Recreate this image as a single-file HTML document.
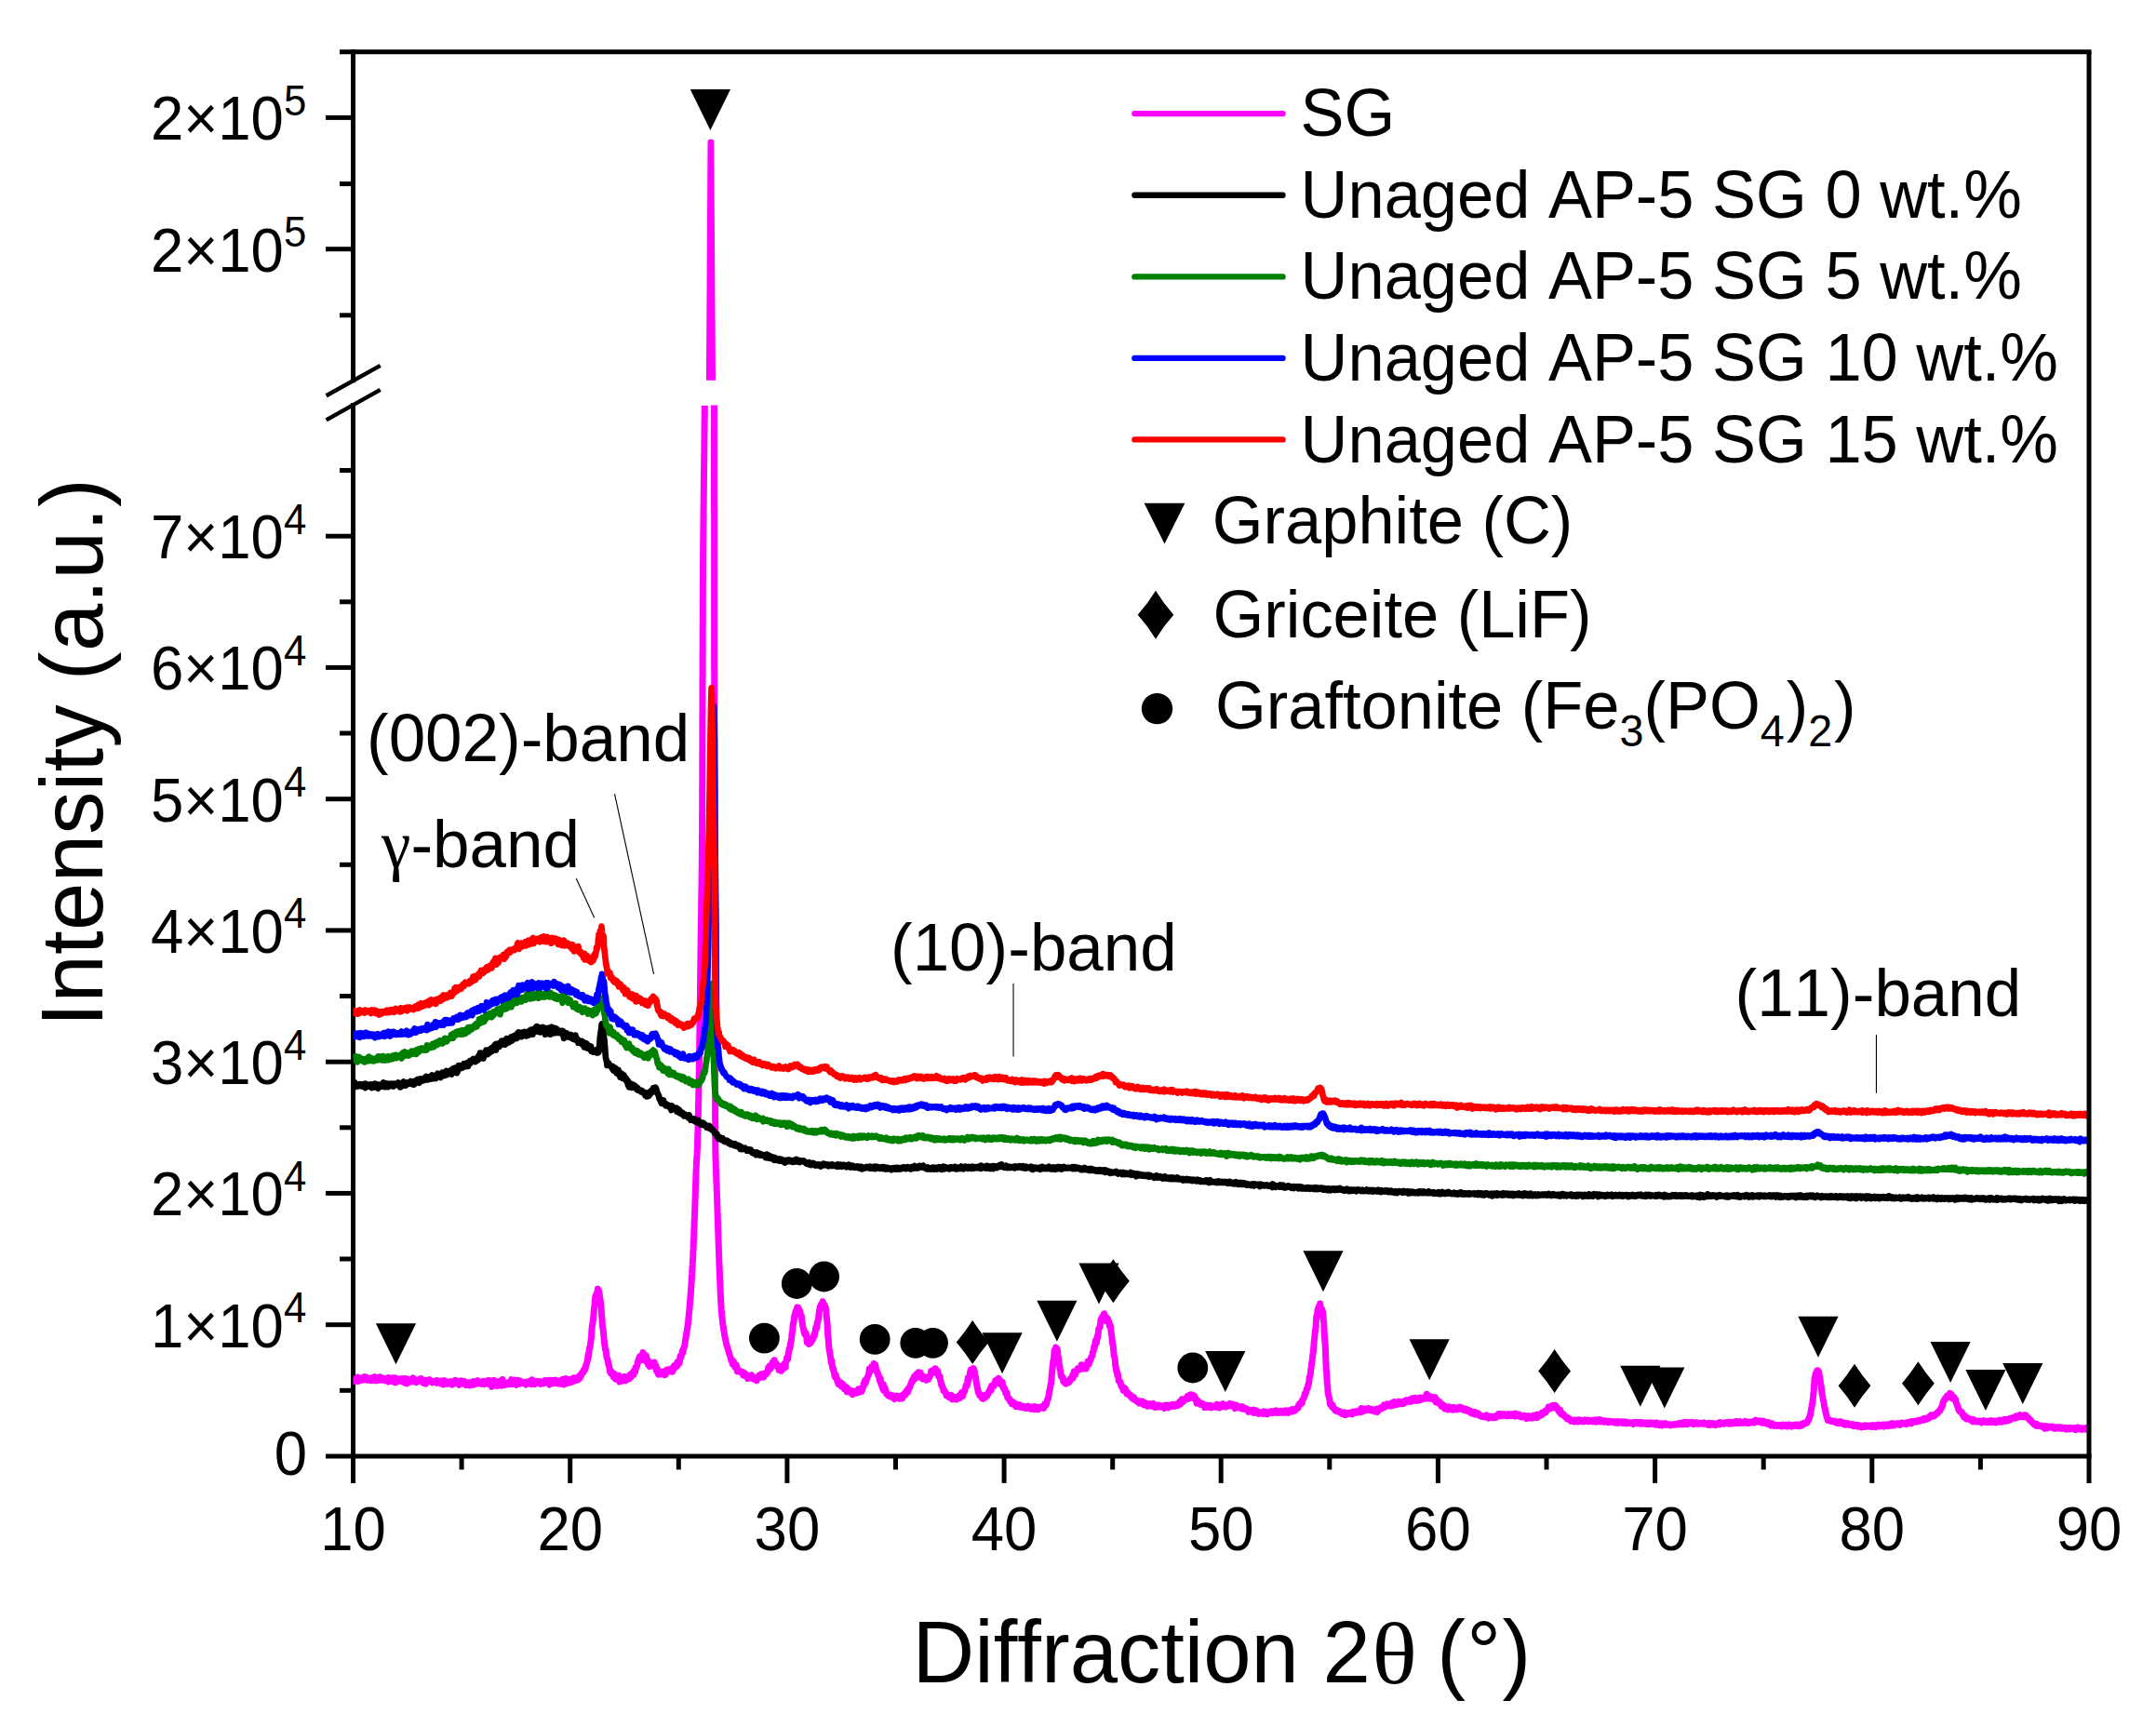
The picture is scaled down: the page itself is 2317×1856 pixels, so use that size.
<!DOCTYPE html>
<html lang="en">
<head>
<meta charset="utf-8">
<title>XRD diffraction patterns</title>
<style>
html,body{margin:0;padding:0;background:#fff;}
body{width:2317px;height:1856px;overflow:hidden;}
svg{display:block;}
text{font-family:"Liberation Sans",Arial,Helvetica,sans-serif;fill:#000;font-kerning:none;}
.sym{font-family:"Liberation Serif","Times New Roman",serif;}
</style>
</head>
<body>
<svg width="2317" height="1856" viewBox="0 0 2317 1856">
<rect x="0" y="0" width="2317" height="1856" fill="#fff"/>
<defs>
<clipPath id="clipLo"><rect x="379.5" y="435.5" width="1865.5" height="1129.4"/></clipPath>
<clipPath id="clipHi"><rect x="379.5" y="55.8" width="1865.5" height="353.4"/></clipPath>
<path id="tri" d="M-21.6 -22 L21.6 -22 L0 22 Z"/>
<path id="dia" d="M0 -23.5 Q8.1 -10.9 17.4 0 Q8.1 10.9 0 23.5 Q-8.1 10.9 -17.4 0 Q-8.1 -10.9 0 -23.5 Z"/>
<circle id="dot" r="16.4"/>
</defs>

<g stroke="#000" stroke-width="5.0" fill="none">
<path d="M379.5 53.3 L379.5 411.2"/>
<path d="M379.5 433.0 L379.5 1593.9"/>
<path d="M350.0 1564.9 L2247.5 1564.9"/>
</g>
<g id="curves">
<path d="M380 1482.8l.5 1.7 .5-.2 .5-2.3 .5 .2 .5-.3 .5 1.4 .5-.8 .5 1 .5-3.5 .5 4.5 .5-2.2 .5 1 .5-1.1 .5-.3 .5 1.1 .5 .4 .5-1.4 .5 .1 .5 1.1 .5-2.1 .5-.9 .5 2.5 .5-1.4 .5-1.7 .5 1.5 .5 .4 .5-.9 .5-.4 .5 2 .5 1.1 .5-1.5 .5-.7 .5 1.5 .5 .4 .5-1.3 .5 1.1 .5 .7 .5-1.7 .5-.8 .5 1.5 .5-.1 .5 1.1 .5-3.2 .5 .9 .5-.3 .5-1.2 .5 2.5 .5 .5 .1-1.6 .4 2.8 .5-.8 .5-.2 .5-.3 .5 .7 .5-3 .5 2.6 .5 0 .5-3.1 .5 2.8 .5-.8 .5 1.4 .5-1.6 .5 .6 .5 .5 .5-1.6 .5 2 .5-.9 .5 .8 .5-1.3 .5 2.2 .5-.6 .5-1.1 .5 1.2 .5 .8 .5 .8 .5-4.5 .5 3.3 .5-.5 .5-.7 .5-1.2 .5 3 .5-3.2 .5 2.4 .5 1 .5-3.8 .5 1.7 .5-1.2 .5 2 .5 1.7 .5 .7 .5-4.9 .5 1.6 .5 1.7 .5 1.1 .5-1.5 .5-1.5 .5 1.4 .2-.4 .3-.2 .5-.7 .5 1.5 .5-.1 .5-.5 .5-.2 .5-1.3 .5 1 .5 2.3 .5-1.8 .5-1.7 .5 3.7 .5-1.1 .5 2.1 .5-2.6 .5-.7 .5-1.3 .5 3.6 .5 1.7 .5-4.4 .5 .2 .5 1.6 .5-1.8 .5 .7 .5-.1 .5 .8 .5 1.2 .5-1.4 .5 1.1 .5-1.7 .5 1 .5-3.2 .5 .9 .5 3 .5-1.8 .5 1.5 .5-0 .5 1 .5-.7 .5 .3 .5-1.4 .5-.8 .5 0 .5 .3 .5-.8 .5 .8 .5 .6 .5 .5 .4-.8 .1-2 .5 2.4 .5 .4 .5 1.2 .5-.7 .5-1.5 .5-.1 .5 3.6 .5-1.6 .5 1.4 .5 .4 .5-3.8 .5 1.6 .5 .2 .5 .1 .5 0 .5-.4 .5 .1 .5-2.2 .5 1.8 .5-.7 .5 1.2 .5-.8 .5 1.5 .5 .3 .5-.6 .5 0 .5-.2 .5-.7 .5 .4 .5-.4 .5 1.2 .5-.4 .5 .7 .5-2.4 .5 2.9 .5-2.1 .5 .1 .5 .7 .5-.4 .5 1.1 .5-1.1 .5-.6 .5 .4 .5 2.7 .5-1.6 .5-1.5 .5 1.5 .5-1.9 0 4.2 .5-4.2 .5 2.6 .5 .1 .5-2.5 .5 2.2 .5 1 .5-.7 .5-.2 .5 .9 .5-1 .5 .2 .5-.5 .5 .9 .5-1.9 .5 2.2 .5-1.6 .5-.8 .5 1.9 .5 1.7 .5-.9 .5-1.9 .5 1.6 .5-1.5 .5 .5 .5 .3 .5-3.1 .5 3.2 .5-1.5 .5 .4 .5-.9 .5-.1 .5 .8 .5 2.2 .5 1.1 .5-2.1 .5 1.4 .5-1.7 .5-2.1 .5 2.6 .5 .4 .5-1.1 .5 .9 .5 .4 .5-1.8 .5-.8 .5 1.6 .5 0 .5-.2 .1 1.7 .4 1 .5-2.8 .5 1.5 .5 .3 .5-.3 .5 .4 .5-1.9 .5 1.5 .5 1.6 .5-1.6 .5-1.8 .5 1.5 .5 .9 .5-1.2 .5-1.2 .5 2.7 .5-3.6 .5 2.2 .5-.7 .5-1.5 .5 3 .5-1.1 .5-1.9 .5 2.2 .5-1.3 .5-1.9 .5 1.5 .5 1.2 .5 .4 .5-.6 .5-.2 .5 .5 .5-.8 .5 1.7 .5-1.3 .5 .1 .5 .3 .5-2 .5 .4 .5 2.9 .5-1.6 .5-.8 .5 .8 .5-1 .5 .9 .5-1.2 .5 1.2 .5-2.4 .2 3.8 .3-2.4 .5-1.4 .5 1.8 .5-.2 .5 .7 .5-1.7 .5 2 .5 4.1 .5-6.2 .5 2 .5-.8 .5 .7 .5-2.6 .5 .9 .5 2 .5-.6 .5 2.2 .5-3 .5 1.1 .5 3.5 .5-4.6 .5-.2 .5 1.1 .5 0 .5 1.2 .5-.9 .5-1.1 .5 1.2 .5 3.1 .5-1.7 .5-5.1 .5 3.3 .5-.9 .5 1.9 .5-1 .5 2.7 .5-1.3 .5 0 .5-.9 .5-.3 .5 .5 .5 1.3 .5-1 .5-1.1 .5 2 .5-1.3 .5-.4 .5-.9 .3 .3 .2-.1 .5-2.7 .5 4.8 .5-.5 .5-1 .5 1.6 .5-.8 .5-.1 .5-3.6 .5 2.8 .5 1 .5 1.3 .5 .3 .5-.5 .5-3.3 .5-1.3 .5 3.5 .5-.7 .5 1.1 .5-1.3 .5 .4 .5-2.2 .5 2.4 .5-1.1 .5 1 .5 .1 .5-.7 .5 .5 .5-.4 .5 1 .5-.4 .5-1.3 .5-.1 .5 3 .5-2.4 .5 1.4 .5-.8 .5-1.2 .5-.3 .5 1.1 .5 .2 .5 .4 .5-2.4 .5 .9 .5 .6 .5 2.1 .5-5 .5 3.5 .4-1.2 .1 1.2 .5-1.2 .5 1.1 .5 1.5 .5-1.5 .5 .1 .5-.1 .5-1.5 .5 1.7 .5-1 .5-.8 .5 1 .5-.2 .5 1.2 .5-1 .5-.7 .5 2.6 .5-.6 .5 .3 .5-.8 .5-1 .5-.4 .5 .2 .5 1.6 .5-1.1 .5-2.1 .5 1.9 .5-1.8 .5 2 .5-1.7 .5-.1 .5 1.7 .5-.2 .5-2.1 .5 3.1 .5 1.8 .5-4.7 .5 4.2 .5-3.2 .5 .3 .5 .4 .5-1.7 .5 3.5 .5-1 .5-1.6 .5 .6 .5-1.6 .5 1.4 .5 1.7 .1-3.4 .4 1.6 .5 .7 .5 1.2 .5 .3 .5-2.3 .5-.4 .5 1.5 .5-1 .5 0 .5 1.8 .5 .8 .5-1.9 .5-.6 .5 1 .5-3.2 .5 2.4 .5-1.4 .5 4.4 .5-2.2 .5-.7 .5-.5 .5-3 .5 4.1 .5 1.2 .5-3.1 .5 1.8 .5-0 .5-3 .5 3.2 0 .5 .5-1.5 .5-.4 .5 1 .5-3.1 .5 2 .5 1.1 .5-3.1 .5 2.8 .5-2 .5-2.3 .5 2.4 .5-1.4 .5 1.5 .5-2.1 .5 2.7 .5-2.6 .5 1.2 .5-1.5 .5 .1 .2 1.9 .3-1.5 .5-1.1 .5-1.6 .5 2.8 .5-1.1 .5-2.1 .5 .2 .5-2.5 .5-.8 .5-.5 .5 .8 .5-1 .5-2.5 .5 1.2 .4-.8 .1-1.1 .5 .1 .5-3.5 .5-1.4 .5-.9 .5-2.8 .5-.9 .5-5.6 .5 1.8 .5-6.2 .2-.3 .3-3.4 .5-.1 .5-2.7 .5-4.4 .5-4.7 .5-8.3 .5-3.2 .4-2.6 .1-2 .5-1.6 .5-6.9 .5-5.8 .5-4.1 .5-6.5 .5-2.8 0 .1 .5 .2 .5-2.2 .5-1.1 .5-.1 .4-4.2 .1 1.3 .5 1.6 .5-1.3 .5 3 .5 4.5 .3 1.5 .2 .9 .5 2.7 .5 5.5 .5 8.6 .5 3.9 .2 3.7 .3 4.3 .5 2.3 .5 4.5 .5 5.7 .5 5.4 .5 3.7 .1 .3 .4 3.2 .5-.3 .5 4.3 .5 4.4 .5 .9 .5 1.6 .5 2.2 .2 1.3 .3 2 .5 .2 .5 3.4 .5 3.5 .5-1.5 .5 3.2 .5-.4 .5-1.1 .5 2 .5-.4 .1 2.5 .4-2.2 .5 3.9 .5-.5 .5-3.1 .5 4.3 .5 1.5 .5-2.8 .5 2.7 .5-3.4 .5 3.1 .5-2.4 .5 3.1 .5-2.9 .5-1.1 .3 4.1 .2 2.5 .5-3.9 .5 1.9 .5-1 .5-.6 .5 1.2 .5 1.3 .5-3.9 .5 2.3 .5-.4 .5-2.5 .5 4 .5 .3 .5-4 .5 3.5 .5-2.5 .5-.4 .5 2.1 .5-1.9 .5-.1 .5 1.5 .5-.6 .2-.6 .3-3.3 .5-.5 .5 3.3 .5-3.3 .5 1 .5-2.3 .5 .6 .5-2.3 .5 3.5 .5-4.6 .5 .5 .5-1 .2 1.8 .3-4.5 .5 .8 .5-1.8 .5-.5 .5-1.7 .5-3.2 .5-.5 .5-2.4 .5 .2 .5-1.6 0-.9 .5 .5 .5 .1 .5 2.7 .5-4.9 .5 1 .5 1.7 .5-5.8 .1 .5 .4 1 .5 2.2 .5 4.8 .5-2.5 .5 2.1 .5-1.6 0-3.5 .5 .9 .5 6.2 .5-.5 .5-1.5 .5 4.8 .5-3.5 .5 4.8 .5 .9 .4-3.3 .1-.6 .5 3.2 .5-3 .5 3.1 .5-3.2 .5 3.2 .5-1.1 .5-.8 .5-.7 .5 1.9 .2-3.3 .3 2.7 .5 .3 .5 2.6 .5-1.9 .5 5.7 .5-1.9 .5-.1 .5 4.6 .5 1.1 .5-2.5 0-1 .5 1.3 .5-1 .5 .5 .5 2.7 .5-1.7 .5-.4 .5 .2 .5-.6 .5 1.2 .5-0 .5-1.9 .5 .6 .5 3.3 .5-3 .2-.9 .3 3.2 .5-3 .5-1.8 .5 2.5 .5-2.5 .5 .4 .5 1.1 .5-.9 .5-1.2 .5 .1 .5-.3 .5 2.4 .5-3.1 .5-.1 .5 3.6 0-3.9 .5 2.8 .5-.6 .5-2.7 .5-2.3 .5 2.3 .5-.2 .5-.1 .5-2 .5 1.2 .5-.4 .5-4.6 .5 3.2 .5-2.7 .5-2 .2 0 .3 3.1 .5-2.4 .5-5.5 .5 1.9 .5-1.5 .5-1.3 .5-1.9 .5-3 .5 2.3 .5-4.4 .5-.6 .7-2.8 3.7-23.2 .3-3 .3-3 .2-3 .3-3 .3-3 .3-3 .2-3 .3-3 .2-3 .2-3 .3-3 .2-3 .2-3 .2-3 .2-3 .2-3 .2-3 .2-3 .1-3 .2-3 .2-3 .1-3 .2-3 .2-3 .1-3 .1-3 .2-3 .1-3 .1-3 .1-3 .2-3 .1-3 .1-3 .1-3 .1-3 .1-3 .1-3 .2-3 .1-3 .1-3 .1-3 .1-3 .1-3 .1-3 .1-3 .1-3 .1-3 .1-3 .1-3 .1-3 .1-3 .1-3 .1-3 .1-3 .1-3 .2-3 .1-3 .1-3 .2-3 .2-3 .2-3 .1-3 .2-3 .1-3 .1-3 0-3 .1-3 .1-3 .1-3 .1-3 0-3 .1-3 .1-3 .1-3 0-3 .1-3 .1-3 0-3 .1-3 .1-3 0-3 .1-3 0-3 .1-3 .1-3 0-3 .1-3 0-3 .1-3 0-3 .1-3 0-3 .1-3 0-3 .1-3 0-3 .1-3 0-3 .1-3 0-3 0-3 .1-3 0-3 .1-3 0-3 .1-3 -0-3 0-3 .1-3 0-3 .1-3 -0-3 0-3 .1-3 0-3 0-3 .1-3 0-3 .1-3 -0-3 0-3 .1-3 0-3 0-3 .1-3 0-3 .1-3 -0-3 0-3 .1-3 0-3 0-3 .1-3 0-3 .1-3 -0-3 0-3 .1-3 0-3 .1-3 0-3 0-3 .1-3 0-3 .1-3 0-3 .1-3 0-3 .1-3 0-3 0-3 .1-3 0-3 .1-3 0-3 .1-3 0-3 .1-3 -0-3 0-3 .1-3 0-3 0-3 .1-3 0-3 0-3 .1-3 -0-3 0-3 0-3 .1-3 -0-3 0-3 0-3 0-3 .1-3 -0-3 -0-3 -0-3 0-3 0-3 0-3 0-3 .1-3 -0-3 -0-3 -0-3 0-3 0-3 0-3 0-3 0-3 .1-3 -0-3 -0-3 -0-3 -0-3 -0-3 0-3 0-3 0-3 0-3 0-3 0-3 0-3 .1-3 -0-3 -0-3 -0-3 -0-3 -0-3 -0-3 0-3 0-3 0-3 0-3 0-3 0-3 .1-3 -0-3 -0-3 -0-3 -0-3 -0-3 -0-3 0-3 0-3 0-3 0-3 0-3 0-3 .1-3 -0-3 -0-3 -0-3 0-3 0-3 0-3 0-3 0-3 .1-3 -0-3 -0-3 -0-3 -0-3 0-3 0-3 0-3 0-3 0-3 .1-3 -0-3 -0-3 -0-3 0-3 0-3 0-3 0-3 0-3 .1-3 -0-3 -0-3 0-3 0-3 0-3 0-3 .1-3 -0-3 -0-3 0-3 0-3 0-3 .1-3 -0-3 0-3 0-3 .1-3 -0-3 0-3 0-3 .1-3 -0-3 0-3 .1-3 -0-3 0-3 .1-3 -0-3 0-3 0-3 .1-3 0-3 0-3 .1-3 0-3 0-3 .1-3 0-3 0-3 .1-3 0-3 0-3 .1-3 -0-3 0-3 .1-3 -0-3 0-3 .1-3 -0-3 0-3 .1-3 -0-3 0-3 .1-3 -0-3 0-3 .1-3 0-3 0-3 .1-3 0-3 0-3 .1-3 0-3 .1-3 -0-3 0-3 .1-3" fill="none" stroke="#ff00ff" stroke-width="7.0" stroke-linejoin="round" stroke-linecap="butt" clip-path="url(#clipLo)" />
<path d="M767.5 433l-0 3 -0 3 -0 3 -0 3 -0 3 -0 3 -0 3 -0 3 -0 3 -0 3 -0 3 -0 3 -0 3 -0 3 -0 3 -0 3 -0 3 0 3 0 3 0 3 0 3 0 3 0 3 0 3 0 3 0 3 0 3 0 3 0 3 0 3 0 3 0 3 0 3 0 3 0 3 0 3 0 3 .1 3 -0 3 -0 3 -0 3 -0 3 -0 3 -0 3 -0 3 -0 3 -0 3 -0 3 -0 3 -0 3 -0 3 -0 3 -0 3 -0 3 -0 3 -0 3 -0 3 -0 3 -0 3 -0 3 0 3 0 3 0 3 0 3 0 3 0 3 0 3 0 3 0 3 0 3 0 3 0 3 0 3 0 3 0 3 0 3 0 3 0 3 0 3 0 3 0 3 0 3 0 3 0 3 0 3 0 3 0 3 0 3 0 3 0 3 0 3 0 3 0 3 0 3 0 3 .1 3 -0 3 -0 3 -0 3 -0 3 -0 3 -0 3 -0 3 -0 3 -0 3 -0 3 -0 3 -0 3 -0 3 -0 3 -0 3 -0 3 -0 3 -0 3 -0 3 -0 3 -0 3 -0 3 -0 3 -0 3 -0 3 -0 3 0 3 0 3 0 3 0 3 0 3 0 3 0 3 0 3 0 3 0 3 0 3 0 3 .1 3 -0 3 -0 3 -0 3 -0 3 -0 3 -0 3 -0 3 0 3 0 3 0 3 0 3 0 3 0 3 .1 3 -0 3 -0 3 -0 3 -0 3 -0 3 0 3 0 3 0 3 0 3 0 3 0 3 .1 3 -0 3 -0 3 -0 3 -0 3 0 3 0 3 0 3 0 3 0 3 0 3 .1 3 -0 3 -0 3 -0 3 -0 3 0 3 0 3 0 3 0 3 0 3 0 3 .1 3 -0 3 -0 3 -0 3 -0 3 -0 3 0 3 0 3 0 3 0 3 0 3 0 3 0 3 0 3 .1 3 -0 3 -0 3 -0 3 -0 3 -0 3 -0 3 -0 3 -0 3 0 3 0 3 0 3 0 3 0 3 0 3 0 3 0 3 0 3 0 3 0 3 .1 3 -0 3 -0 3 -0 3 -0 3 -0 3 -0 3 -0 3 -0 3 -0 3 -0 3 0 3 0 3 0 3 0 3 0 3 0 3 0 3 0 3 .1 3 -0 3 -0 3 -0 3 -0 3 -0 3 -0 3 0 3 0 3 0 3 0 3 0 3 .1 3 -0 3 -0 3 -0 3 -0 3 0 3 0 3 0 3 0 3 .1 3 -0 3 -0 3 -0 3 0 3 0 3 0 3 .1 3 -0 3 -0 3 0 3 .1 3 0 3 .1 3 .1 3 .1 3 .1 3 .1 3 .1 3 .1 3 .1 3 .1 3 .1 3 .2 3 .1 3 .1 3 .1 3 .1 3 .1 3 .1 3 .1 3 .1 3 .1 3 .1 3 .1 3 .1 3 .1 3 .1 3 .1 3 .1 3 .1 3 .1 3 .1 3 .1 3 .1 3 .1 3 .1 3 .1 3 .1 3 .1 3 .1 3 .1 3 .1 3 .2 3 .1 3 .1 3 .1 3 .1 3 .2 3 .1 3 .1 3 .1 3 .2 3 .1 3 .2 3 .1 3 .2 3 .2 3 .2 3 .3 3 .2 3 .3 3 .4 3 .3 3 .5 3 .4 3 .5 3 .5 3 .6 3 .6 3 .7 3 .8 3 .9 3 .9 3 .9 3 1 3 .1 .1 .5 2.7 .5 .6 .5 .9 .5 2.4 .5-3.6 .5 1.9 .5-.2 .5 2.7 .5 2.6 .5-.8 .5 1.5 .5-3 .5 3.8 .5-1 .2 4.2 .3-1 .5 .6 .5-1 .5 1.5 .5 .5 .5-1 .5 .2 .5 1 .5-.3 .5 .4 .5 .8 .5-.2 .5 2.4 .5-3 .5 3.7 .5-1.7 .5 .4 .5-.9 .5 1.9 .4-0 .1 .6 .5-.8 .5 1.1 .5 2.5 .5-1.7 .5-1.2 .5 2.3 .5-1.4 .5 1.2 .5 .2 .5-1.3 .5-1.9 .5 2.2 .5 1.4 .5-1.2 .5 1.2 .5 .8 .5-2 .5 2.4 .5 .5 0-.7 .5 .1 .5-.1 .5 1.5 .5-2.9 .5-.3 .5 .7 .5-2.1 .5-1 .5 .7 .5 1.6 .5-.1 .5-2.9 .5-.7 .5 2 .5-.1 .5-0 .5 .8 .5 .5 .5-1.6 .2 .4 .3-2.6 .5-.5 .5 1.4 .5 0 .5-.6 .5-.9 .5-.5 .5-.8 .5-4.5 .5 .7 .5 1.1 .5-.5 .2-3.4 .3 3.7 .5-3.1 .5-.3 .5 .1 .5 .1 .5-4 .5 3.3 .5-1.9 .5-1.6 .5 .7 0-3 .5 2.5 .5 1.5 .5-1.1 .5 1 .5 .7 .5 .8 .5 1.9 .1-1.5 .4-0 .5 1.8 .5 3 .5-3 .5 1.9 .5-2.7 .5 4.7 .3-1 .2 1 .5-2.3 .5-1.8 .5 2.4 .5-.8 .5-3.2 .5-1.7 .5 2.1 .5-1.9 .5 3.5 .1-5.3 .4-.8 .5-.6 .5-4 .5-.4 .5 2.2 .5-4.9 .5-3 .5-3.3 .5 .6 .4-1.9 .1-1 .5-3.9 .5-2 .5-3.3 .5-5.4 .5-1.5 .5-7.9 .5-2 0 1.4 .5-3 .5-5.4 .5-1.1 .5-1.6 .4-2.2 .1-.4 .5 .3 .5-1.2 .5-2.8 .5 1.3 .3 2.4 .2-3.9 .5 2.4 .5 .2 .5 .5 .5 1.3 .5 3.4 .2 1.1 .3 .8 .5-.9 .5 4.2 .5 3.5 .5 3.6 .5 2.1 .5 2.7 .5 2.6 .5 1.3 .1-2.4 .4 2.5 .5 .2 .5-1.3 .5 2.5 .5 7.3 .5-4.1 .5-1 .5 3.4 .5 3.8 .4-2.4 .1 .7 .5-1.2 .5-0 .5 1.7 .5-1.3 .5-2.1 .5 .8 .5-.6 .5-3 .5-.1 .2-.5 .3-2 .5 1.7 .5-3.6 .5-2.4 .5-3.5 .5-1.4 .5 2.4 .5-6.5 .5 .3 .1-1.7 .4-.8 .5-3.1 .5-5.8 .5-2.6 .5-2.2 .5-1.6 -0-.2 .5-1.5 .5 .6 .5 .3 .5-1.8 .5-2.4 .4 1.7 .1-.5 .5 1.1 .5 3.2 .5-2 .5 2 .5 .6 .5 3.1 -0-.4 .5 7.1 .5 3.8 .5 5.8 .5 11.6 .5 1.9 .5 9.3 .2 1.6 .3 1.9 .5 2.3 .5 3.6 .5 2.8 .5 4.8 .5-2.3 .5 5.3 .5 3.2 .5 .8 .5-.2 -0 2.4 .5 .7 .5 3.6 .5 2 .5-.6 .5-1.7 .5 3.4 .5-0 .5 3 .5 2.1 .5-1.1 .5 2.9 .5-0 0-1.1 .5-1.4 .5 1.9 .5-1.4 .5 3.6 .5-.7 .5 2 .5-1 .5-2.3 .5 3.5 .5 .7 .5 1.3 .5-2.8 .5 .4 .5 1.5 .2-1.2 .3-.2 .5 .7 .5 4.7 .5-3.4 .5-.1 .5 1.1 .5 .8 .5 1.9 .5-.1 .5 .2 .5-.6 .5 .4 .5-.6 .5-.8 .5 4.1 .5-2.6 .5 1.6 .2-1.4 .3 .2 .5-.1 .5-1.4 .5 1.3 .5 .4 .5 .4 .5-.6 .5 .4 .5-1 .5-.6 .5-2.5 .5 1.3 .5 2.1 .5-1.9 .5 .4 .5-1.5 .5-.9 .1 3.1 .4-2.3 .5 .7 .5-1.8 .5-1.9 .5-3.4 .5 1.8 .5-3.3 .5-2 .5 3.2 .5-1.9 .5-1.2 .5-1.9 .2-.5 .3-.1 .5-1.7 .5-1.4 .5-.5 .5-6 .5 3.6 .5-3.5 .5 1.3 .5-.3 .5-3.5 -0 2.5 .5-.3 .5-2.5 .5-0 .5 .8 .5-3.8 .5 2.7 .5 .9 .1-1 .4-1.5 .5 2.6 .5 4.2 .5 1.3 .5-.4 .5 .8 .5 2.7 .2 .7 .3-.3 .5 1.8 .5 2.7 .5 1.7 .5-3 .5 5.7 .5 .2 .5 2.4 .5-.3 .5 1.5 0 1.6 .5-4.7 .5 6.3 .5-.8 .5-1.5 .5-.1 .5 4.1 .5-.8 .5 3 .5-.3 .5 .2 .5 1.7 .5-.5 .1 .6 .4 .4 .5-.2 .5 .8 .5 .3 .5-2 .5 1.5 .5 .4 .5-0 .5-1.1 .5 1.3 .5 1 .5 0 .5 1.5 .5-2.2 .3 .2 .2-.1 .5 .2 .5-.3 .5-1.3 .5 2.2 .5 .5 .5 .1 .5-2.4 .5 .8 .5 2 .5-2.2 .5 .4 .5-.7 .5 1 .5-.2 .5 1.3 .5-2.1 .2-.2 .3-1.9 .5 .6 .5-.7 .5-.1 .5-1.6 .5 2.1 .5-3.1 .5 .7 .5-2.4 .5 1 .5 .8 .5-3.6 .3 .9 .2-.8 .5-.5 .5-.8 .5-2.4 .5-.5 .5-1.7 .5-1.5 .5-1.6 .5 1.7 .5-3.2 .5 .9 .5-.9 .3-2.5 .2 2.5 .5-3.2 .5 1.4 .5 .6 .5-3.6 .5-.8 .5-.4 .5 4.2 .5-4 .5-1.4 .1 2.9 .4-1.3 .5 .6 .5-.8 .5-1 .5 2.8 .5 .2 .5-.1 .5 1.1 .2 .3 .3 2.5 .5 0 .5-.1 .5-1.2 .5-.8 .5 2.2 .5 .3 .5 .8 .5-1.3 .5-.1 .5 .6 .3-1.6 .2 .1 .5 1.5 .5-3.2 .5 .6 .5 0 .5-2 .5-.9 .5-3.3 .5 .5 .5-.8 .1 1.2 .4-.6 .5-.9 .5 2.4 .5-2.3 .5-1.5 .5-.6 .5 .8 .2-.8 .3 3.3 .5-1.2 .5-.5 .5 .5 .5 .5 .5 2.4 .5 3.5 .3 .1 .2-.9 .5 1.6 .5-1.1 .5 5.2 .5 .4 .5 3.8 .5-.3 .5 1.2 .5 2.2 .5 .2 .2 2.6 .3-.7 .5 1 .5 .7 .5-0 .5 1.6 .5 .3 .5 2.4 .5-1.3 .5 .8 .5-.4 .5 .5 .5 .4 .2 1.8 .3-1.2 .5 1.2 .5-1 .5 .1 .5-1.4 .5 3.1 .5 1.4 .5-2.1 .5 1.8 .5-.4 .5-1.5 .5 1.6 .5-1.6 .5 .7 .5 1.6 .4-1.1 .1-1.3 .5 2.5 .5-2.6 .5 .7 .5-.4 .5-.1 .5-1.1 .5-1.2 .5 3.2 .5-3.4 .5-.4 .5-2.2 .5 2.2 .5 .7 .2-.1 .3 1.1 .5-2.1 .5-2.1 .5-1.4 .5 .5 .5-3 .5-1 .5-2.7 .5-.1 .5 1 .5-3.8 -0 .5 .5-5.1 .5 3 .5-3.2 .5-.5 .5-3.4 .5-3.1 .5-1.8 .3 2.4 .2-.9 .5-1.8 .5 1.1 .5-1.1 .5 1.8 .5-1.7 .2-1.3 .3 2 .5 .9 .5 5.4 .5 .2 .5 1.7 .1 2.4 .4 1.6 .5 3.5 .5 2.9 .5 1.4 .5 3.4 .5 1.5 0-1.1 .5 1.5 .5 1.7 .5-1.1 .5 1.2 .5 1.1 .5 .8 .5 .9 .4-1.9 .1 1.7 .5 .3 .5 .8 .5-2.3 .5-.7 .5-1 .5 1.8 .5 .4 .5-2.5 .5 .8 .5 0 .2-0 .3-1.8 .5 .6 .5-1.5 .5-1.8 .5 .5 .5-.8 .5-2.5 .5 .7 .5 .9 .5-5 .5 1.9 .5-.4 .2-1.3 .3 0 .5-1.3 .5 1.5 .5-3.4 .5 .4 .5-2.8 .5 2.4 .5-.3 .5-3 .5 .7 .5 1.6 .5-1.4 .2-1 .3-1.6 .5 3.7 .5 2.2 .5-3 .5 1.4 .5 .2 .5-.4 .4 .4 .1 .1 .5-.6 .5 5.1 .5 1.5 .5-1.5 .5 3.3 .5-1.5 .5 2.2 .5 3 .5-1.3 .2 .2 .3 2.4 .5-1.5 .5 4.9 .5-0 .5 .4 .5 1.3 .5-.7 .5 .8 .5 2.5 .5 .7 .5-.2 .5 .3 .2-.3 .3 2.1 .5-2.4 .5 1 .5 .6 .5-.6 .5 .5 .5 .5 .5 2.1 .5 1 .5-1.1 .5-1.5 .5 1.1 .5 .6 .5 .1 .5 .1 .5 .9 .5-2.1 .5 1.4 .5 .7 .4 .5 .1-.3 .5-.2 .5-.1 .5-.3 .5 .7 .5-.2 .5-.4 .5 1.7 .5 .1 .5-1.3 .5 .9 .5 .5 .5-.7 .5-.1 .5 .3 .5-1.8 .5 .3 .5 1.7 .5-.2 .5 .9 .5-1.5 .5 1.3 .5 0 .5 .8 .4-2.4 .1 .4 .5 .5 .5 0 .5-1 .5 .3 .5-.6 .5 3.1 .5-2 .5 0 .5-.5 .5 .5 .5 .7 .5-1 .5 .3 .5 1.9 .5-1.1 .5-.6 .5-.5 .5 .3 .5-.6 .1 .8 .4-.8 .5-.2 .5 .1 .5-.9 .5 .8 .5 1.6 .5-3.3 .5-1.4 .5 1.7 .5-1.6 .5 1.2 .5-2.2 .1 .3 .4-2.3 .5-2.2 .5-.3 .5-1.2 .5-3.9 .5-3.3 .5-1.6 .2-1.1 .3-1.5 .5-3.3 .5-1.2 .5-7.7 .5-5.4 .5-5.2 .1 1.9 .4-6.8 .5 .5 .5-6.5 .5-5.8 .5 .8 0-.5 .5 1.5 .5-5 .5 2.3 .5-.5 -0 1.6 .5-1.8 .5 3.8 .5 8.4 .4 .4 .1-2.6 .5 6.1 .5 1.7 .5 3.6 .5 2.2 .5 5.5 .3-1.2 .2 1.5 .5 1.1 .5-.9 .5 2.1 .5 3 .5-2.2 .5 3.1 .5 .1 .5 1.3 .5 .2 .1 .2 .4-1 .5 .1 .5-1.4 .5-0 .5 1.5 .5-2.3 .5 1.7 .5-.4 .5-2.8 .4 1.4 .1-1.9 .5 1 .5-2.2 .5 .7 .5-1.1 .5-2.6 .5 3.3 .5-2.5 .5-4.5 .5 1.8 .5-1.8 .5 2.9 .5-3.6 -0 .7 .5-1.3 .5 .8 .5-2 .5-.9 .5 .3 .5-.2 .5 1.3 .5-1.1 .5-1 .5-.2 .5-1 .5 1.3 -0-3.3 .5 2.6 .5 1.9 .5-2.5 .5-.6 .5 .9 .5-1.7 .5 .1 .5 2.1 .5-2.2 .5 3.7 .5-2.4 .5-1.3 0-.8 .5 .1 .5-3.8 .5 3.2 .5 .1 .5-1.6 .5-2.8 .5 .5 .5-1.3 .5-2.6 .5-.7 .5-.2 .5-2.4 0-1.5 .5-.6 .5-1.3 .5-4.4 .5 1.1 .5-2.1 .5-5.1 .5-1.2 .5 3.8 .5-4.7 .4 .4 .1-3.2 .5 .8 .5-4.1 .5-4.7 .5-1.1 .5-.3 .5-.9 .5-4.7 -0-1.5 .5-2.2 .5 1.1 .5-.7 .5-2.7 .5-1.2 .5 1.1 .1-.5 .4-.1 .5-2.9 .5 2.2 .5 3.9 .5-2.6 .5 4.4 0-3.3 .5-.5 .5 1.6 .5 1.3 .5-1.1 .5 2.6 .5 .2 .5 4.5 .1-2.7 .4 2.2 .5-.1 .5 3.2 .5 5.5 .5 2.3 .5 4.5 .3 2.8 .2 2.1 .5 .6 .5 6 .5 5.4 .5 1.7 .5 2.4 .2 2 .3 5.6 .5 .3 .5 4.9 .5-.3 .5 4.5 .5-1.7 .5 3.5 .3 1.4 .2 2.8 .5-.4 .5 2.1 .5-.8 .5 1.1 .5 3.2 .5 1.1 .5 .7 .5 .8 .5-1.3 .5 4 .5-1.6 .3 1.7 .2-.4 .5-2.2 .5 .4 .5 1.1 .5 2.3 .5 1.9 .5-.9 .5 1.7 .5-1.7 .5 1.1 .5 .2 .5 1.5 .5-.8 .5 1.6 .5 1.1 .5-.7 .5-0 .5 .8 .5-.4 .5 .5 -0 1.9 .5-.2 .5-1.4 .5 1.5 .5 1 .5 .7 .5 .1 .5 .6 .5-.7 .5 .3 .5 .1 .5 1.5 .5 .1 .5 1.1 .5-.4 .5-1.6 .5-.4 .5 .3 .5 .7 .5 1.6 .5-1.7 .5-.4 .5 1.9 .5 1.1 .5 .1 0 .8 .5-1.4 .5-.4 .5 .4 .5-.8 .5 .8 .5 1.9 .5 .8 .5-.6 .5-.7 .5-.4 .5 .6 .5-1.8 .5 2.3 .5 .3 .5-.7 .5 .2 .5-1.5 .5 2.3 .5 .1 .5-3.1 .5 2 .5 .8 .5 1.2 .5-2.2 .1 .7 .4 1.4 .5-.9 .5-.6 .5-.2 .5 .4 .5-.7 .5 1.6 .5-1.7 .5 1.3 .5 .3 .5 .2 .5-.9 .5-.1 .5 .3 .5-.2 .5 .9 .5-1.1 .5 1.8 .5 .8 .5-3 .5 .9 .5-1.4 .5 1.7 .5-.3 .5-.5 .5-.8 .5 1 .5 1.7 .5-.3 .5-1.1 .5-.9 .5 .5 .5-.7 .5-.5 -0 .4 .5 1.3 .5-.3 .5-.1 .5-1.3 .5-.4 .5 2.1 .5-1.4 .5 1.2 .5-1.9 .5 1.4 .5-.9 .5-.9 .5-.2 .5 1.9 .5-1.1 .5-1.4 .5 .1 .5-1.9 .5 2.8 .5-.5 .5-2 .5 .5 .5-3.4 .5 3.3 0-.5 .5-.4 .5 .1 .5-.9 .5-1.7 .5-.2 .5 0 .5 .7 .5-1.4 .5-1.1 .5 .6 .5-1.9 .5 3.1 0-1.9 .5-1.5 .5 1 .5 .7 .5-.8 .5 1.5 .5-3.8 .5 3.1 .2-1.7 .3 1 .5 1 .5-2.8 .5 .2 .5 1.5 .5-.9 .5 .2 .5 2.6 .5 1.6 .5-1.2 .5 1.4 .5 3.5 .5-2.8 .5-.1 .5 .6 .5 1.1 .5-.2 .5 1.4 .5 0 .5 1.1 .5-.3 .5 .1 .5-.5 .5-.2 .2 1.1 .3 0 .5 .8 .5-.2 .5-.1 .5 2.5 .5-1.6 .5 1 .5-1.9 .5 1.9 .5 .3 .5-.6 .5-1 .5 1.9 .5-1.6 .5-.7 .5-0 .5 1.5 .5-.4 .5 1.1 .4-.1 .1 .6 .5-.9 .5-.2 .5-.1 .5-.7 .5-.1 .5 0 .5 .8 .5-1 .5 .7 .5 .9 .5-3.1 .5 1.3 .5-.2 .5 .8 .5-1.3 .5 .6 .5 2.6 .5-3.3 .5 1 .5 .2 .5-.5 .5-.8 .5 1.9 .5-2.7 .5 .8 .5 .6 .5-.4 .5 1.6 .5-1.4 .5 2 .5-1.8 .5 1.4 .5-1 .3-.6 .2-.1 .5 1.2 .5-1.4 .5 .5 .5-.6 .5-1.1 .5 2.4 .5 .1 .5-1.6 .5 1.6 .5-.5 .5-1.4 .5 .9 .5 1.6 .5 .4 .5-.5 .5 2.2 .5-2 .5-.9 .5-.5 .5 2.7 .5-1.6 .5 .2 .5-.3 .3 .1 .2 .5 .5 .8 .5 .2 .5-0 .5 .6 .5-1.1 .5-.3 .5 1 .5-1.5 .5 2.6 .5-.1 .5 .2 .5-1.2 .5 .7 .5 .6 .5-.7 .5 .1 .5 .9 .5 .4 .5-.5 .5 1.6 .5 1.1 .5-1.2 .5-.5 .4-.1 .1 1.6 .5-.9 .5 .3 .5-.2 .5-.5 .5 1.8 .5-1.3 .5 .4 .5-1.7 .5 3.6 .5-1 .5-.6 .5-.5 .5 .3 .5-.8 .5 1.8 .5-.9 .5 1.1 .5 .1 .5 1.2 .5-1.2 .5 .1 .5 .2 .5-.8 .5 .3 .5 .5 .5 .7 .5-.3 .5-.8 .3 1.2 .2-1.3 .5-.9 .5 2.4 .5-1.2 .5-.4 .5-.6 .5 .6 .5 1.6 .5-1.4 .5 1.8 .5-1.8 .5 .8 .5-.9 .5-.4 .5-0 .5 0 .5-.7 .5-.1 .5 1.2 .5 .6 .5-.9 .5-.1 .5-.8 .5 1.5 .5-.1 .5-1.7 .5 .9 .5-.4 .5-.9 .5 2.4 .5-.3 .5-.7 .5 .8 .5-1.5 .2 .6 .3 .9 .5-1.3 .5 .4 .5-1 .5 1.3 .5 .4 .5-1.7 .5 .2 .5 .5 .5 1.2 .5-1.5 .3-.3 .2 .6 .5 1 .5-2.2 .5 1.1 .5 1.1 .5-1.1 .5-.2 .5 .8 .5-1.7 .5 2.6 .5-1.4 .5-.7 .5 .3 .5-.2 .5-.3 .5-.8 .5 .6 .5-1.3 .5 2.4 .4-2.1 .1 .3 .5-.2 .5 1 .5-1 .5 1.1 .5-1.9 .5 .1 .5-.6 .5-.7 .5 .7 .5-.4 .5-.4 .5-3 .5 1 .5-1.9 .2-.3 .3-.9 .5 0 .5 .7 .5-0 .5-.6 .5-3.5 .5-.7 .5-.3 .5-1.2 .5-1.1 .5-3.3 .5 .3 .2 .2 .3-1.1 .5-1.9 .5-2.3 .5-1.1 .5 .2 .5-3.4 .5-1.4 .5-1.5 .5-6.1 .5-.1 0-.5 .5-1.3 .5-5.5 .5-3.4 .5-4.4 .5-2.6 .5-4.9 .5-4 .2-.6 .3-4.2 .5-6 .5-4.5 .5-5.7 .5-3.5 .5-3.1 0-3.1 .5-7 .5 .7 .5-4.8 .5-4.2 .5-.2 -0 3.4 .5-5.9 .5 .2 .5 1.5 .5-5.1 .4 4.2 .1 2.4 .5-.5 .5 .4 .5-.3 .5 1.5 .3 5.4 .2-3 .5 6.8 .5 3.2 .5 10.8 .2 3.7 .3 4.3 .5 5.8 .5 12.9 .5 12.3 .1 1.2 .4 3.8 .5 10.4 .5 3.5 .3 6.2 .2 .9 .5 2.4 .5 2.4 .5 1.7 .5 3.1 .2 2.6 .3-.3 .5 .7 .5 1.5 .5-.5 .5 1.8 .5-2.2 .5 2.7 .5 .6 .5 .8 .5 .3 .1 .6 .4-.7 .5 1.6 .5-.7 .5 1.2 .5-.3 .5 .9 .5-.1 .5-.6 .5 .9 .5-.9 .5 1.3 .5 .4 .5-.3 .5 .3 .5 1.1 .5 .3 .5 .3 .5-1.4 .5 .3 .5 1 .5 .2 .5-2 .5 3 .5-.6 .5-1.8 .5 1.8 .3-1.1 .2 .2 .5-.7 .5 .1 .5 .3 .5 .3 .5-1 .5 .8 .5-.6 .5 0 .5-.3 .5 0 .5 1.6 .5-2.6 .5 .1 .5 .9 .5-.5 .5-.6 .5 1 .5-1.3 .5 .8 .5 .6 .5-.5 .5-.7 .5 .1 .4 0 .1 .3 .5-1.3 .5 1.6 .5-.6 .5 .8 .5-1 .5-0 .5-3.4 .5 1.9 .5 1.7 .5-1.4 .5-.8 .5 .8 .5-.6 .5 .1 .5-1 .5 .9 .5 .8 .5-1.1 .5 .1 0-.9 .5 1 .5-.8 .5-.7 .5 .8 .5 .3 .5 .7 .5 .4 .5-.9 .5-0 .5 .9 .5-1.2 .5 .6 .5 .2 .5 .1 .5-.3 .5 1.9 .5-.5 .5-.9 .5-1 .2 .7 .3 .9 .5-2.1 .5 3.5 .5-2.3 .5-.2 .5 .4 .5-2 .5 .9 .5-.4 .5 .3 .5-1.8 .5 1.1 .5 .1 .5-1.1 .5-1 .5-.6 .5-1.1 .5 .8 .5 .8 .3 .8 .2-.5 .5 0 .5-1.6 .5-.1 .5-1.1 .5 .7 .5-.6 .5 .7 .5 .8 .5-.8 .5-.3 .5 .8 .5 .7 .5-.5 .5-2.6 .5 3 .5-2 .5-1 .5 .9 .5 1.1 .5-3.4 .5 3.5 .5-1.1 .5 .2 .4-1.8 .1 .7 .5-.7 .5 2.1 .5-2 .5 1 .5-1.1 .5-1.1 .5 2.3 .5 .1 .5 .2 .5-2.1 .5 .4 .5 .5 .5-.5 .5-.2 .5 1.8 .5-2.7 .5 1.1 .5-1.5 .5 1.7 .5-1.7 .5-.8 .5 1.5 .5-.8 .5-.5 .5 0 .5-.4 .5 1 .5-.3 .4 1.2 .1-2.3 .5 2 .5-.9 .5-2 .5 2.8 .5-3.3 .5 2.2 .5-2.4 .5 2.1 .5-.7 .5 0 .5-1.6 .5 1.1 .5 1.8 .5-.6 .5-.7 .5-.1 .5-.6 .5 2 .5-1.6 0 1.1 .5-2.6 .5-.2 .5 2.7 .5-2.4 .5 .4 .5 .5 .5 .2 .5-.5 .5-.3 .5 .9 .5-1.6 .5 .4 .5-1 .5-0 .5 1.7 .5-2.3 .5-2.4 -0 2.7 .5 .1 .5 1.8 .5-2.3 .5-.7 .5 1.4 .5 1.9 .5-2.2 .5 1.8 .5-.6 .5 .3 .5-1.4 .5 1.1 -0-1 .5 1.1 .5-.5 .5 2.1 .5-1.3 .5 .6 .5-1.6 .5 1.7 .5 3.8 .5-2.4 .5-.7 .5 2 .5 .2 .5 .1 .5 .6 .2-0 .3 1.5 .5-1.7 .5 1.7 .5 1 .5-1.2 .5 3.3 .5-1.6 .5 .2 .5 0 .5 1.6 .5-1.7 .5 2.2 .5 1.8 .5-1.3 .5 .7 .5-1.3 .5 1.6 .5-1.1 .5 .4 .4 .4 .1 1.6 .5-2.1 .5-1.1 .5 1.8 .5 .6 .5-.1 .5-.3 .5 1 .5-.4 .5 0 .5-1.1 .5-.8 .5 2.6 .5-2.1 .5 1.9 .5-.1 .5-2 .5 .5 .5 .9 .5 .5 .5-1.7 .5 .6 .5-.6 .5-.1 .5 1.1 .5-.5 .5-1.3 .5 2.1 .5-.7 .5 .1 .5-.8 .5 1.8 .5-.4 .5 .1 .2-.3 .3 .4 .5 1.1 .5-1.1 .5 .2 .5-.4 .5 1.1 .5-.6 .5-.1 .5 1.7 .5-.8 .5-.3 .5 .4 .5 .5 .5-.2 .5 2.3 .5-.4 .5-1.2 .5 2.2 .5-.9 .5 .7 .5-.2 .5 .8 .5 .2 .5 .4 .3 .2 .2-2.6 .5 1.8 .5 .5 .5-0 .5-.8 .5 .9 .5 .3 .5-1.2 .5 1 .5 1.3 .5-.9 .5 .5 .5 .3 .5 .5 .5 .3 .5 .4 .5-.6 .5 .2 .5-.1 .5 .4 .5-.2 .5 .8 .5 0 .5-1.4 .5-.5 .5 2 .5-.6 .5-.7 .5 1.8 .5 .5 .5-1.8 .5 .1 .5 .2 .5-.1 .2 .5 .3-.7 .5 .8 .5-.4 .5 1 .5-.9 .5 .6 .5 .3 .5-.8 .5-0 .5-1 .5 .2 .5 1.5 .5-.8 .5-1.1 .5-.5 .5 .1 .5 .7 .5-2.4 .5 1.6 .5-1.3 .5 2 .5-2.2 .5 1.7 .5-.9 .2 .2 .3 1.2 .5-1.2 .5 .5 .5-.2 .5-1.2 .5 .9 .5 .7 .5-.5 .5-.1 .5-.6 .5 1.6 .5-1.5 .5 1.7 .5-1.2 .5 .4 .5-1.6 .5 1.2 .5-.8 .5 .8 .5 .8 .5-.6 .5-.1 .5 .5 .5-1.6 .5 1 .5-.5 .5 1.2 .5-1.3 .5 1.7 .2 .3 .3-3 .5 1.4 .5-1 .5 2.2 .5-1.5 .5 1.2 .5-.1 .5-.8 .5-.3 .5 2.1 .5-1.1 .5 .8 .5 .9 .5-.9 .5-0 .5-.4 .5 1.2 .5-.8 .5-.5 .5 .9 .5 .1 .5-.7 .5 1 .5 .8 .3-.2 .2 1.1 .5-.7 .5-.6 .5-1.6 .5 1.6 .5 .6 .5-1 .5 1.1 .5-1.7 .5 .8 .5 .4 .5 .6 .5-1.3 .5 1.3 .5-1.7 .5-1.1 .5 1.2 .5 1 .5-1.3 .5 1.3 .5-1.4 .5 1.5 .5-3.1 .5 3.2 .3-3.3 .2 1.5 .5-1 .5 1 .5-.6 .5-.3 .5 .5 .5-.1 .5-1.2 .5 .8 .5-2.6 .5 .2 .5-.6 .5 1.1 .5-0 .5-1.4 .5-.6 .5-.8 .3 1.4 .2 .2 .5-1.8 .5-.1 .5-.7 .5-.2 .5-.1 .5-2.8 .5 1 .5 .7 .5-1.8 .5 1.6 .5-.1 .3-2.2 .2 .2 .5 1.8 .5-2.8 .5 .5 .5-.6 .5 1.4 .5 .3 .5 .1 .5-.2 .5-1.6 .1 2.4 .4-1.1 .5-0 .5 2.3 .5-.9 .5 .9 .5 1.1 .5 1.7 .5-1 .5 1.2 .5-1.9 -0 1.1 .5 3.1 .5 .4 .5-1.1 .5 0 .5 .3 .5 .7 .5 1.1 .5-.3 .5 1.7 .5 .5 .5-.4 .5 .4 .5 .4 .5 .8 .2 .3 .3 .7 .5-1.5 .5 1.2 .5 .5 .5 .3 .5 .6 .5-.7 .5 1.2 .5 .9 .5-1.1 .5 .9 .5-.3 .5-.3 .5-.3 .5 .4 .5 1.3 .5-1.3 .5-.5 .5 .2 .3 .9 .2-.9 .5 1 .5-.1 .5-.3 .5 1 .5-2 .5 .5 .5 .3 .5 .4 .5-1.2 .5 .6 .5 1.2 .5-1.1 .5 .9 .5-.8 .5-.3 .5 .8 .5 .6 .5-.9 .5-.9 .5 .4 .5 .2 .5 .1 .5-.4 .5 1.1 .5-1.2 .5 1.4 .5-1.3 .5 0 .5 1.4 .5-.3 .5-.7 .5-.1 .5 .2 .5 .2 .5 .2 .5 .5 .5-1.2 .5 .5 .5 .1 .5-1 .5 1.7 .5 .3 .5-1 .5-1.2 .5 .6 .5 1.2 .5-1.9 .5 0 -0 1 .5 .6 .5 .3 .5 .1 .5-2.2 .5 1.2 .5-.2 .5 0 .5 1.2 .5-.2 .5-.8 .5 .7 .5 0 .5 .7 .5-1.1 .5 .8 .5-.9 .5 .8 .5-.2 .5 .2 .5-.2 .5 1 .5-1.3 .5-.1 .5 .3 .5 .6 .5 .2 .5-.4 .5-.3 .5 .2 .5-.2 .5 .8 .5-.3 .5 .2 .5-.1 .5 .1 .5 .7 .5-1 .5 .6 .5 0 .5-.7 .5 1.5 .5-.8 .5-.8 .5 1.3 .5-.2 .5 .1 .5-.6 .5-0 .1 .3 .4-.9 .5 .9 .5 0 .5 .5 .5-.6 .5 .5 .5-1.2 .5 .4 .5 1 .5 .4 .5-.3 .5-1.4 .5 .3 .5 .2 .5 1.1 .5-1 .5 .5 .5 .1 .5 .1 .5-.4 .5 .3 .5 .4 .5-.4 .5-.1 .5 .5 .5 .4 .5 .6 .5-2.1 .5 .9 .5-.1 .5-.7 .5 .5 .5-.2 .5-.2 .5 .2 .5 .8 .5-1 .5 .3 .5 .3 .5-.5 .5-.1 .5-.2 .5 .5 .5 1.3 .5-1.8 .5 1.5 .5-1 .5-0 .2 1 .3-.1 .5 0 .5-.3 .5 .5 .5-.9 .5 .6 .5 .4 .5-.6 .5-.4 .5 1.5 .5-1.1 .5-.4 .5 .9 .5 .4 .5-.4 .5-1 .5 .7 .5 .2 .5 .2 .5-1.1 .5 .1 .5 .9 .5-.1 .5 .3 .3 .4 .2-1.4 .5 .2 .5 .4 .5 1.2 .3-.9 .2 .7 .5-1.9 .5 1.5 .5 .5 .5 .3 .5-1.2 .5 1.6 .5-1.6 .5 1.4 .5 .2 .5-1 .5-.7 .5 2 .5-1 .5-.8 .5 1 .5-.9 .5 .7 .5-.7 .5-.6 .5 1.7 .5-.8 .5 .3 .5 .2 .5-.2 .5-.3 .5 .7 .5 .1 .5-.2 .5-.3 .2 .2 .3 .8 .5-.1 .5-.9 .5 .5 .5-0 .5-.1 .5-.3 .5 .2 .5-.5 .5 .6 .5-.2 .5 .1 .5-.1 .5-.1 .5-.8 .5-.3 .5 .7 .5-.4 .5 .6 .5-.9 .5 .1 .5-.6 .5 .6 .5-.2 .5 .8 .5-.7 .5 .8 .5-1.4 .5-.5 .5 1.5 .5-.4 .5 .6 .5-1.4 .5-.7 .5 1.9 .5-.8 .5-.5 .5 1.6 .5-1.3 .5-.5 .5 .7 .5-.6 .5-.2 .5 .7 .5-.2 .2-.1 .3 0 .5-.7 .5 1.2 .5 .7 .5-.9 .5 .6 .5 .4 .5-1.3 .5-.2 .5-.2 .5 .3 .5 .8 .5-.5 .5 .8 .5-1 .5 1.3 .5-1.1 .5 .2 .5 .1 .5-.1 .5 .1 .5 .4 .5-.4 .5 .4 .5-.7 .5 0 .5-.3 .5 1.3 .5-.9 .5 .8 .5-.2 .5 .1 .5-.2 .5 .5 .5 0 .5 .7 .5-1 .5-.1 .5-.5 .5 2 .5-1.6 .5 .9 .5-0 .5-1.1 .5 .3 .5 .8 .5-.4 .5-.7 .5 .8 .5 .8 .1-.7 .4 .1 .5 .4 .5 .5 .5-1.2 .5-.4 .5 .3 .5-.3 .5-.5 .5 .6 .5-.5 .5 1.3 .5-.8 .5-1.5 .5 .8 .5 .8 .5-.6 .5-.2 .5 .1 .5-.2 .5 .8 .5-.7 .5-.3 .5 .9 .5-1.2 .5 .8 .5-.8 .5 .3 .5-.1 .5-.5 .5 .3 .5 1.2 .5-1.6 .5 1.8 .5-.7 .5 .4 .5-1.3 .5 .9 .5-.6 .5 1.1 .5-1.5 .5 1 .5-1.2 .5 1.2 .5-1.1 .5-.5 .5-.2 .5 .5 .5 1.3 .5-1.8 .5 .4 -0 .4 .5 .1 .5 .1 .5 .8 .5-1.1 .5-.7 .5 1.3 .5-.7 .5 .1 .5 .2 .5 .9 .5-.2 .5-.7 .5-.3 .5 .5 .5-.7 .5-.6 .5 .6 .5 1.1 .5-1.1 .5 .1 .5 1.2 .5 .1 .5-0 .5-1.4 .5 .8 .5 .5 .5-.2 .5-.9 .5 .1 .4-.3 .1 .1 .5 .6 .5-.1 .5-.9 .5 .9 .5-.5 .5 .6 .5-1.3 .5 .3 .5-1.7 .5 1.8 .5-.2 .5 .2 .1-.5 .4-0 .5-.1 .5 .9 .5-1.3 .5 .6 .5 .5 .5-.5 .5-.2 .5 .5 .5 .5 .5 .9 .5-1.2 .5-.8 .5 2 .5-.4 .5 .4 .5-.3 .4 .2 .1-1.1 .5 1.6 .5-.9 .5 1.2 .5-1.4 .5 2 .5-.7 .5-1.1 .5 1.6 .5 .1 .5 .2 .5-.5 .5 2 .5-1.4 .5 1 .5-1.8 .5 1.9 .5 0 .5-.2 .5 .8 .5-.9 .5 .7 .5-.3 .5 .3 .5-.7 .3 .9 .2-.1 .5-.1 .5 0 .5-.4 .5-.1 .5 .2 .5 .3 .5-.8 .5 .6 .5 .9 .5-.5 .5-.9 .5 1.2 .5-1.6 .5 .8 .5 .8 .5-.3 .5-.1 .5-.8 .5-.3 .5 1.1 .5-.1 .5 .8 .5-1.3 .5-.3 .5 .3 .5-.7 .5 .8 .5 .2 .5-.1 .5 1.1 .5 .1 .5-1.3 .5-.1 .5 1 .5-.1 .5-1.2 .5 .2 .5 0 .5-.3 .2 .4 .3-.4 .5 1.1 .5-.1 .5-1.3 .5 .6 .5-0 .5 1 .5-1.2 .5 .8 .5 .3 .5-1.5 .5 .7 .5-.3 .5 .3 .5-1.4 .5 .5 .5-.9 .5 1.2 .5-1.7 .5 1 .2-1 .3 .4 .5-.4 .5 .2 .5-.2 .5-.2 .5-.4 .5-1.6 .5-1.5 .5 .6 .5-2.6 .2 .4 .3-1.2 .5-1.7 .5-1.6 .5-3.7 .5-2.1 .5-3.2 .5-2.4 .4-2.9 .1-.8 .5-5.6 .5-4.1 .5-6.9 .5-7.8 .4-.4 .1-0 .5-3.4 .5 .2 .5-1.8 .5-1.5 .4 1.2 .1-1 .5-.5 .5 2.6 .5-1.5 .5 5.6 .4-.8 .1 .9 .5 3.8 .5 3.5 .5 2.5 .5 4.8 .4 3.5 .1 1.1 .5 .9 .5 4.4 .5 1.7 .5 3 .4 2.7 .1 .4 .5 1.6 .5 2.6 .5 3 .5 1.1 .5 2.9 .5 .4 .5 2.6 .1-.8 .4 .7 .5-.5 .5 1.2 .5-.1 .5 .3 .5-.2 .5 .5 .5-.4 .5 .6 .5-.5 .5 .1 .5 .4 .5 .1 .5 0 .5-.3 .1 .4 .4 .8 .5-.4 .5 .3 .5-.4 .5 1.3 .5-.9 .5 .5 .5-.2 .5 .9 .5-1.6 .5-.2 .5 1.1 .5-1.2 .5 1.1 .5 .1 .5 .4 .5 .7 .5-1.2 .5 1.3 .5 .5 .5 .3 .5-1.5 .5 .5 .5 1.4 .5-1.6 0 1.3 .5-.4 .5 .2 .5-1.2 .5 .3 .5 .4 .5 1 .5 .2 .5-.8 .5 .7 .5 0 .5-.5 .5 0 .5-.3 .5 .5 .5 .3 .5 1.3 .5-.2 .5-.5 .5 .4 .5-.6 .5-.7 .5 1.5 .5 .2 .5-.7 .5 1.2 .5-0 .5-.1 .5-1.5 .5 1.1 .5 .3 -0-.8 .5 .2 .5 .7 .5 .7 .5-.7 .5-.3 .5-.4 .5-.4 .5 .1 .5 .7 .5-.5 .5 1 .5-1.5 .5 .1 .5 .6 .5 .2 .5-.1 .5-.7 .5 .2 .5 .9 .5-.8 .5-0 .5 .6 .5-.2 .5-.2 .5 .9 .5-1.7 .5 .9 .5-.6 .5 .9 .5-1.1 .5 .9 .5-.7 .5 1.7 .5-1.4 .5 1.1 .5-1.6 .5 0 .5 .5 .5-1.2 .4 .4 .1 1.4 .5-.2 .5-.8 .5 .7 .5-.4 .5-0 .5-.8 .5 1 .5-.9 .5 1.2 .5-1.5 .5 2 .5-1.9 .5-.4 .5 .1 .5 .8 .5-.1 .5-.6 .5 .8 .5 .7 .5-1.1 .5 .3 .5 .1 .5-.1 .5-1.5 .5 1.8 .5-.9 .5 0 .5 .6 .5-2.2 .5 1.9 .5-.3 .5 .7 .5-.8 .5 .6 .5-.2 .5-1.4 .5 .6 .5-.4 .5 .3 .5-.5 .5-.4 .5 .7 .5-.2 .5 .5 .3 .6 .2-1.2 .5 0 .5 .8 .5-.2 .5-1.5 .5 .8 .5-.9 .5 .3 .5 .2 .5 .1 .5-.1 .5 .2 .5 0 .5 .7 .5-.5 .5-1.2 .5 1.4 .5-.7 .5-1 .5 0 .5 .6 .5-.1 .5 .1 .5-1.2 .5 .6 .5 1.4 .5-2.4 .5 .2 .5 .7 .5 .1 .5-.6 .5 .3 .5-.2 .5-.6 .5 .4 .3-.2 .2 .4 .5 .1 .5-1.1 .5 .3 .5-.7 .5 .3 .5 .2 .5 .2 .5-1.1 .5 .8 .5-.6 .5-.3 .5-.1 .5-.4 .5 .5 .5-1.3 .5 1 .5-.9 .5 1.2 .5-1.5 .5 .4 .5 0 .5-.1 .5 .3 .5-.1 .5-1.4 .5-.5 .5 1.1 .5-.9 .5-.5 .2-0 .3 .4 .5-.2 .5-2.3 .5 .7 .5-.1 .5-.5 .5 1.3 .5-.2 .5-1.3 .5 .9 .5-1.6 .5 1 .5-.7 .5-.8 .5-.1 .5-1.1 .5 .8 .5-1.6 .5 .3 .5-1.5 .2-.2 .3 .4 .5-.7 .5 0 .5-2.2 .5-.6 .5-1.2 .5 .3 .5-2.9 .5-2.3 .5-1.5 .5-0 .5-.5 .4-1.8 .1-.2 .5-.4 .5 .2 .5-.1 .5-2 .5-.7 .5 1.6 .5 .1 .5-1.6 .5-1.4 .4-.1 .1 1.4 .5-2.5 .5 .3 .5 2.9 .5-2.1 .5 1.1 .5 3.4 .5-2.2 .5 2.4 .5-1.1 .4-.4 .1 1.7 .5 .2 .5 1.8 .5-1.1 .5 3.1 .5 1 .5 1.9 .5 .8 .5 .3 .5 3.2 .5 .8 .5 1 .5 .5 .1-0 .4-.2 .5-.2 .5 .8 .5 1.7 .5-1 .5 1.8 .5 1.6 .5-.7 .5 2.5 .5-2.1 .5 2.1 .5-1.5 .5 2 .5 1.2 .5-1.1 .1-.6 .4 .3 .5 1.4 .5 .4 .5-.1 .5-.4 .5-.1 .5 .3 .5 .1 .5-.1 .5 1.9 .5 .3 .5 .2 .5 .4 .5-1.4 .5-.6 .5 1.5 .5-.2 .5-.4 .5 1 .5-.4 .5 .7 .5-.1 .5-.7 .5 .5 .5-.3 0 .5 .5-.2 .5-.6 .5 .9 .5-.4 .5 0 .5 .2 .5 1.3 .5-1.1 .5-.4 .5-.3 .5-.6 .5 1 .5 0 .5-.3 .5 .8 .5-.2 .5 .2 .5-.6 .5 1.1 .5-.6 .5-.7 .5 .4 .5 .6 .5-1 .5 1.1 .5-1 .5-.9 .5 1.6 .5-.8 .5 .4 -0-.1 .5 .7 .5-.7 .5 .6 .5-1.1 .5 .6 .5-.5 .5 .4 .5 1.3 .5-1.9 .5 .7 .5-.5 .5 .5 .5-.9 .5 .2 .5-.8 .5 1.8 .5-.8 .5 .1 .5-1 .5 1.7 .5-.3 .5-1 .5 .3 .5-.4 .5 .7 .5-2 .5 1.4 .5-0 .5 .3 .4-1.3 .1 .2 .5-.3 .5 1.2 .5-.5 .5 .3 .5-.3 .5-.3 .5-1.4 .5 .4 .5 .8 .5-.9 .5-1.1 .5-.1 .5 0 .5-.1 .5 .1 .5-.3 .5 .1 .5 .2 .5-.4 .4-1.3 .1 2.1 .5-1.7 .5-.5 .5 1.1 .5 .1 .5-.8 .5 .4 .5-1.2 .5-.1 .5-.8 .5 1.5 .5-.7 .5 1 .5-1.5 .3 1.1 .2-.7 .5 1.1 .5-1.1 .5 1.1 .5-1.6 .5 .6 .5 .1 .5 1.3 .5-2 .5 .9 .5 1.1 .3-0 .2 .1 .5 .6 .5-.1 .5 1.1 .5 1 .5-.9 .5 2 .5-.6 .5 .3 .5 1.4 .5 .5 .5 .8 .5-.3 .5 1 .5 0 .3 1.1 .2-.5 .5-.1 .5-.1 .5 .8 .5 1.3 .5-1.9 .5 .8 .5 1.2 .5 0 .5-.5 .5 .2 .5-0 .5-.1 .5 .4 .5 .6 .5-0 .5-.9 .5 .8 .5-.1 .5 1 .5-1.3 .5 .2 .5 0 .5 2.6 .5-.9 .2-1 .3 .7 .5-1.4 .5 .9 .5 1.3 .5-1.2 .5-.6 .5 .4 .5 .1 .5 .2 .5 .1 .5-.2 .5-.5 .5 .8 .5 .1 .5-.8 .5 1.1 .5-.3 .5 1 .5-.6 .5-.6 .5-.1 .5 1.4 .5-.3 .5-.3 .5 .2 .5-1.1 .5 1.3 .5-.6 .5 0 .5 .6 .5-.2 .5-1.1 .5 1.2 .5-.4 .5 .7 .2-.5 .3 .2 .5-.7 .5 0 .5-.1 .5 .8 .5-.6 .5 .3 .5 1.3 .5-.6 .5 .8 .5-1.6 .5-0 .5 .2 .5 .6 .5-.7 .5 1.4 .5-1.4 .5 1.2 .5-1.3 .5 .1 .5 .7 .5-.2 .5-.2 .5-0 .5 .4 .5-.5 .5 1.3 .5-.6 .5-.1 .5-.7 .5 1.9 .5-1.3 .5-.5 .5-.1 .5-.8 .5 1 .5-.7 .5 .2 .5 1.5 .5-.9 .5-.2 .5 1.3 .5-1.2 .5 1.4 .5-1.2 .5 .3 .5-.3 .5-.1 .5 .4 .5 .6 .5-.7 .5-.5 .5-.4 .5 1.5 .5-1 .5-.1 .5 .8 .5-0 .3 0" fill="none" stroke="#ff00ff" stroke-width="7.0" stroke-linejoin="round" stroke-linecap="butt" clip-path="url(#clipLo)" />
<path d="M762.3 408.7 L763.9 153 L765.6 408.7" fill="none" stroke="#ff00ff" stroke-width="6.8" stroke-linejoin="round" stroke-linecap="butt"/>
<path d="M379.5 1166.2l.5-.9 .5 .2 .5-2.5 .5 5.3 .5-.8 .5-1.8 .5 1.4 .5-.6 .5-1 .5 1.9 .5-1.5 .5-0 .5-.6 .5 1.6 .5-.7 .5 .9 .5-1.4 .5 .9 .5-1.2 .5 2.1 .5-.8 .5 .2 .5 .1 .5-1.7 .5 2.2 .5 1.6 0-4.5 .5-.1 .5 .3 .5 2.9 .5-.9 .5 1.2 .5-.4 .5-.7 .5 .2 .5-.6 .5 1.3 .5-2.4 .5 .8 .5 .9 .5 1.9 .5-3.2 .5-.3 .5 .6 .5 1.9 .5-1.5 .5 2 .5-4 .5 3.7 .5-.1 .5-3 .5 1.9 0 1.3 .5-1.4 .5 1.2 .5 1.6 .5-2.6 .5-.7 .5-.6 .5 1.7 .5-1.1 .5 0 .5 .1 .5 .9 .5-2.2 .5-.6 .5-1.2 .5 4.5 .5-1.5 .5 1.8 .5-2 .5-.9 .5 1.4 .5-.7 .5-1.5 .5 .4 .5 3.3 .5-1.8 .1 .1 .4-.9 .5-.5 .5 1.9 .5-1.3 .5-.8 .5 .8 .5-1 .5 1.3 .5 1.2 .5-2.5 .5 2.8 .5-2.6 .5 1 .5-1.3 .5 .8 .5 .3 .5-.7 .5-.3 .5-0 .5-.2 .5-1 .5 1.6 .5 .8 .5 .6 .5-.4 .1 2.3 .4-2.7 .5-1 .5 2.8 .5-3.6 .5 2.4 .5-2.4 .5 1.5 .5-2.9 .5 3.5 .5-1.4 .5-1.1 .5 3.2 .5-1.2 .5-1 .5-1 .5 .7 .5-.2 .5 1 .5 0 .5-1.9 .5 .1 .5-.1 .5-1.1 .5 .8 .5 .6 .1 .9 .4 .7 .5-2.7 .5 1.6 .5-1.4 .5 3.1 .5-2.8 .5 .6 .5-2 .5 .1 .5 1.1 .5-.9 .5 .8 .5-2.5 .5 2.7 .5-2.2 .5 3.3 .5-2.7 .5 1.6 .5-3.3 .5 2.2 .5-1.9 .5 .4 .5 .6 .5-.6 .5 .6 .1 .6 .4-.2 .5-1.1 .5-1.8 .5 .6 .5 .7 .5-2.6 .5 3.6 .5-1.4 .5-.2 .5 1.5 .5-.5 .5-.7 .5-1.7 .5 1.6 .5-.1 .5-1.7 .5 2.3 .5-.8 .5-3.3 .5 2.6 .5-2 .5 3 .5-.5 .5-2.7 .5 .2 .2 1.2 .3-.5 .5 2.2 .5-1.2 .5-1.5 .5 1 .5-3.6 .5 3 .5 .6 .5-1.5 .5-.9 .5 1.5 .5 1.7 .5-2.4 .5-1.9 .5 3.2 .5-4.5 .5 3 .5-1.6 .5 1.8 .5-2.5 .5 2.7 .5-1.5 .5-2.9 .5-.5 .5 2.1 .2 2.1 .3-1.7 .5-.3 .5-.5 .5 1.1 .5-.7 .5-.3 .5-1.9 .5 2.8 .5 0 .5-3.8 .5 4.7 .5-2.3 .5-1.9 .5-2.1 .5 3.3 .5-.4 .5-1.8 .5-1.8 .5 3.8 .5-2.6 .5-0 .5 4.3 .5-1.2 .5-1.8 .5-2.2 .2 1.4 .3-4.2 .5 3.1 .5-1.4 .5-1 .5-.6 .5 2.7 .5-.9 .5-.1 .5 .7 .5-2.6 .5-.8 .5-1 .5 1.8 .5 1.3 .5-1.6 .5 .9 .5-2.9 .5 .8 .5-.7 .5-.9 .5 4.1 .5-1.7 .5-2.6 .5-.2 .5 .7 .2-2.1 .3 2.6 .5-2.8 .5 1 .5-1.2 .5 .5 .5-1.5 .5-.7 .5 .6 .5 .1 .5 .3 .5 .2 .5 1.9 .5-1.4 .5-1.8 .5 1.1 .5-2.4 .5 2.9 .5-1.7 .5-3.1 .5 2.8 .5-.2 .5-5.6 .5 2.6 .5 .1 .5-2.5 .3 1.1 .2 .1 .5 1.9 .5-.7 .5 3.2 .5-4.9 .5 2.1 .5-2 .5-.1 .5-2.5 .5-1.5 .5 1.4 .5 2.1 .5 .9 .5-1.8 .5-.5 .5-2.5 .5 3.4 .5-.6 .5-3.3 .5 .5 .5-1.8 .5 3.5 .5-2 .5-1.1 .5 .5 .3-.1 .2-1.5 .5-1.6 .5-.4 .5-1 .5 3.2 .5 2.6 .5-6.6 .5 2.7 .5 .1 .5-2.5 .5 1.6 .5-2.4 .5 3.5 .5-3.2 .5 .9 .5 .6 .5-2.1 .5-2.4 .5 1.7 .5 1.9 .5-1.6 .5 .2 .5-2.4 .5 1.8 .5 .7 .3-1.3 .2 3 .5-3.8 .5-1.6 .5-1.2 .5 4.4 .5-2.3 .5 1.6 .5-1.2 .5 1.7 .5-.8 .5-3 .5 .9 .5 1.1 .5-4.1 .5 4.3 .5-.6 .5-.6 .5-2.3 .5 .7 .5-2.7 .5 1.8 .5-1.3 .5 1 .5-1.2 .5 1.1 .3 1.4 .2-4.3 .5 3.6 .5-5.2 .5-.5 .5 3.3 .5 .1 .5 .5 .5-3.8 .5 2.6 .5 .1 .5 1.8 .5-2.6 .5 .9 .5-2.8 .5 1.2 .5-.6 .5 1.8 .5-3.1 .5 .1 .5 2.3 .5 2 .5-2.6 .5-.3 .5-1.3 .5 2.4 .4-1 .1 2 .5-2.6 .5-2.3 .5 .5 .5-.9 .5-.5 .5 4.3 .5-.9 .5-3.7 .5 5.2 .5-2.8 .5-2.3 .5 2.3 .5-.9 .5-1.3 .5-2.2 .5 3.4 .5 .4 .5-5.2 .5 5.5 .5-0 .5-2 .5 .9 .5-.8 .5-1 .4 .8 .1 3 .5-5.1 .5 2.9 .5-.2 .5-1.6 .5 .3 .5-1.8 .5 .9 .5 1.5 .5 .5 .5-2.2 .5 7 .5-6.5 .1 1.3 .4-.7 .5-.3 .5 3.1 .5-3.1 .5 3.3 .5-.3 .5-3.8 .5 3.8 .5-2.9 .5 6.1 .5-5.4 .5-.9 .4-1.7 .1 1.1 .5 1.4 .5-.7 .5-.3 .5 1.1 .5 .9 .5 3.1 .5-5.5 .5 2.1 .5-.6 .5-.8 .5 .5 .5 .8 .5 3 .5-1.5 .5-.5 .5 2.2 .5-.5 .5-.7 .5 1.2 .5-2 .5 2.7 .5-.1 .5-1.4 .5-1.2 .4 4.9 .1-2.5 .5 5.4 .5-6.3 .5 2.8 .5-2 .5 1.4 .5 1.2 .5-2.6 .5 1.5 .5 .6 .5 .2 .5 1.1 .5 1 .5-.1 .5-.7 .5-.8 .5-1 .5 .9 .5 .7 .5 2.3 .5-1.5 .5-1.2 .5 3.5 .5-2.2 .5 .4 .4 1.1 .1 1.2 .5-4.6 .5 2.5 .5 2.5 .5-.7 .5-.5 .5 .8 .5 3.5 .5-2.8 .5 2.3 .5 .4 .5-1.8 .5 1.8 .5-1.2 .5 .1 .5-.5 .5 3.5 .5-1.7 .5 0 .5-.6 .5 5.1 .5-1.4 .5-1.1 .5-.6 .5-1.1 .5 3.3 0-0 .5-2.4 .5 4.5 .5-.3 .5-2.5 .5 1 .5 .6 .5 1.3 .5-.2 .5-2 .5 5.3 .5-1.5 .5 1.8 .5 .3 .5-2 .5 1.2 0 .6 .5 .3 .5-1.1 .5-.4 .5 1.4 .5-1 .5 .7 .5-2.1 .5 3.5 .5-1.6 .5 .8 0 .7 .5-1.3 .5-2 .5-7.9 .4-6.1 .1 1.6 .5-5.9 .5-3 .5-5.4 .4-1 .1 .4 .5 1.1 .5 .5 .5 5.4 .3 3 .2 4 .5 3 .5 6.3 .5 7.1 .1 1.1 .4 4.4 .5 2.1 .5 2.1 .5 3.8 0 .3 .5-2.2 .5 1.6 .5-2.1 .5 2.3 .5-.3 .5 1.2 .5-0 .5 .7 .5 .4 .5 1.2 0-.3 .5-.8 .5-.6 .5 3.9 .5 .6 .5-2.2 .5 1.7 .5-2.5 .5 .3 .5 2.2 .5 2.7 .5-3.1 .5 .7 .5 3.7 .5-4.3 .5 3.8 0-.2 .5-.5 .5 1 .5 3.7 .5-4.6 .5 1.5 .5 .6 .5-.1 .5-.4 .5 4.4 .5-1.3 .5-2.1 .5 2 .5 2 .5 .5 .5-1.7 .1 1.8 .4 1.1 .5 .9 .5 .9 .5-2 .5 5.2 .1-2 .4 2.4 .5 1.7 .5-3.4 .5-1 .5 2.9 .5-1 .5-0 .5-.5 .5 3.6 .5-2.4 .5-.9 .5 1.4 .5-.7 .5 1.9 .5-.5 .5-.5 .5 2.3 .3-1.3 .2 1.7 .5 1 .5-1.6 .5-0 .5 1.3 .5 1.2 .5-.7 .5 .5 .5 .1 .5 .8 .5 .7 .5-1.3 .5 .6 .5 1 .5-.6 .5 1.3 .5 .7 .5-.4 .1-.6 .4 0 .5 3.2 .5-.7 .5-2 .5 .6 .5 3.3 .5-.2 .5-1.5 .5 1.2 0-3 .5 1.5 .5 .5 .5-3.6 .5 .5 .5 1.1 .5-.3 .5-2.8 .5 .5 .4 1.2 .1-2.5 .5-1.5 .5 1.1 .5-.8 .5 1.7 .5-1.5 .5-1.3 0 3.9 .5-3.1 .5 2.1 .5 1.6 .5 1.6 .5 .7 0 .5 .5 .9 .5 .5 .5 3.1 .4 .9 .1 .2 .5 1 .5-.3 .5 2.7 .5 .7 .5-3.7 .5 2.7 .5-.4 .5-1.8 .5 3.6 .5-.9 .5 .6 .5 0 .1 2 .4 .4 .5-.7 .5 .7 .5-.5 .5 .5 .5-.6 .5 1.1 .5-.5 .5 1.4 .5 .8 .5-.3 .5 1.2 .5 1.8 .5-4.8 .5 2.5 .5-.3 .5 .3 .5-.6 .5 1.7 .5-.1 .5-.1 .5 .6 .5-0 .5-1.6 .5 3.8 .2-1.3 .3-.5 .5 1.6 .5-.8 .5-1.2 .5 3.4 .5-2.3 .5 1.7 .5 .6 .5 1.5 .5 .1 .5-.7 .5-.7 .5 .7 .5 1.7 .5 1 .5-1 .5-.9 .5 2 .5-1.1 .5 .2 .5 .4 .5 1.1 .5-0 .5 1 .5 .5 .2-.6 .3-2.6 .5 .9 .5 2.1 .5 0 .5 2.4 .5-1.8 .5 .2 .5 1.3 .5 .4 .5-1 .5 1 .5-1.3 .5 .5 .5 2.3 .5-2.2 .5 2.5 .5 0 .5 .4 .5 .4 .5-.1 .5-2.2 .5 1.3 .5 .7 .5 1.6 .5-1.6 .2 .5 .3 .5 .5 1.8 .5-2.3 .5 .3 .5 2 .5-2.3 .5 2.5 .5-.5 .5-.8 .5 1.2 .5-.3 .5 1.3 .5 .4 .5 1.2 .5-1.1 .5 .3 .5-.4 .5 .8 .5 1.2 .5-2.4 .5 2.6 .5-.7 .5 .8 .5 .6 .5 .8 .2-.4 .3-.3 .5 1.1 .5 .4 .5 .4 .5 1.1 .5 1.4 .5 .1 .5 .7 .5-.5 .5 1.6 .5-1 .2 2.4 .3-1.2 .5 2.3 .5 1.7 .5-2.4 .5 1.8 .5-.4 .5-.5 .5 .1 .5 1.5 .5 1 .5-.6 .5-1.2 .5 .7 .5 .9 .5 1.6 .5-.6 .5 .3 .5 1 .5-.9 .5 .3 .5 .2 .5-1 .5 2 .5 .2 .5 .7 .5-1.5 .5 .5 .5 1.6 .5-.3 .5 1.1 .5-1.6 .5 1.1 .5-.5 .5 1 .5-.5 .5 1 .5 .7 .5-.2 .5-1.7 .5 2.3 .5-.2 .5-.9 .5 .3 .5 .9 .5 .6 .5-.6 .5-.7 .5 1.7 .5 .1 .5 2 .3-2.8 .2 3 .5-.4 .5-.9 .5 1.3 .5-1 .5 .8 .5-1 .5 .8 .5-.7 .5-.2 .5 1.2 .5-.1 .5 1.1 .5 .7 .5-.9 .5 .4 .5 .3 .5-1.2 .5 1.6 .5 0 .5 .1 .5-.6 .5-.4 .5 1.4 .5 .6 .5 1 .5-0 .5 .4 .5-.6 .5 .7 .5-.8 .5 .8 .5 .4 .5 1.4 .5-1.6 .5-1 .5 2.1 .5-1.4 .5 .7 .5-0 .5-.3 .5 1.8 .5-.4 .5-.7 .5 .6 .5-.2 .5 .9 .5-.6 .5-.1 .5 .2 .3 .3 .2 .5 .5-.7 .5 .7 .5 .6 .5 1.5 .5-1 .5-2.5 .5 1.9 .5 .2 .5 .7 .5 1 .5-.4 .5-2 .5 2 .5-0 .5 .3 .5 .8 .5-1.5 .5 1.7 .5-1.8 .5 1.3 .5 .4 .5 1.5 .5-2 .5-.5 .5 1.8 .5-.8 .5 1.6 .5-1.4 .5-0 .5 1.6 .5-.7 .5 .7 .5-1.5 .5 2.2 .5-1.4 .5 1 .5-1.1 .5-.3 .5 .9 .5 .4 .5 1.1 .5-.8 .5 .3 .5-0 .5 1.7 .5-2.6 .5 1.4 .5-.9 .5 .3 .4-.5 .1 1.1 .5-1.6 .5-.1 .5 .8 .5-.6 .5 1.3 .5 .1 .5-1.1 .5 1 .5-.9 .5 .4 .5 0 .5 1.3 .5-1.3 .5-.6 .5 0 .5 1.5 .5-2 .5 .8 .5 .1 .5-1.4 .5 1.3 .5 1.1 .5-.6 .5-.7 .5 1.1 .5-.1 .5 1 .5-1.9 .5 .3 .5 .4 .5-.1 .5 .3 .5 0 .5-.2 .5-.4 .5 .9 .5-.4 .5 .5 .5 .5 .5 .9 .5 .5 .5-1.1 .5 1.1 .5 .5 .5-.4 .5-.9 .5-.3 .5 2.1 0 .1 .5-.4 .5-.8 .5 1.7 .5-.1 .5-.8 .5-0 .5-1.1 .5 1.8 .5-1.5 .5 1.6 .5 .1 .5-.4 .5 1 .5-1.2 .5 .6 .5 .2 .5-.3 .5-.4 .5 1.1 .5-.5 .5-.4 .5 .1 .5 .2 .5 1.5 .5-1.5 .5-.2 .5-.5 .5-.1 .5-.4 .5 1.5 0-.2 .5-.7 .5-.2 .5 .8 .5-.2 .5-.5 .5 1.1 .5-.1 .5-.1 .5 .6 .5-.9 .5 1.3 .5-1.6 .5 1.1 .5 .1 .5-.6 .5 .4 .5-1.1 .5-.1 .5 .9 .5-.4 .5 .9 .5-.3 .5 .4 .5-.2 .5-.1 .5-0 .5-.3 .5-.1 .5 1.7 .5-2.5 .5 1.1 .5 .8 .5-.4 .5 .7 .5-.6 .5-1.2 .5 .7 .3-.7 .2 1.6 .5 .3 .5-1.2 .5 .7 .5-.6 .5-.6 .5 .7 .5-.7 .5 .7 .5 .5 .5 .4 .5 .5 .5-1.1 .5 .5 .5 .2 .5 .1 .5-2.2 .5 1.5 .5 1.1 .5-1.2 .5 .9 .5 .5 .5-1.8 .5 1.2 .5 .4 .5-.1 .5-1 .5 1.3 .5-.5 .5 .9 .5-.2 .5-.6 .5 .5 .5-.5 .5 0 .5-.5 .5 .9 .5 .7 .1-.4 .4-.1 .5-.4 .5 .1 .5 .8 .5-1.4 .5 2.4 .5-1.4 .5 1.5 .5-.7 .5-1 .5 .8 .5-.3 .5 .1 .5 .3 .5-.9 .5-0 .5 .1 .5-.6 .5 .7 .5 .4 .5-0 .5-0 .5-.4 .5 .8 .5-1.9 .5 1.1 .5 .1 .5 .8 .5-.1 .5 .1 .5-.5 .5 .6 .5-1.3 .5 .7 .5-1.4 .5 2.5 .5-0 .4-1.4 .1-.2 .5-.8 .5 .4 .5 1.1 .5-.2 .5-.8 .5 .6 .5-0 .5 .7 .5 .2 .5-.6 .5 .3 .5-.1 .5-1.3 .5 1.5 .5-.2 .5 .6 .5-1.7 .5 1.7 .5-.9 .5 .7 .5 .6 .5-1.7 .5 .1 .5 1.5 .5-1.4 .5 .2 .5 1 .5-.5 .5 .6 .5-.3 .5-.2 .5 .7 .5 .8 .5-1.5 .5 1 .5-.2 .5-.6 .2 .2 .3-.9 .5 .2 .5 .6 .5-.2 .5 .8 .5-1.7 .5 .7 .5-.3 .5 .4 .5 .8 .5-1.6 .5 1.4 .5-1 .5 .2 .5 .8 .5-.8 .5 .6 .5-.4 .5-.2 .5-.1 .5-1 .5 .7 .5 .5 .5 0 .5-1.1 .5 1.6 .5-.3 .5-1.2 .5 .1 .5 1 .5-1.5 .5 .6 .5 .5 .5-.1 .5 0 .5 .3 .5-.8 .5 .2 0 1.6 .5-2.3 .5 .6 .5 .3 .5-.5 .5 1.1 .5-.8 .5 .4 .5-2.3 .5 2.4 .5-.1 .5-1.3 .5 1.2 .5-.7 .5 .3 .5 .5 .5-1.2 .5-.8 .5 .6 .5-.9 .5 .3 .5-0 .5-0 .5 1.2 .5-.3 .5-1.1 0 1.3 .5-1.8 .5 .8 .5 .5 .5 1.1 .5-.1 .5 .1 .5 .8 .5-.1 .5 .6 .5-1.2 .5-.5 .5 1 .3 .8 .2-.4 .5 .4 .5-.1 .5-.1 .5 .1 .5-1 .5 1.2 .5-1.4 .5 .6 .5-.9 .5 1.3 .5-1.4 .5 1.9 .5-1.8 .5 1 .5-.2 .5-.5 .5 1.3 .5-1.1 .5 1.2 .5-1.6 .5 .1 .5-.8 .5 1.6 .5 .2 .5-.4 .5-.3 .5-.5 .5 2.1 .5-1.1 .5-1.7 .5 1 .5-1.5 .5 2.7 .5 .2 .5-.3 .5-1 .5-.4 0-.5 .5 1.3 .5-.9 .5 .2 .5-.1 .5 .2 .5 .8 .5 .5 .5-1 .5-.1 .5-.8 .5-.1 .5 .1 .5 1.3 .5-.4 .5 .4 .5-.3 .5-.6 .5-.5 .5 .5 .5-.7 .5 2.3 .5-1.2 .5-.4 .5 1.6 .5-1.6 .5 .6 .5-.5 .5 .4 .5-.5 .5 .5 .5 .7 .5-1.8 .5-.7 .5 2.4 .5-.8 .5 .5 .5-.8 .3 1.2 .2 .2 .5-2 .5 1.2 .5-.9 .5-.6 .5 .8 .5 .6 .5-1.3 .5 0 .5 1.7 .5-.8 .5 .2 .5-1 .5 .3 .5 .5 .5 0 .5-0 .5 .9 .5-1 .5-1.1 .5 .4 .5 .5 .5 .9 .5-1.3 .5 .2 .5 .2 .5-.4 .5-.1 .5 .3 .5 .8 .5-.3 .5-.5 .5 .4 .5-1.1 .5 1.5 .5-.2 .5-.3 .5-1.2 .1 2.4 .4-3.3 .5 1.3 .5 0 .5 1.1 .5-1.4 .5 1.1 .5-.3 .5-0 .5 .7 .5 .4 .5-.7 .5-.4 .5-1.4 .5 2.5 .5-1.2 .5-1 .5 1.4 .5 .8 .5-1 .5-.7 .5 2.2 .5-1 .5-.2 .5 .4 .5-2.1 .1 1.4 .4-.1 .5 1.6 .5-1.9 .5-.1 .5-.7 .5 .3 .5 .3 .5 .2 .5-.5 .5 1.4 .5-1.2 .5-0 .5 .3 .5-.5 .5-.9 .5-.8 .5 1.3 .4-.8 .1 1.4 .5-1.4 .5-.9 .5 1.6 .5 .7 .5-.7 .5 .3 .5 .1 .5 1.2 .5-.8 .5-.2 .5-.2 .5-.6 .5 2.2 .5-.1 .5-1.3 .5 1.1 .5-.1 .5-.4 .5 0 .4 .8 .1-1.3 .5 .4 .5 .3 .5 0 .5-.1 .5 .3 .5 .2 .5-1 .5 .6 .5-.4 .5 1.3 .5-1.9 .5 .7 .5 .6 .5-.7 .5-0 .5-.2 .5 .6 .5-1 .5 .7 .5-0 .5-1 .5 1.2 .5-.5 .5 .5 .4 .4 .1-.4 .5-1 .5 1 .5-1.2 .5 .6 .5 1.6 .5-1 .5 1 .5-1.1 .5 .2 .5-.7 .5 1.4 .5-.6 .5 .6 .5-.1 .5 .1 .5-.1 .5-.1 .5 0 .5-.4 .5-.9 .5 1.8 .5 1.1 .5-.7 .5 .9 .5-1.2 0-1 .5-0 .5 1.1 .5-.2 .5-.4 .5 .6 .5-1 .5 .9 .5-.5 .5 .3 .5 .6 .5-.8 .5 1 .5-.1 .5-1.3 .5 2 .5-2.4 .5 .8 .5 .5 .5-1.9 .5 2.1 .5 .1 .5-.8 .5 .2 .5 0 .5-.3 .5 .9 .5-1 .5 .2 .5 .3 .5 .3 .5 .2 .5-1.7 .5-.4 .5 1.3 .5 0 .5-.7 .5 1 .5 .2 .5-.2 0 .9 .5-1.8 .5 .7 .5 1.2 .5-.8 .5-1.2 .5 .9 .5 .6 .5 .6 .5-.9 .5 .3 .5-1.5 .5 .6 .5 1 .5-1.5 .5 .6 .5-1.2 .5 2.2 .5-1 .5 .4 .5-1.3 .5 .1 .5 2.1 .5-1.4 .5-.2 .5 .7 .5 .1 .5-1.7 .5 .6 .5 .7 .5-0 .5 .2 .5-.5 .5 .1 .5 .3 .5-.5 .5-.1 .5 .1 .5 .4 .5-.1 .5-.2 .5 .2 0 .1 .5 .2 .5 .1 .5-1.1 .5 1.5 .5-1.7 .5 1.4 .5-.8 .5 .9 .5 .3 .5-1.9 .5 1.7 .5-.2 .5-.5 .5 .6 .5-.5 .5 .4 .5-.7 .5 1.2 .5-0 .5 .1 .5-.9 .5 1.7 .5 .1 .5-1.3 .5-.1 .5 0 .5 .8 .5 .3 .5-1.1 .5-.8 .5 1.7 .5-.3 .5 .2 .5 .3 .5-1 .5 .8 .5-.2 .5 .5 .5 .6 .5-.7 .5-.5 .5 1.4 .5-.2 .5-.6 .5-.9 .5 .6 .5 .7 .5 .4 .5-.7 .5 .7 .5-.6 .5 .2 .5 .7 .5-.5 .5 .4 .5 .5 .5 .2 .5-1 .5 .3 .5-.7 .5 .1 .5 1.1 .5-.5 .5-.8 .5 1.6 .5-.8 .5 .4 .5 .5 .5 .1 .5-.3 .5-1.1 .5 1.6 .5-.6 .5-.5 .5-.5 0 2.3 .5-.7 .5 0 .5 .4 .5-.4 .5-.8 .5 1.4 .5 .2 .5-.2 .5 .7 .5 .3 .5-1.7 .5 .3 .5 .9 .5-.4 .5 0 .5 .5 .5-0 .5-.7 .5 .4 .5-.5 .5 .4 .5-.6 .5-.4 .5 .9 .5 0 .5 1 .5 .5 .5-.9 .5 .3 .5-.6 .5-.2 .5 .5 .5 0 .5 .4 .5-0 .5 1 .5-1.1 .5-.9 .5 1.2 .5-.5 .5 .6 .5 .7 .5-1.1 .5 .4 .5 .4 .5-.8 .5 .7 .5 .3 .5 .2 .5 .2 .5-.2 .5-.1 .5-1.1 .5-.7 .5 1.1 .5 1.6 .5-.8 .5-1.4 .5 1.2 .5 .5 .5-1.3 .5 1.5 .5-1 .5 1.4 .5-.6 .5 2 .5-2.7 .5 1 .5-1 .5 1.7 .5-.6 .5 .5 .5-.4 .5-.8 .5 .4 .1-.3 .4 .1 .5 .8 .5 .6 .5-0 .5-.2 .5-.6 .5 .7 .5-.8 .5 .7 .5 .4 .5-.5 .5-.2 .5 .1 .5 .7 .5-.5 .5-.6 .5 .6 .5-.3 .5 1.6 .5-.8 .5-.9 .5 1.1 .5 .3 .5-.1 .5-.4 .5 .4 .5 .1 .5 .5 .5-.4 .5 1.3 .5-1.5 .5 1.1 .5-.9 .5-1 .5 .4 .5-.3 .5 .1 .5 1.8 .5-1.1 .5 .9 .5-.9 .5 .6 .5-.6 .5 1.2 .5-.6 .5-.1 .5 .3 .5 1.4 .5-1 .5 .3 .5-1.2 .5 .4 .5 .6 .5-1.2 .5 2 .5-.6 .5-.1 .5-.1 .5 0 .5-.1 .5 1.2 .5-.4 .5 .4 .5-.9 .5-.3 .5 1.5 .5-1.6 .5 .5 .5 .8 .5 .3 .5-1.4 .5 .7 .5 .2 .5-.1 .5-.3 .5 .9 .5-.6 .5 .2 .5-1.2 .5 1.4 .5-1.1 .5 1.6 .5-0 .5-.6 .5 .5 .5-0 .5-.1 .5 .3 .5-.2 .5-.2 .5-.1 .5 1.5 .5-.9 .5-0 .5 .4 .5-.6 .5 .1 .5 .6 .5 .3 .5-.2 .2-1.2 .3 .9 .5-0 .5 .3 .5-.7 .5-.1 .5 .6 .5-.4 .5-.1 .5 .7 .5 .6 .5-.4 .5 .6 .5-1.2 .5 1 .5-.4 .5-.4 .5 .3 .5-.2 .5 .4 .5-.3 .5 1.2 .5-.9 .5-.6 .5 .8 .5 .4 .5-.4 .5 .7 .5-1 .5 .1 .5 1.5 .5-.9 .5 .3 .5 .1 .5 0 .5-.2 .5-.1 .5 .8 .5-.9 .5 .4 .5 .3 .5-.6 .5-.6 .5 1.2 .5 .4 .5-.4 .5-1.1 .5 1.4 .5 .8 .5-2 .5-.7 .5 1.5 .5 .2 .5 .5 .5 0 .5-.4 .5 .3 .5-0 .5-.1 .5-.1 .5-0 .5 .5 .5-.1 .5-.5 .5 1 .5-1.1 .5 .4 .5 .2 .5-1.1 .5 .9 .5 .7 .5 0 .5-1.1 .5 .3 .5-.1 .5 .5 .5 .1 .5-.8 .5 1.1 .5-.1 .5-.1 .5-.3 .5 .3 .5-.8 .5 1.2 .5-0 .5-.2 .5-.5 .5 1.4 .5-0 .5-1.7 .5 1.3 .5-.1 .5-1.5 .5 1.8 .5 .1 .5 .1 .5-.3 .5-.5 .5 .2 .5 .6 .3 .4 .2-1 .5 .2 .5 .6 .5-1.6 .5 1.5 .5-.3 .5-1.1 .5 1.7 .5-.9 .5 1 .5 .4 .5-1.5 .5 0 .5 .8 .5-1 .5 1.5 .5-.3 .5 .5 .5-1.6 .5 1.2 .5 .2 .5-1.3 .5 1.6 .5-1.3 .5 .9 .5-.8 .5 1.3 .5 .5 .5-.9 .5 0 .5 .8 .5-1 .5 .3 .5 .5 .5-.2 .5 .7 .5-.2 .5 .5 .5-1.1 .5 .7 .5-1.1 .5 1 .5 .6 .5 .3 .5-2 .5 .7 .5 .5 .5-.9 .5 .9 .5-0 .5-.6 .5 0 .5-.1 .5 .7 .5 .6 .5-.6 .5 1.5 .5-2.4 .5 .5 .5 .8 .5-1 .5 .9 .5 .3 .5-.4 .5-.2 .5 .7 .5-.2 .5 .2 .5-.1 .5-.7 .5-.2 .5 .5 .5 .3 .5-.2 .5 .7 .5-.3 .5 .4 .5-.5 .5-.4 .5 .9 .5-.1 .5-.8 .5 .3 .5 1.9 .5-3.5 .5 2.6 .5-.6 .5-.1 .5-.1 .5-0 .5 1.6 .5-1.5 .5 .1 .5 .6 .5-.2 .5-.3 .5 0 .5-.6 .5 1.5 .5-1.2 .4-.8 .1 2 .5-.1 .5-.2 .5-.5 .5 1 .5-1.3 .5-.6 .5 1.4 .5 .4 .5-.1 .5 .9 .5-.7 .5-.5 .5 0 .5 .7 .5-.5 .5-0 .5-.9 .5 .8 .5-.5 .5 .9 .5-0 .5 .4 .5 .6 .5-1.1 .5 1 .5-1.5 .5 .8 .5 .5 .5 .6 .5-1.7 .5 .5 .5 .3 .5-.1 .5-.5 .5-.3 .5 .2 .5 .7 .5-.6 .5 1.8 .5-.3 .5-1.8 .5 .9 .5 1.1 .5 .1 .5-.2 .5-1.4 .5 .6 .5 1 .5-.6 .5-.3 .5 .6 .5 .3 .5-.5 .5 .1 .5 .5 .5-.9 .5-.2 .5 1 .5-1.1 .5 1 .5-.6 .5 .9 .5-1.1 .5 1.3 .5-.4 .5-.3 .5-.3 .5 .4 .5-.4 .5-.1 .5 1.3 .5-.3 .5 .4 .5-1.4 .4-.3 .1 .2 .5 1.3 .5 .1 .5-1.5 .5 1.7 .5-.9 .5-.4 .5 .7 .5 .4 .5-.4 .5 0 .5-.3 .5-.4 .5 .7 .5-.7 .5 1.3 .5-.8 .5 1.2 .5-1.6 .5 1.7 .5-1.3 .5 .1 .5 .7 .5 .3 .5-.5 .5-.2 .5 1.4 .5-.8 .5-1 .5 .6 .5 1.1 .5-.7 .5 .3 .5 .7 .5-1.5 .5 .6 .5-.6 .5 .4 .5 .3 .5-1 .5 .8 .5 .1 .5 .5 .5-.9 .5-.4 .5 1 .5-.9 .5 .8 .5 .2 .5-.8 .5 .5 .5-.5 .5-1 .5 .8 .5-.4 .5 1.3 .5-.6 .5 .5 .5 .1 .5 .6 .5-.8 .5 0 .5 .6 .5 .6 .5-.9 .5 .2 .5-.3 .5-.2 .5-.5 .5 .9 .5-.1 .5-0 .5 1.3 .5-1.3 .5 .4 .5-.4 .5 .9 .5-.8 .5 1.2 .5-1.2 .5 .6 .5 .2 .5-.7 .5 .6 .5-.4 .5-.4 .5 0 .5 .6 .5 .9 .5-1.3 .5 .6 .5-.8 .5 .7 .5-.9 .5 .3 .5 .5 .5-.4 .5 .3 .5 .7 .5-.6 .5-.3 .5-.3 0 .4 .5 1 .5-.7 .5-0 .5 .5 .5 0 .5 .2 .5-.8 .5-.3 .5-.4 .5 .6 .5 .2 .5 .6 .5-.2 .5-.5 .5 .9 .5-1.2 .5 .1 .5-.1 .5 .1 .5 .5 .5-.3 .5 0 .5 1.3 .5-1.6 .5 .2 .5 .5 .5 .4 .5 .1 .5-.5 .5 0 .5 .1 .5 .6 .5-1 .5-.7 .5 1.4 .5-.7 .5 .6 .5 .8 .5-.7 .5 1 .5-1.9 .5 1.1 .5 .1 .5 .2 .5-.8 .5 .5 .5-0 .5-0 .5-.8 .5-.2 .5 1.3 .5-.1 .5-.2 .5 .4 .5 .3 .5-1.3 .5 1.1 .5 .4 .5-.2 .5-.2 .5 .1 .5-1.2 .5 .5 .5 .9 .5 .3 .5-.6 .5-.5 .5 .2 .5 .6 .5 .7 .5-.7 .5-.7 .5 .6 .5-.1 .5 1.2 .5-1 .5-.3 .5-.1 .5-.6 .5 .1 .5 .3 .5-.1 .5 .6 .5-.1 .5 .5 .5 .3 .5-.7 .5-.2 .5-.9 .5 1.3 .5 .1 .5-.7 .5 .2 .5-.2 .5 1 .5-.2 .5 .4 .5-1.4 .5 2.2 .5-2 .5-0 .5 .7 .5-.5 .5 1.4 .5-1.2 .5-.2 .5 1 .5 .1 .5-1.1 .5 .2 .5 .1 .5 .1 .5 1.1 .5-.3 .5-.1 .5 .2 .5-.7 .5 .5 .5-.5 .5-.4 .5 1.4 .5-1.9 .5 1 .5-.4 .5-.6 .5 .8 .5 .3 .5 .2 0-.7 .5 .9 .5-.3 .5 .3 .5-1.5 .5 .8 .5-0 .5 .6 .5-.7 .5 .2 .5-.4 .5 0 .5 .2 .5 1.1 .5-1.2 .5-.7 .5 1.5 .5-.4 .5 .6 .5-0 .5-.5 .5-0 .5-.1 .5 .4 .5-.5 .5 .6 .5 .7 .5-1.2 .5 .1 .5-0 .5 .7 .5 0 .5 .5 .5-.4 .5-.3 .5 .2 .5-1 .5 1.1 .5-.2 .5 1.1 .5-.4 .5-1.2 .5 .1 .5 .9 .5-1.7 .5 .7 .5 .7 .5 .2 .5-.3 .5 .6 .5-.8 .5 .2 .5-.1 .5-.5 .5 .7 .5-.4 .5 .4 .5-1.5 .5 1.5 .5-.3 .5-0 .5 .4 .5-.3 .5 .8 .5 .2 .5-.2 .5 0 .5-.3 .5-.2 .5-.7 .5 .5 .5 .9 .5-.2 .5-.7 .5 .4 .5 .5 .5-.7 .5 1.1 .5-1.4 .5 .9 .5-0 .5-.3 .5 .1 .5 .1 .5-1.5 .5 1.5 .5 .4 .5-.4 .5 .4 .5-1.3 .5 .7 .5 .2 .5-.3 .5 .8 .5-.4 .5-.5 .5 .8 .5-0 .5-.7 .5 .6 .5-.1 .5-0 .5-.9 .5 1.4 .5-.4 .5-.3 .5 .2 .5 0 .5-.3 .5-.2 .5 .4 .5-.4 .5 .1 .5-.4 .5 .5 .5 .8 .5-.5 .5-0 .5-.2 .5-.1 .5-.6 .5 1.8 .5-1.3 .5-.5 .5 1.1 .5-.1 .5-.4 .5-.5 .5 .1 0 1.6 .5-.9 .5-.3 .5 1.4 .5-1.3 .5-.2 .5 .8 .5-.1 .5 .7 .5-1.8 .5 1.1 .5-1.1 .5 1.2 .5-.6 .5 .1 .5-.2 .5 .9 .5 .5 .5-1 .5-.1 .5-.1 .5 .6 .5-.9 .5 2.6 .5-2.1 .5 1.1 .5-.9 .5-.8 .5-.1 .5 .6 .5-.1 .5 .2 .5-.5 .5 2 .5-.1 .5-2.2 .5 1.3 .5 .4 .5-.9 .5 .1 .5 .7 .5-.3 .5-.9 .5 1.3 .5-.9 .5 1.3 .5-1.6 .5-.7 .5 1.3 .5 .7 .5-.4 .5-.2 .5-.6 .5 1 .5-1.5 .5 1.5 .5-1.1 .5 .3 .5-.4 .5 .2 .5 1.4 .5-1.5 .5 .8 .5-.6 .5 1.1 .5-1.4 .5 .8 .5 .5 .5 .8 .5-2 .5 .2 .5 .5 .5 .9 .5-1.4 .5 1 .5-.8 .5-.2 .5-.3 .5 .9 .5 .5 .5-.6 .5-1.1 .5 .9 .5 .8 .5-0 .5-.3 .5 .6 .5-1.5 .5 0 .5 2.1 .5-1 .5-.5 .5-.1 .5-1.2 .5 1.9 .5-1.6 .5 .1 .5 1 .5 .9 .5-1 .5 .4 .5-.5 .5 .5 .5-1.1 .5 2.1 .5-1.7 .5 .8 .5-1.4 .5 2.1 .5-.7 .5 .9 .5-1.5 .5 .9 .5-.6 .5 0 .5 .8 .5-1.2 .5 .9 .5 .7 .5-.1 .5-.4 .5-.4 .5-.7 .5 1.3 .5-1.2 .5 1.1 .5-.8 .5 .2 .5-0 .5 .3 .5-.6 .5 .4 .5-.4 .5 .6 .5-.2 .5 .1 .5-.7 .5 .7 .5-.2 .5 .3 .5-.3 .5-.5 .5 .9 .5-.7 .5 .5 .5-1.3 .5 1.4 .5 .1 .5-.9 .5 .9 .5-.5 .5 1 .5-.4 .5-1.1 .5 .6 .5-.9 .5 .8 .5 .5 .5 .2 .5-.6 .5-0 .5 .2 .5-.4 .5 .5 .5 .5 .5-.5 .5 .3 .5-.9 .5 .2 .5 .5 .5 .9 .4-.6 .1 .4 .5-.9 .5 .7 .5-1.7 .5 1.3 .5-1.5 .5 1.9 .5-.4 .5 .4 .5-.4 .5-.5 .5-.2 .5 .6 .5 .7 .5-.5 .5-.6 .5-.1 .5-0 .5 .3 .5 0 .5-.2 .5 .3 .5-.9 .5 1.8 .5-.8 .5 .8 .5-.7 .5-.3 .5 .2 .5 .1 .5-.5 .5 .1 .5 1.3 .5-.5 .5-.8 .5 .6 .5-.8 .5 1.3 .5-1.4 .5 1.1 .5-.5 .5 0 .5-.5 .5 .3 .5-.2 .5-.1 .5 .8 .5 1.1 .5-1.6 .5 .8 .5-.6 .5-.4 .5 1.2 .5-.4 .5 .3 .5-.6 .5 0 .5-.5 .5 .3 .5 1.1 .5-2.2 .5 1.5 .5 .6 .5-.4 .5 .1 .5-.7 .5 .8 .5 0 .5-.6 .5 .9 .5-1.2 .5-1.1 .5 1.4 .5-0 .5-.5 .5 .3 .5-.1 .5-.7 .5 1.7 .5-.7 .5 1.5 .5-1.5 .5 .3 .5-1.1 .5 1.4 .5-1.1 .5 .9 .5 .2 .5-.1 .5-.9 .5 0 .5 .9 .5 .2 .5 .2 .5-.8 .5-.1 .5 1.1 .5-1.3 .5 .7 .5-.6 .5-.6 .5 .2 .5 .9 .5-.2 .5 .2 .5-.5 .5-0 .5 .4 .5-.3 .5-.8 .5 .7 .5 1.2 .5-1.4 .5 .8 .5-.4 .5 .5 .5-.9 .5-.2 .5 .9 .5-.6 .5 .4 .5-.2 .5 .7 .5-.4 .5-0 .5-.7 .5-.3 .5 .4 .5 1 .5-.1 .5-.1 .5-.5 .5-.4 .5 1.3 .5-.6 .5 .2 .5-.8 .5 .1 .5 .8 .5 0 .5-.9 .5 .7 .5-.8 .5 1.3 .5-.3 .5 .9 .5-.4 .5-1.2 .5 .5 .5-.4 .5 .3 .5 .4 .5-.4 .5 0 .5-.8 .5 1.1 .5-.3 .5 .3 .5 .3 .5-.6 .5 .4 .5-.7 .5 .8 .5-.5 .5-.3 .5 .2 .5-.7 .5 .5 .5 .1 .5 .2 .5-0 .2-.3 .3 .2 .5-1 .5 1.2 .5 .3 .5 .1 .5 .1 .5-.7 .5 .1 .5-.2 .5-0 .5 .3 .5 .7 .5-1.7 .5 .7 .5 .4 .5-.7 .5 .8 .5-1 .5 .6 .5-.7 .5 1 .5-.5 .5 .8 .5-.6 .5-.3 .5 .3 .5 .3 .5-.1 .5-.1 .5-.1 .5 .2 .5 .5 .5-.8 .5 .6 .5-1 .5 1.3 .5-.4 .5-.3 .5-0 .5-.8 .5 1 .5-.2 .5-.6 .5 .5 .5 .6 .5-.2 .5 0 .5-.4 .5 .8 .5-.5 .5 .5 .5 .7 .5-2.3 .5 .8 .5 .3 .5-.4 .5 1 .5-.8 .5 1.2 .5-.5 .5-.2 .5-.3 .5 .5 .5-.2 .5 .6 .5-.6 .5 .3 .5-.3 .5-0 .5-1.1 .5 .9 .5 .2 .5-.8 .5-.2 .5 .6 .5 .4 .5-1.1 .5 1.1 .5 .3 .5-.6 .5 .3 .5 .1 .5-.6 .5 .7 .5-.1 .5-.9 .5 .9 .5 .2 .5-1 .5 1 .5-.6 .5-.6 .5 .2 .5 .1 .5 .8 .5-.6 .5 .1 .5-.5 .5 .7 .5-.7 .5 .3 .5 .7 .5 .1 .5-.7 .5 .3 .5 .3 .5-.3 .5 .7 .5 0 .5-.7 .5-.7 .5 .6 .5 .9 .5-.2 .5 .1 .5-.1 .5-.9 .5 .5 .5 .4 .5-.4 .5 .3 .5-1 .5-.1 .5 1.8 .5-.7 .5-.1 .5 .5 .5 .4 .5 .3 .5-2.9 .5 1.6 .5 .3 .5-1.6 .5 .1 .5 .9 .5 1.1 .5-.5 .5 .7 .5-1.1 .5 .5 .5 .2 .5-.6 .5-.2 .5 0 .5-2.1 .5 2.2 .5-1.2 .5 .6 .5 .9 .4-.2 .1-1.3 .5 1.4 .5 .1 .5-.3 .5 .2 .5-0 .5-1.3 .5 .8 .5-0 .5-.5 .5 .6 .5-.4 .5 .4 .5-.4 .5 1 .5 .7 .5-1.6 .5 .4 .5-0 .5 .2 .5-.3 .5-1.2 .5 1.5 .5-.3 .5-.5 .5 .4 .5-.1 .5 .4 .5-.3 .5-0 .5 .2 .5 .1 .5-.1 .5 .6 .5-.5 .5-.6 .5 1.4 .5-.9 .5 .8 .5-1.4 .5 .9 .5 .6 .5-.2 .5-.7 .5-.4 .5 0 .5 .3 .5-.5 .5 .2 .5-.2 .5 0 .5 .7 .5-1.1 .5 1.1 .5 .3 .5-.9 .5-0 .5 .5 .5-0 .5 .5 .5-1.6 .5 1 .5 .9 .5-.8 .5 1 .5 .2 .5-1.5 .5 1.1 .5-.5 .5-.3 .5-.2 .5 .1 .5-.4 .5 .4 .5 .6 .5 .2 .5-.9 .5 .5 .5-0 .5-1.6 .5 1.7 .5-1.1 .5 .1 .5 1.1 .5 .5 .5-1.6 .5 .1 .5 0 .5 .2 .5 .1 .5-.2 .5-.5 .5 1.9 .5-1.2 .5-.2 .5 .9 .5-.7 .5 .8 .5-.1 .5 .1 .5-.8 .5 .6 .5-1.2 .5 .1 .5 .8 .5-.2 .5 .9 .5-.9 .5-.8 .5 1 .5-.2 .5 .3 .5-.8 .5 .2 .5 .5 .5 .4 .5-.2 .5 .2 .5-1.2 .5 .7 .5 .2 .5 .4 .5-.3 .5-.3 .5 0 .5 .1 .5-.8 .5 .8 .5 .5 .5-.1 .5-1.4 .5 1 .5-.8 .5 1.4 .5-.3 .5 .1 .5-.7 .5-.7 .5 .5 .5 .4 .5-.7 .5 .3 .5 1.5 .5-1.7 .5 1.1 .5-1.4 .5 1.2 .5 .3 .5-.2 .5 .4 .5 .4 .5-1.8 .5 .9 .5 .2 .5-.1 .5 .7 .5-.7 .5 .5 .5-0 .5-.6 .5 .2 .5-.7 .5 .6 .5-.1 .5-.1 .5-.2 .5 .8 .5-.6 .5 1.3 .5-.5 .5-.3 .5-.8 .5 .9 .5-.5 .5 0 .5-.6 .5 .9 .5-.2 .5-.4 .5-.1 .5 .2 .5-.5 .5 .4 .5 1.1 .5-1.1 .5 1.6 .5-2 .5 1.3 .5 0 .5 .1 .5-.4 .5-1.2 .5 1.6 .5-.1 .5-.5 .5-1.4 .5 1.9 .5-1.1 .5 .4 .5 .8 .5 .1 .5-.5 .5-.5 .5 1.2 .5-.3 .5-.7 .5-.5 .5 .7 .5-.9 .5 1.8 .5-.7 .5-.5 .5 .4 .5-1.1 .5 .9 .5-.4 .5-.5 .5 .5 .5 .6 .2-1 .3 .7 .5-.7 .5 .9 .5-1.1 .5 1.4 .5-0 .5 .1 .5 .5 .5-.9 .5-0 .5 .3 .5-.6 .5-.8 .5 .4 .5-0 .5 .8 .5-.5 .5 .1 .5 .6 .5-.2 .5 1 .5-1.1 .5-.5 .5 1.2 .5-.9 .5 .2 .5 .6 .5-.5 .5 .3 .5-.7 .5 .2 .5 .5 .5-.6 .5 0 .5 .2 .5 1 .5-.1 .5-.7 .5-.1 .5-.4 .5 1.2 .5-.5 .5 .3 .5-1.3 .5 1.2 .5-.3 .5 .3 .5 .2 .5-.6 .5-.2 .5 .6 .5-1.1 .5 1.5 .5-.6 .5-.8 .5 1.4 .5-.2 .5 .3 .5-.3 .5-.2 .5-.3 .5-.6 .5 1 .5-0 .5-.6 .5 .6 .5-.8 .5 1.1 .5-.5 .5 0 .5-.5 .5 .9 .5-.4 .5-.4 .5 .5 .5-.3 .5 .7 .5-1.4 .5 .2 .5 1.8 .5-1.4 .5 .6 .5-.5 .5 .3 .5 1.4 .5-2.6 .5 1.4 .5-.2 .5-0 .5-.5 .5-.1 .5 1.3 .5-.4 .5-1 .5 .7 .5-.7 .5 2.3 .5-1.4 .5-1.2 .5 1.6 .5-.2 .5-.2 .5-0 .5-.4 .5 .2 .5-1 .5 1.8 .5 .4 .5-.8 .5 .1 .5-1.1 .5 .5 .5-.5 .5 0 .5 1.1 .5 .5 .5-.8 .5 1.4 .5-.9 .5-1.7 .5 1 .5 1 .5-.7 .5 .5 .5-1.5 .5 1.7 .5-1.4 .5 .9 .5 1 .5-1.1 .5-.2 .5 .6 .5-.9 .5-.1 .5 1.1 .5-1.4 .5 .2 .5 1.7 .5-1.7 .5 1 .5 .3 .5-.6 .5-.6 .5 1.1 .5-1 .5 1.7 .5 .1 .5-1.8 .5 .9 .5-.7 .5 .6 .5-.3 .5-.4 .5 .8 .5-1.2 .5 1.1 .5-.2 .5-.4 .5 1 .5-.5 .5-.2 .5 .1 .5-0 .5 .6 .5-.6 .5-1.5 .5-.1 .5 1.2 .5-.1 .5 .5 .5-.6 .5 .3 .5 1.2 .5-1.4 .5 1.2 .5-.5 .5 .8 .5-.3 .5-.4 .5 .6 .5-.5 .5-.7 .5 .9 .5-0 .5-.3 .5 .2 .5-.4 .5 .4 .5-.3 .5-.7 .5 .7 .5 1.1 .5-.5 .5 .4 .5-.8 .5-.2 .5-.4 .5 .7 .5 .5 .5-.1 .5-0 .5-.7 .5 .3 .5-.5 .5 .9 .5-.1 .5-.7 .5 .5 .5-1.4 .5 1.7 .5-.8 .5 .2 .5 .6 .4 0 .1-.7 .5 1.2 .5 .3 .5-.4 .5-0 .5-.7 .5 .7 .5-1.2 .5-.1 .5 .7 .5 0 .5-.6 .5 1.5 .5-1.8 .5-.3 .5 .9 .5 1.1 .5-.5 .5-.2 .5-.1 .5 .3 .5-.2 .5-.1 .5-.1 .5-.8 .5 1.4 .5-.8 .5 .5 .5 .1 .5 .3 .5-1 .5 .8 .5 .1 .5-.6 .5 .1 .5 .1 .5-.6 .5 .3 .5-.4 .5 1.3 .5-1.1 .5-.2 .5 .7 .5 .2 .5-.4 .5-.4 .5 .8 .5 .2 .5-1.3 .5 1.4 .5-1.5 .5 1.4 .5-.7 .5 .2 .5 .5 .5 .4 .5 .4 .5-.4 .5-.4 .5-1.1 .5 .5 .5 .3 .5-.4 .5 .7 .5-.5 .5 1.1 .5-1 .5-.6 .5 .4 .5-.1 .5 .8 .5 .4 .5-.3 .5 .1 .5-1 .5-.2 .5 .2 .5 .4 .5-.2 .5 .4 .5 .4 .5-.5 .5 .9 .5-1.4 .5 .8 .5-.4 .5 .6 .5-.6 .5-.2 .5 .2 .5-.4 .5-.1 .5 1 .5-.7 .5 1 .5 .7 .5-1.6 .5 .7 .5-.5 .5-1 .5 1 .5 .8 .5-1.5 .5 .6 .5 0 .5-.7 .5 1 .5-.2 .5 .4 .5-.3 .5-.8 .5 .8 .5 .3 .5-.5 .5 .5 .5-0 .5-1.5 .5 1.5 .5-1.4 .5 .4 .5 .6 .5-.5 .5 .1 .5 1.1 .5-1.2 .5 1.2 .5 .4 .5-.2 .5-1.4 .5-.2 .5 .8 .5 1.2 .5-1.3 .5-.2 .5 .3 .5 .4 .5 .3 .5-.7 .5-0 .5 .3 .5-.2 .5-.3 .5-.7 .5 1 .5-.4 .5 .2 .5 0 .5-.3 .5 .8 .5 .3 .5-.3 .5-.7 .5 .5 .5 .3 .5-.4 .5 .4 .5-1.2 .5 .7 .5 .9 .5-.2 .5-.6 .5 .1 .5 1.1 .5-.5 .5-1 .5 .5 .5-.4 .5-0 .5-.4 .5 1.1 .5 .8 .5-.7 .5-1.2 .5 1 .5-1.1 .5 1 .5 .4 .5 .3 .5-.8 .5 .1 .5-.1 .5-.1 .5 .9 .5-1.3 .5-.4 .5 1.9 .5 .2 .5-2.1 .5 1.4 .5-0 .5-.7 .5-.3 .5 .6 .5-.2 .5 .6 .5-.8 .5 1 .5-1 .5 1.3 .5-.4 .5 .1 .5-.8 .5 .1 .5 0 .5 .8 .5-1.1 .5-0 .5 .3 .5 .3 .5-.2 .5 0 .5-.7 .5 .4 .5-.2 0 1.1 .5-.6 .5 .4 .5-1 .5 .7 .5 .2 .5-.8 .5 .2 .5 .1 .5 .4 .5 .1 .5-1 .5 1 .5-0 .5 0 .5-.6 .5 .4 .5 .8 .5-.1 .5-1 .5 1.3 .5-1.1 .5-.3 .5 1.1 .5-.4 .5 1.1 .5-1.4 .5 .2 .5 .4 .5-.3 .5-.4 .5 .3 .5-0 .5-0 .5-0 .5-.8 .5 1.3 .5-.8 .5 .2 .5-.3 .5 .3 .5 .7 .5 .2 .5-.6 .5-0 .5-.4 .5 .1 .5 .3 .5-.2 .5-.4 .5 .6 .5-.6 .5 1.7 .5-1 .5-.5 .5 .6 .5-.6 .5 .2 .5 1 .5-.1 .5-1.3 .5-0 .5 .3 .5 1.6 .5-1.2 .5 .1 .5-.4 .5 1 .5-.2 .5-1.5 .5 .5 .5-.5 .5 .4 .5 .2 .5-.3 .5 .4 .5 .7 .5 .3 .5-.6 .5 .4 .5-1.2 .5 1.6 .5 .5 .5-1.4 .5 .4 .5-.1 .5-1.4 .5 1.8 .5-.3 .5-1.1 .5 .6 .5 .9 .5-.3 .5-1.1 .5 .5 .5-.1 .5 .5 .5-.5 .5 .5 .5-.2 .5-.7 .5 1.1 .5-.1 .5-.5 .5 .8 .5 .9 .5-2.2 .5 1 .5 .4 .5-.4 .5-.4 .5 1.6 .5-1.5 .5 .2 .5-.3 .5 1.1 .5-1.9 .5 .7 .5 .3 .5 .4 .5 0 .5 .4 .5-.6 .5-.3 .5 .3 .5-.4 .5 .2 .5 0 .5 .5 .5 .3 .5-1.1 .5 .3 .5 .3 .5 .1 .5-.2 .5 .5 .5-.4 .5-.9 .5 1.7 .5-1.4 .5 1.6 .5-.7 .5 0 .5-.9 .5 .9 .5-.2 .5-.4 .5 .8 .5 .1 .5 .3 .5-1.3 .5 .2 .5 1.2 .5-.4 .5 .1 .5-.7 .5 .5 .5 .3 .5-1.1 .5 .3 .5 .5 .5 .6 .5-1 .5 .6 .5-.8 .5-.1 .5 1 .5-.9 .5 .6 .5-.4 .5 .6" fill="none" stroke="#000000" stroke-width="6.7" stroke-linejoin="round" stroke-linecap="butt" clip-path="url(#clipLo)" />
<path d="M379.5 1141.8l.5-5.9 .5 3.3 .5-1.4 .5-.2 .5 .1 .5-2.5 .5 2 .5-.9 .5 5 .5-3.8 .5-.8 0 .1 .5-.4 .5-.4 .5 .9 .5 1.2 .5-.7 .5 1.6 .5-1.2 .5 .4 .5 2.1 .5-1.1 .5-1.1 .5 .5 .5 1 .5 1.8 .5-2.7 0 0 .5 1.6 .5-2.3 .5 .7 .5 1.4 .5-.4 .5-.6 .5 .7 .5-4.3 .5 4.7 .5-2.5 .5-.9 .5 2.4 .5 .5 .5-1.5 .5-.8 .5 1.4 .5-.2 .5 1.8 .5-.9 .5-.7 .5 1.1 .5-1.6 .5-.9 .5 1.8 .5-.1 0-.9 .5-.8 .5 1.2 .5-3.3 .5 3.8 .5-.3 .5-2.6 .5 2 .5-1.3 .5 2.1 .5-3.5 .5 1.4 .5 1.9 .5 .5 .5-4.1 .5 2 .5 .9 .5-1.2 .5 2.6 .5-3.4 .5 1.8 .5-1.8 .5 3 .5-1.8 .5-.5 .5-1.7 .1 4.1 .4-1.2 .5-0 .5 .4 .5-1.1 .5-1.3 .5-.3 .5-.1 .5 2.6 .5-3.6 .5 1 .5 .2 .5 .6 .5 .4 .5-2.4 .5-.7 .5 2 .5 1.4 .5-.7 .5-.7 .5-.8 .5 .6 .5-.8 .5 1.2 .5-2.1 .5 1 .1-.3 .4 .7 .5-.5 .5 2.8 .5-1.5 .5-.1 .5-4.6 .5 2 .5-.5 .5 1.3 .5-3.7 .5 4.2 .5-.3 .5-3.2 .5 .3 .5 0 .5 1 .5 .6 .5 1.6 .5-3 .5 1 .5-.9 .5 1.9 .5-1.4 .5 .6 .5-3.2 .1 1.1 .4-.9 .5 2.8 .5-1.2 .5-1.4 .5-.3 .5 1.1 .5-1.6 .5-.4 .5 1.7 .5 2.4 .5-3.6 .5-.5 .5-.9 .5-.3 .5 2.3 .5 .3 .5-1.3 .5 .3 .5-.4 .5-.1 .5-2.3 .5 1.3 .5 .6 .5-1.3 .5 .2 .1-.5 .4 .5 .5 1.4 .5-1.9 .5 .1 .5 1.1 .5-.5 .5 1.1 .5-5.2 .5 3.6 .5-2 .5 .5 .5 .6 .5 .1 .5-.4 .5-1.4 .5 1.6 .5-2.8 .5-.1 .5 1 .5-2 .5 3.4 .5-1.8 .5 1.3 .5-3.2 .5-.7 .2 .7 .3 .7 .5-2 .5 1.2 .5-.7 .5 2 .5-3.2 .5 2.2 .5-2.5 .5-.6 .5 .3 .5-.8 .5 1.7 .5 1.1 .5-1.4 .5 .6 .5 1.2 .5-2 .5-.2 .5-.8 .5-2 .5 3.1 .5-3.7 .5 3.2 .5-1.1 .5 1.4 .2-1.7 .3-1.2 .5 1.4 .5-1.5 .5 .2 .5 .1 .5-.5 .5-.4 .5-1.2 .5 .5 .5-3 .5 2.4 .5-1.8 .5 3 .5-.1 .5-5 .5 2.7 .5-.8 .5-1.6 .5 1.9 .5-1.7 .5-2.2 .5 1.9 .5-.2 .5 .1 .5-2.2 .2 2.6 .3 .1 .5-3 .5 .5 .5 .6 .5-.9 .5 3.2 .5-2.4 .5-2 .5 .1 .5 .9 .5 3.3 .5-3.8 .5 .3 .5 .4 .5-1 .5 3.2 .5-4.3 .5 1.7 .5-1.1 .5 .5 .5-2.9 .5 4.2 .5-3.1 .5 0 .5-1.7 .2 .2 .3 1.8 .5 .4 .5-.6 .5 .4 .5-1.1 .5-1.4 .5 .9 .5-.7 .5-1.4 .5 .9 .5 .5 .5-2 .5-1.3 .5 1.2 .5 1.5 .5-3.7 .5-.2 .5-.4 .5 1.7 .5-5.2 .5 3.2 .5 .9 .5-3.5 .5 3.3 .5-1.8 .3-1.9 .2 1 .5-3 .5 1.2 .5 3.5 .5-4.6 .5 4.1 .5-3.4 .5 1.5 .5-1.8 .5-4 .5 2.5 .5 .9 .5-2.4 .5-.6 .5 2.5 .5-1.9 .5-2 .5 1.4 .5 2.3 .5-2.5 .5 2.1 .5 .7 .5-2.8 .5-2.2 .5-.5 .3 1.9 .2 1.4 .5-1.3 .5 .2 .5-2 .5 1 .5-1.6 .5-.1 .5-1.9 .5-.8 .5 1.5 .5-1.3 .5-.1 .5 2.5 .5-1.6 .5 4.8 .5-3.7 .5-3 .5 2.1 .5-1 .5-2.1 .5 2.8 .5-3.5 .5-4.3 .5 6.4 .5-2.7 .3 3.4 .2-3.8 .5-1.2 .5 4.5 .5-4.9 .5 1.9 .5 1.9 .5-2.6 .5-.7 .5 0 .5 1 .5-3.2 .5 2.2 .5-.3 .5 2.8 .5-5 .5-1.3 .5 2.6 .5-2.3 .5 1 .5-.5 .5 1.6 .5-3.5 .5 .8 .5-4.7 .5 2.8 .3 4.2 .2-4 .5-.3 .5-1.1 .5 3.1 .5-.9 .5-2.7 .5 3.2 .5-.9 .5 .8 .5-2.7 .5 4.1 .5-2.5 .5-1.1 .5-.9 .5 .4 .5 1.8 .5-2.2 .5 2.4 .5-1.1 .5 1.3 .5-1.1 .5-1.7 .5-3.6 .5 4 .5 .7 .4-1.2 .1 .7 .5-2 .5 0 .5-1.1 .5 4.1 .5-2.4 .5-1.3 .5-1.7 .5 2 .5 2.9 .5-2 .5-2.3 .5 3.9 .5-.2 .5-.9 .5-.5 .5 .6 .5-1.2 .5 .3 .5-2.9 .5 4.1 .5-2.4 .5 3.3 .5-7.6 .5 5.1 .4 .5 .1-2.4 .5 1.5 .5 .5 .5-.3 .5-2 .5 .7 .5 2.2 .5 .5 .5-2.1 .5-0 .5 .3 .5 1.6 .5-3.9 .5-.4 .5 2.7 .5-2.2 .5 1 .5 1.4 .5 .8 .5-2.8 .5 3.5 .5-4.7 .5 4.4 .5-3.9 .5 .6 .4 3.6 .1-1.9 .5-.6 .5 .7 .5 1.8 .5-.9 .5 .1 .5 2.1 .5-3.1 .5 .5 .5 0 .5 3.3 .5-.2 .5 .6 .5-2.3 .5-.1 .5 2 .5-2.1 .5 2.4 .5-.1 .5-2.4 .5 1.2 .5 .1 .5 3.6 .5 1.7 .5-4.7 .4 .3 .1-4.1 .5 4.7 .5-.2 .5-1.7 .5 3.6 .5-4 .5 2.6 .5 1 .5-2.3 .5 4.1 .5 .6 .5-4 .5 .2 .5 3.9 .5-.8 .5-1.8 .5 1.9 .5 .7 .5 .2 .5 2.1 .5-.5 .5 2.7 .5-.4 .5-.9 .5 .9 .4 .7 .1-1.1 .5-3.1 .5 3.9 .5-1.1 .5 3 .5-2.4 .5 1 .5-0 .5 2.6 .5-2.4 .5-.5 .5 1.3 .5-1 .5 1.3 .5-0 .5 .7 .5 3.1 .5-3.8 .5 1 .5-.1 .5 1.7 .5-3 .5 1.1 .5 1.3 .5 1.2 .5-.8 0-.8 .5-.4 .5 2.5 .5 1.8 .5-1.7 .5-0 .5 .6 .5-2.2 .5 1.2 .5 .2 .5 1.1 .5-.5 .5-1.9 .2 3.9 .3 .9 .5-3.3 .5 .9 .5-.4 .5 .5 .5-4.1 .5 4.8 .5-3.9 .5 2.4 .5-2.4 .2-1.1 .3 .2 .5 .9 .5-4 .5-.3 .5-1.4 .5-3.3 .5 4.2 .5-2.1 0-1.1 .5 1.3 .5-4.6 .5 1 .5 2.9 0-1.3 .5-4.3 .5 1.8 .5 8.4 .4 6.6 .1-1.8 .5 4.3 .5 5.1 .5 .8 .3 2.7 .2 1.5 .5 .7 .5 .9 .5-.6 .5 2.4 .5-.8 .5 3.2 .5 2.5 0-5 .5-1.5 .5 3.1 .5 1.7 .5 1.5 .5 .6 .5-2.3 .5 .4 .5 3.5 .5-3.1 .5 3.6 .5-1.5 .5 1.8 .5 .3 .5 .5 .5 .4 .5-2.2 .5 2.3 .5-0 .5 .8 .5 1.7 0-2.1 .5-.2 .5 .4 .5 1.1 .5 1.9 .5-1.7 .5 3.2 .5-.8 .5-.3 .5-1 .5 2.6 .5 1.1 .5-3 .5 4.5 .5 1.1 .5-1.4 .5 .7 .5 3 .5-1.2 .5-2.5 .5 1.6 .1-.1 .4 .3 .5-2.5 .5 4.5 .5-1.5 .5 1.5 .5-.1 .5 1.7 .5-1.1 .5-.3 .5 2 .5 1.5 .5-1.9 .5 2.6 .5-1.1 .5-.7 .5 3 .5-2.7 .3 2.5 .2-1.8 .5 1.6 .5-1.8 .5 .8 .5 2.8 .5-.8 .5 .2 .5-.3 .5 1.4 .5-2 .5 .6 .5 1.4 .5-.7 .1 .2 .4 .9 .5 .1 .5 0 .5 2.5 .5-.7 .5 .4 .5-1.4 .5-.5 .5-1.1 .5 1.4 .5-2.1 .5 1.9 .4 1.7 .1 1.1 .5-1.2 .5-2.8 .5 .9 .5-2.5 .5 1.1 .5-2 .5 .7 .1 2.1 .4-2.5 .5 1.4 .5-3.1 .5-.8 0 2.1 .5 .8 .5-2.1 .5 2 .5-.5 .5 2.9 0 1.3 .5 .4 .5 1.4 .5 1 .5 4 .5 1.8 0-.2 .5 .4 .5-1 .5 4.3 .5-1.5 .5 .5 .5 1.5 .5-2.8 .5 2.8 .5 .3 .5 1 .5 1.5 .1-.9 .4-2.4 .5 2 .5 1 .5 .2 .5-1.3 .5-.2 .5 2.7 .5 0 .5-.2 .5-1.6 .5 4.1 .5-5 .5 3 .5 3 .5-2.3 .5 .7 .5-1.4 .4 3 .1-2.9 .5 2 .5 .1 .5-1.1 .5 2.4 .5-2.3 .5 1 .5 1 .5-.2 .5 1.1 .5 .8 .5-1.1 .5-.1 .5 .3 .5 .4 .5 1.4 .5-.8 .5 .9 .5-.4 .5-.5 .5 2 .5-1.8 .5 1.3 .5 1.8 .5-2.5 .4 1.3 .1-1.6 .5 1.4 .5-.9 .5 1.5 .5-0 .5 .9 .5 1.7 .5-1.1 .5 .6 .5-.5 .5-0 .5-.4 .5-.8 .5 2.2 .5 1.8 .5-1 .5-.8 .5 2.4 .2-2 .3-.1 .5-.4 .5 .5 .5 1 .5 2.6 .5-2 .5-.6 .5 .7 .5 .6 .5-1.4 .5 2 .5 .7 .5-.4 0 .3 .5-2 .5-.6 .5 2.7 .5-.6 .5-3.2 .5 1.2 .5-.8 .5-.1 .3-.7 .2-1 .5 0 .5-.9 .5-1.2 .5-3.1 .5-2.6 .5 .9 .5-2.5 .1 1.7 .4-1.2 .5-3.4 .5-4.2 .5-3.2 .4-1.7 .1-3 .5-1.7 .5-4.2 .5-5.1 .3-1.4 .2-5.3 .5-4.3 .5-10.6 .3-5 .2-4.2 .5-8.4 .3-9.9 .2-5.3 .4-13.7 .1 5.2 .5 18.8 .5 15.4 .1 5.9 .4 13.4 .3 11.9 .2 1.9 .5 8.3 .5 17.4 .1 .9 .4 10.1 .3 5.7 .2 .5 .5 4 .5 1 .5 3.5 .2-.3 .3-1.6 .5 .9 .5 1.5 .5-.7 .5 2.1 .5 .5 .5-.2 .5 .6 .5 1.2 .5 1.2 .3 .3 .2-1.1 .5 1 .5-1 .5 1.3 .5-.9 .5 1.8 .5-1.4 .5 .5 .5 1.1 .5 .8 .5-1.5 .5 1 .5 .9 .5 .3 .5-.6 .5 1 .5-0 .5 1.6 0-.7 .5-1.3 .5-.5 .5 2.2 .5 1.2 .5-.6 .5 .9 .5-.9 .5-.4 .5 2 .5-.3 .5 .8 .5-1.4 .5 1.5 .5-.4 .5 1.4 .5-.9 .5 .3 .5 .2 .5 1.8 .5-.8 .5-.4 .5-0 .5 .2 .5 2.2 .5-2.5 0 .8 .5 1.4 .5 .6 .5-.9 .5 .9 .5 .2 .5 .3 .5-.6 .5 1.5 .5-1 .5 1.2 .5-1.9 .5 1.7 .5-1.6 .5-0 .5 1.7 .5-.9 .5 1.1 .5-1 .5 2.2 .5-1.1 .5-.7 .5 1.1 .5 .7 .5-1.1 .5 1.1 .1 1.2 .4-.8 .5-.5 .5-.3 .5 1 .5-1.5 .5-1.1 .5 2 .5-.2 .5 2.3 .5-1.1 .5-.7 .5-.1 .5 1.4 .5-.9 .5 .4 .5 .5 .5 .2 .5 .1 .5 .2 .5 1 .5 .4 .5-2.4 .5 3.4 .5-1.8 .5 1 .1-1.5 .4 .9 .5 .1 .5 0 .5 .7 .5-0 .5-1.1 .5 .8 .5 .7 .5 .1 .5-.6 .5 .2 .5 .2 .5-.6 .5 0 .5 2.3 .5-1.3 .5 .5 .5-.6 .5 1.7 .5 .5 .5-1.4 .5 .7 .5-.9 .5 2 .5-.5 .1-1.3 .4 1.6 .5-.6 .5 .1 .5 .1 .5-.7 .5 .2 .5 .9 .5-.4 .5-.6 .5 2.2 .5-1.6 .5-.2 .5-0 .5 1.1 .5 .3 .5-.5 .5 .5 .5-1.7 .5 .9 .5 0 .5 .5 .5 .4 .5-1.8 .5 3.9 .5-2.8 .1 .9 .4 .4 .5 .2 .5-.3 .5-2.2 .5 1.5 .5 1.5 .5-1 .5 .1 .5-.8 .5 2.8 .5-.3 .5-.8 .5 .7 .5 .2 .5-.5 .5 .8 .5 .6 .5 .4 .5 .8 .5-.7 .5-.2 .5 .8 .5-.6 .5-.2 .5 1.8 .5-.9 .5 .5 .5 .5 .5-1.1 .5 1.4 .5-0 .5-.3 .5 .5 .5-.6 .5-.9 .5 1.5 .5-.3 .5 1.4 .5-.3 .5-.5 .5 .6 .5 1 .5-0 .5-.4 .5 .1 .5-.4 .5 .2 .5 .6 .5-.4 .5 .4 .5-.9 .5-.4 .5 .1 .5 .9 .5 1.2 .5-0 .5-1.6 0-.3 .5 1.6 .5-.3 .5-1.3 .5 1.6 .5-.6 .5 .7 .5-.8 .5 .3 .5-.5 .5-.9 .5 .4 .5-.4 .5 .9 .5-1.3 .5-.5 .5 1.5 .5 .3 .5 .1 .5-.2 .5-1.9 0 .6 .5 .1 .5 .5 .5-1.4 .5 1.7 .5 .4 .5-.6 .5 1 .5 1.1 .5-.5 .5 .9 .5 .3 .5-.2 .5 .2 .5-.3 .5 1.3 .1-1.2 .4-.1 .5 1.1 .5-.9 .5 .9 .5 .5 .5-.5 .5 .1 .5 .6 .5-0 .5-1.5 .5 .2 .5 1.9 .5-.6 .5-1.6 .5 .6 .5 1 .5-.7 .5 1.1 .5-.2 .5 .4 .5-1 .5 1.3 .3 .9 .2-1.8 .5 1.5 .5-.1 .5-0 .5-.4 .5-.6 .5 .4 .5 1.3 .5 .3 .5 .3 .5 0 .5 .1 .5-.7 .5-.4 .5 1.1 .5 .3 .5-.2 .5-1 .5 .7 .5-.6 .4 1.1 .1-.8 .5 .6 .5 .3 .5-.2 .5 .8 .5-1.7 .5-.7 .5 2 .5 .2 .5-0 .5-.9 .5 .1 .5-.3 .5-1 .5 .4 .5 .6 .5-.8 .5 1.6 .5-2.3 .5 .6 .5 1 .5-1.2 .5-.4 .5-.1 .5 .4 .4 1.5 .1-.8 .5 .1 .5-.7 .5 .9 .5-.5 .5-.7 .5 .4 .5 .4 .5 .6 .5-.8 .5 .4 .5 1 .5-1.9 .5-.3 .5 1.5 .5-.3 .5-.4 .5 .2 .5-.4 .5 .6 .5-.6 .5 .8 .5-1.3 .1 .2 .4 .6 .5-.3 .5 .8 .5-.5 .5-.3 .5 .6 .5-.5 .5-.6 .5 .3 .5 .3 .5 .3 .5 .5 .5 .6 .5-.1 .5 .9 .5-.3 .5-.9 .5 1.3 .5-.2 .5-1 .2 .5 .3 .6 .5-.5 .5 .7 .5-.3 .5 .3 .5-.5 .5 .6 .5-.4 .5 .9 .5-1.5 .5 1.5 .5 .8 .5-.3 .5-.3 .5 .5 .5-.8 .5 .2 .5 .4 .5 .2 .5 .8 .5-1.2 .5 1.3 .4-1.7 .1 .5 .5 .5 .5 .8 .5-1.2 .5-1 .5 1.6 .5-.3 .5-.7 .5-0 .5 .2 .5 .4 .5 .4 .5-1.5 .5 2.4 .5-1.6 .5-.2 .5 .6 .5-.4 .5 1.4 .5-.9 .5-1 .5-.1 .5-.1 .5 0 .5 .6 .5-.9 .5 1.4 .5-1.2 .2-0 .3 .7 .5-2 .5 .6 .5 1 .5-.5 .5-0 .5 .2 .5-.7 .5 .2 .5-.8 .5-.4 .5 2 .5-1.6 .5 .1 .5 1.4 .5-.3 .5-1.2 .5-0 .5 .2 .5-.7 .2 1 .3-.3 .5-.2 .5 .3 .5-.1 .5 .5 .5-.3 .5-2.4 .5 1.6 .5-1.4 .5-.4 .5 1.4 .5-1 .5 .2 0 .9 .5-1.1 .5-.1 .5 .8 .5 .7 .5-.4 .5-1.3 .5 .7 .5 .4 .5 1.5 .5-.5 .5 0 .5 .4 .5-.9 .5 .6 .5 .1 .5-.8 .5 .7 .3 .4 .2-1.1 .5 1.4 .5-0 .5 .2 .5-1.1 .5 .7 .5 .9 .5-.4 .5-.9 .5 .7 .5 .9 .5-1 .5 .4 .5 1.5 .5-1.6 .5-0 .5-.5 .5 .3 .5 1.4 .5-1 .5-.6 .5 .2 .5 .7 .5 .5 .5-.9 .5 1 .5-.8 .5 .6 .5 .2 .5 .1 .5-.7 .5 .2 .5 .5 .5-1.2 .5 1 .5 .2 .5 .4 .5-.7 0-.1 .5 .2 .5-.6 .5 .3 .5 .4 .5-.1 .5-.8 .5 .4 .5-1.2 .5 1.9 .5-.8 .5 .5 .5-.9 .5 .6 .5 .3 .5 .4 .5-1.6 .5 1.5 .5-.7 .5-.4 .5 .8 .5-.6 .5 0 .5-.3 .5 .6 .5-.1 .5-.2 .5-.5 .5 .2 .5 .6 .5 .6 .5-.9 .5 .9 .5-1 .5-.7 .5 1.1 .5-1.1 .5 .9 .3 .4 .2-.9 .5 .1 .5 1.7 .5-1.5 .5-0 .5 .2 .5-.6 .5-0 .5 .2 .5-1.8 .5 2.4 .5-1.7 .5-0 .5 1 .5-.4 .5-.9 .5 .9 .5-.9 .5 .2 .5-.6 .5 .5 .5 .7 .5-.2 .5 .1 .5 .4 .4-.6 .1-.4 .5 .3 .5 1.2 .5-1 .5 .2 .5-.2 .5 .3 .5 .1 .5-.2 .5-.1 .5-.3 .5 0 .5 .9 .5 .3 .5 .1 .5-.5 .5-.5 .5 1 .5 .1 .5-1.4 .5 1.6 .5-.1 .5 .7 .5-1.8 .5-.1 .4 1.3 .1-1.6 .5 .7 .5-.3 .5 0 .5-.6 .5 1.1 .5 .8 .5-.4 .5 0 .5-.5 .5 1.1 .5-.6 .5 .3 .5-1.7 .5 1.2 .5-1 .5 .9 .5-.1 .5-.9 .5 .8 .5 .6 .5-.4 .5 0 .5-1 .5 .1 .5-.3 .5 .8 .5 .7 .5-.5 .5-.3 .4-.7 .1 1 .5-.4 .5-1.1 .5 .1 .5 .9 .5-.3 .5 1.7 .5-1 .5-.7 .5 .4 .5 1.4 .5-1.6 .5 1.2 .5-.2 .5 .7 .5-.6 .5-.5 .5 .6 .5-.2 .5 .6 .5-.6 .5 1.4 .5-1.3 .5 .4 .5-.7 .5 .6 .5-0 .5 .1 .5 .5 .5-.9 .5-.1 .5 1.3 .5-.9 .2-.3 .3 1.2 .5-.2 .5-2.2 .5 1.5 .5 .8 .5 .1 .5-.9 .5 1.4 .5-1.5 .5 .4 .5 .2 .5-0 .5 .5 .5 .2 .5-.7 .5 1 .5-1.4 .5 .3 .5 1.3 .5-1 .5 .6 .5-.9 .5 .1 .5 .1 .5 .2 .5-.3 .5 .3 .5 .4 .5 .3 .5-.7 .5 .4 .5 .2 .5-1.3 .5-.3 .5 2.1 .5-.2 .5-.8 .5 .1 0-.8 .5-.3 .5 1.1 .5-1.1 .5 1.5 .5-1 .5 .6 .5 1.1 .5-.1 .5-1.4 .5 .9 .5-1.4 .5 .3 .5 .6 .5 .7 .5-1.3 .5 .7 .5-.3 .5-.8 .5 .7 .5 1 .5-1 .5 .4 .5 .2 .5-1 .5 1.2 .5 .2 .5 0 .5-.1 .5-1.2 .5-.1 .5-.1 .5-.1 .5 0 .5 1.2 .5 .3 .5-1.4 .5 .9 .5-1.3 .5 .5 0-.4 .5-.5 .5 1 .5-.1 .5-.5 .5-.3 .5-.6 .5 .4 .5-.5 .5 .4 .5-1.1 .4 .9 .1 .2 .5 .5 .5-.1 .5-.6 .5-.5 .5-.8 .5 1.2 .5 1 .5 .2 .5-2.7 .5 1.2 .5 .3 .5-.4 .5 .8 .5-0 .5-.3 .5 .3 .5-.9 .5 .4 .5 .1 .5 1.3 .5-1.6 .5 1 .5 .7 .5-.5 .5 .7 .5-.9 .5 .8 .5 .3 .5 1 .5-.9 .5 .5 .5-.8 .5 .1 .5 1.1 .5-.6 .5 .6 .5-.4 .5 1 .5 .3 .5-2 .5 1.8 .5-.8 .5 .1 .5-.3 .5 .6 .5-1.1 .5 .4 .5 0 .5 .8 .5 .5 .5-.1 .5-.1 .5-.6 .5-.7 .5 1.5 .5-.1 .5 .2 .5 .8 .5-1 .5 .1 .5-1.3 .5 1.9 .5-.4 .5-.4 .5 .8 .5-.8 .5 .3 .5 1.7 .5-.8 .5 .2 .5-.1 .5-0 .5-.3 .5 1.4 .5-1.5 .5 .5 .5-.6 .5-0 .5-1.4 .5 .4 0 2.2 .5-.1 .5-1.3 .5 .2 .5 .3 .5-1.1 .5 1.6 .5-2 .5 0 .5-1.5 .5 2.6 .5-1.1 .5 .8 .5-1.9 .5 .7 .5-.3 .5-0 .5 1.1 .5 0 .5-.6 .5-1.2 0 .9 .5 .3 .5-.5 .5-0 .5-0 .5-.9 .5 .8 .5 .9 .5-1.6 .5 .8 .5 .5 .5-1.3 .5 .8 .5-.9 .5 .8 .5-.4 .5 .4 .5 .3 .5 .3 .5 .1 .5-1.3 0 2.6 .5-1.2 .5-.4 .5 .4 .5 .7 .5-.7 .5 .5 .5 .1 .5 .8 .5-.7 .5 1 .5 0 .5-.1 .5 1 .5-.6 .5-.6 .5 1.2 .5 0 .5 .1 .5 .3 .5 1.6 .5-1.2 .5 .3 .5-.3 .5 1.2 .5-.8 .5-.3 .5-.1 .5 1.3 .5 .2 .5-1.3 .5 .7 .5 .9 .5 .4 .5-1.4 .5 .7 .1 .8 .4-.8 .5 .1 .5 0 .5-.4 .5 .9 .5 .3 .5-1 .5 1 .5 .7 .5-.5 .5 .5 .5-.9 .5 1.3 .5-1.3 .5 1.7 .5-1.4 .5-.1 .5-0 .5 .3 .5 0 .5-0 .5 .3 .5 .6 .5 .2 .5-.7 .5 1 .5-1.3 .5 0 .5 0 .5 1.2 .5-1.3 .5 .1 .5 1.7 .5 .3 .5-.2 .5-1.7 .5 1 .5 .6 .5-.4 .5-1.1 .5 .9 .5-.8 .5 .3 .5 2.1 .5-.8 .5-1.3 .5 0 .5 1.3 .5-.7 .5 .8 .5-.7 .5 .3 .5 .3 .5-.7 .5-.5 .5 .5 .5 .3 .5 .3 .5 .2 .5 0 .5 .4 .5-.8 .5 1.4 .5 .4 .5-.9 .5-.1 .5 .7 .5-.3 .5-.3 .5-.1 .5-.4 .5-.2 .5 1.2 .5 .3 .5-1.3 .1 .6 .4 .2 .5-.3 .5-.2 .5 .3 .5-.9 .5 1.2 .5-.1 .5 1.5 .5-.7 .5-.7 .5 .2 .5 1.1 .5-0 .5-.8 .5-.2 .5-.8 .5 .8 .5 .1 .5-.3 .5 1.5 .5-2.1 .5 1.1 .5 .4 .5 0 .5 .8 .5-1.8 .5 .4 .5 .6 .5 0 .5-.3 .5-.2 .5 1.2 .5-1.3 .5 .4 .5 1.2 .5 .3 .5-.5 .5-1 .5-0 .5 0 .5-.1 .5 .5 .5 1 .5-.6 .5-.5 .5-0 .5-.2 .5 1.5 .5-1.9 .5 1.4 .5-1 .5 .2 .5-.2 .5 1.5 .5-.6 .5 1.8 .5-2.3 .5 0 .5 1.1 .5 0 .5-.5 .5-1 .5 2.1 .5-.5 .5-0 .5-.6 .5 .8 .5-.7 .5 .4 .5-.1 .5 .9 .5-1 .5 .1 .5 .9 .5-.5 .5-.1 .5-.1 .5 .8 .5-1 .5 .7 .5 1 .5-.9 .5-.7 .5-.2 .5 .8 .5-.8 .5-.1 .5 .5 .5-.2 .5 1.2 .5-1.3 .5 1.8 .5-1.3 .5 .5 .5 .4 .5-.2 .5 .3 .5-1 .5-.7 .5 1.3 .2-.9 .3 .7 .5 .9 .5-.6 .5-.2 .5-.3 .5 .5 .5 .1 .5-.8 .5 1.2 .5-.8 .5 .8 .5-.3 .5 .9 .5-.1 .5-.4 .5-.1 .5 .4 .5 .6 .5-.2 .5-.5 .5 .2 .5 .8 .5-1.9 .5 1.3 .5-.8 .5 1.4 .5-1.1 .5 .3 .5-.5 .5 .7 .5 .5 .5 .5 .5-1.7 .5 .6 .5 2.6 .5-1.7 .5-.5 .5 .3 .5-1.8 .5 2.5 .5-.8 .5-.9 .5 1.6 .5-1 .5-.2 .5 .9 .5 0 .5-.5 .5 .3 .5-.7 .5-0 .5 1.4 .5 .3 .5-.5 .5-0 .5-.4 .5 .2 .5-.5 .5 1.7 .5-1.4 .5 .7 .5-.3 .5-.7 .5 2 .5-1.4 .5-.2 .5 .6 .5-.6 .5 .6 .5-.5 .5 .9 .5-.2 .5-.8 .5 1.4 .5-.5 .5-.7 .5 .9 .5 .1 .5 .9 .5-1.6 .5 1.1 .5-.6 .5 .5 .5-.5 .5 .2 .5 .3 .5-.9 .5-.5 .5 1.2 .5-.2 .5 .3 .5 .4 .5-.5 .5 .9 .5-.7 .5 .1 .5 .5 .5-.1 .5-.4 .5 .2 .3-.5 .2 .1 .5 .4 .5 .5 .5-.7 .5 .8 .5 .6 .5 .2 .5-1.2 .5 .6 .5-.2 .5 .1 .5 .1 .5-.2 .5 .3 .5-.4 .5-.2 .5 .3 .5 .2 .5 .5 .5-.5 .5 .3 .5 .4 .5-1.3 .5 .4 .5 .5 .5-.3 .5-.5 .5 1.2 .5-.6 .5-.5 .5 1.7 .5-1.8 .5 .7 .5-.3 .5 .5 .5 .3 .5-.8 .5 .5 .5-0 .5-.5 .5 1.3 .5-.6 .5-.2 .5-.2 .5 .2 .5 .3 .5-.3 .5 1 .5-2.1 .5 .2 .5 1.1 .5-.9 .5 1.1 .5-.3 .5 .7 .5-.1 .5 .6 .5-.2 .5 .2 .5-.4 .5 .3 .5-.3 .5-.6 .5-.4 .5 .1 .5 1 .5-1.7 .5 1.5 .5-.5 .5 .8 .5-.3 .5-.5 .5 .4 .5-1.3 .5 1.5 .4 .1 .1-1.3 .5 1.5 .5-.5 .5 .1 .5-.9 .5 1.2 .5-.1 .5-.3 .5-.6 .5 1 .5 .3 .5-.5 .5 .3 .5-.9 .5 .4 .5 .1 .5-.1 .5 1.5 .5-1.4 .5-.6 .5 .8 .5-1.1 .5 .8 .5 .2 .5-.7 .5 .1 .5-.4 .5 .6 .5-.5 .5 1.3 .5-.6 .5-.5 .5-.8 .5 2 .5-.4 .5-.6 .5-.1 .5-.1 .5-.4 .5 1.3 .4-1 .1-.9 .5 .4 .5-1.2 .5 1.8 .5-.1 .5 .5 .5 .1 .5-1.8 .5 .5 .5 .2 .5-.3 .5-.9 .5 .6 .5-.3 .5 .3 .5-.9 .5-.3 .5-.3 .5 0 .5-.3 .5 .2 .5 .4 .5-0 .2 .5 .3-.1 .5-.3 .5-.9 .5 1.2 .5 .5 .5-1.2 .5 .3 .5 .4 .5 .2 .5 .8 .5-.1 .5 1 .5-.6 .5 .9 .5 0 .5-0 .5 1.3 .5-.4 0 .3 .5-.4 .5 .7 .5 .1 .5-.4 .5-.8 .5 1.6 .5 0 .5-.2 .5 .1 .5 .1 .5 .1 .5-.6 .5 .6 .5 .2 .5-.4 .5-.2 .5 1.7 .2-.7 .3-.5 .5-.1 .5-1.2 .5 .8 .5 .7 .5 .9 .5-1.9 .5 .8 .5 1.5 .5-.6 .5-.2 .5 .5 .5-.7 .5-0 .5 .5 .5 .1 .5-1 .5 1.5 .5-1.9 .5 .6 .5 2.2 .5-2 .5 .7 .5-1 .5 .5 .5-.3 .5 .3 .5 .6 .5 .6 .5-.5 .5 .4 .5-1.1 .5 1.1 .5-.5 .5 .5 .5-1 .5 .1 .5 1 .5-.5 .5-.2 .5-.5 .5 .4 .5 .3 .5 .2 .5-.7 .5 .1 .5 .5 .5-.9 .5 1.2 .5-.5 .5-.1 .5-1.3 .5 .5 .5 .3 0 .3 .5-.3 .5 .9 .5-.1 .5-.3 .5-.9 .5 1.9 .5-.9 .5 .5 .5-.7 .5 .4 .5 .4 .5-.2 .5 .4 .5-.6 .5 1.2 .5-2.2 .5 .8 .5 .9 .5-.7 .5-.1 .5-.7 .5 1.7 .5-1.7 .5 1.4 .5-.2 .5 .4 .5 .3 .5-1.2 .5-0 .5 .3 .5-.8 .5 1.5 .5-.7 .5 .3 .5-.7 .5 .7 .5-.4 .5 .4 .5-.6 .5 1.2 .5-.9 .5-1.1 .5 1.8 .5-.5 .5-.3 .5 1.9 .5-1.4 .5-.7 .5 .4 .5 .6 .5-.3 .5 .8 .5-.1 .5-1 .5 .5 .5 .3 .5-.5 .5-0 .5 .7 .5-.2 .5-1 .5 .5 .5 .1 .5 .1 .5-.3 .5 1.2 .5-1.3 .5-0 .5 .7 .5-1.4 .5 .7 .5 1 .5-1.1 .5 .3 .5 1.1 .5-.3 .5-.2 .5 .1 .5-.5 .5 .5 .5-.2 .5 1.5 .5-1.1 .5-.5 .5 .2 .5 .1 .5-.8 .5 .3 .5 1.4 .5-1.7 .5 .5 .5 .9 .5 .3 .5-1.4 .5 1.4 .5-1 .5 1.2 .5-.7 .5-.4 .5 .6 .5-.1 .5-.7 .5 1.7 .5-1.4 .5 .8 .5-.9 .5-.7 .5 .4 .5 .6 .5 .4 .5 .7 .5-1 .5-.2 .5-.5 .5 .7 .5 .2 .5-1.4 .5 2 .5-.1 .5 .7 .5-1.8 .5 .6 .5-0 .5-.8 .5 .3 .5-0 .5 .8 .5-0 0 .5 .5-1 .5-.5 .5 1 .5 0 .5 .2 .5 .4 .5-1.1 .5 .8 .5-1 .5 .7 .5 .3 .5-.4 .5 .2 .5-.9 .5 .4 .5 .5 .5-.7 .5 .2 .5 1.9 .5-1.3 .5-.6 .5-.1 .5 1.4 .5-2.3 .5 1.4 .5 .5 .5-.6 .5 .6 .5-.9 .5 .6 .5 .1 .5-0 .5 .1 .5-.1 .5 .7 .5-.8 .5-.2 .5 .2 .5 0 .5-.6 .5-.2 .5 .3 .5 .9 .5-.5 .5 .2 .5 1.8 .5-.9 .5-.8 .5-.2 .5 1.2 .5-1.2 .5 1.1 .5-.3 .5 .5 .5-1.2 .5 .9 .5-1.5 .5 1 .5 .7 .5-.2 .5-1.4 .5 1.4 .5-.1 .5-.3 .5-.3 .5 .2 .5-.1 .5 .9 .5-.3 .5 .4 .5-.2 .5-1.1 .5 .8 .5 1.1 .5-1.8 .5 .8 .5-.5 .5-.1 .5 .6 .5 .5 .5-.1 .5-.2 .5 .3 .5-1.4 .5 1.4 .5-.2 .5-.3 .5 .1 .5-.5 .5 1.2 .5-1.1 .5-.4 .5 .9 .5-.3 .5 .3 .5 .9 .5-1 .5 .2 .5 1.2 .5-2 .5 1 .5 .5 .5 .2 .5 .4 .5-1.6 .5 .7 .5-.4 .5-.2 .5-.1 .5-.4 .5 1 .5 .3 .5-1 .5 1 .5-.7 .5-.3 .5-.9 .5 2.1 .5-.2 .5-.5 .5-.1 .5-.5 .5 1.1 .5-.4 .5 .4 .5-.2 .5-.9 .5-.1 0 1.2 .5-1.2 .5 1.1 .5 .4 .5-1.3 .5 1.2 .5-.4 .5 .3 .5-.7 .5 .4 .5 .3 .5 .8 .5-.6 .5-.2 .5-1 .5 1 .5-.6 .5 .4 .5 .2 .5 .4 .5-.2 .5-.3 .5-.1 .5 .8 .5-1.2 .5 .5 .5 .8 .5-.9 .5 .6 .5 0 .5 .6 .5-.4 .5-1.6 .5 .9 .5 .2 .5 .3 .5-.2 .5 .8 .5-.4 .5-1.3 .5 .3 .5-.8 .5 2.2 .5-1.1 .5-0 .5-.8 .5 .6 .5 .5 .5-.4 .5-0 .5-.2 .5 1.5 .5-1.4 .5-.5 .5 .5 .5 .1 .5 .2 .5-.1 .5-.5 .5 .5 .5 .3 .5-1 .5 1.9 .5-.1 .5-2 .5 .8 .5 .8 .5 .2 .5 .3 .5-2.1 .5 .4 .5 .4 .5 .6 .5-.9 .5 .8 .5 .1 .5 .1 .5-1.1 .5 .8 .5-0 .5-.3 .5 1 .5-.9 .5 1 .5-1.2 .5 1.3 .5 0 .5-1.4 .5 .7 .5-0 .5-.7 .5 1 .5-.1 .5-.9 .5 .6 .5 .5 .5-.6 .5-.3 .5 1.3 .5-1.5 .5 .8 .5 .4 .5-.2 .5-1.4 .5 .8 .5 .1 .5 0 .5 .5 .5-.1 .5-.2 .5 .1 .5 .4 .5 .2 .5-1.8 .5 2.3 .5-1.5 .5 .7 .5-1.3 .5 .6 .5-.4 .5 1.3 .5-.1 .5-.5 .5-.1 .5 .4 .5-.8 .5 .2 .5-.1 .5 .9 .5-.4 .5-.7 .5 .9 .5 .1 .5 .5 .5-1.1 .5 .5 .5 1 .5-1.4 .5 0 .5 .5 .5-.5 .5 .2 .5-.2 .5-.2 .5 1 .5-.7 .5-.4 .5 .4 .5 .1 .5 .3 .5 .3 .5 .5 .5-1.7 .5 .6 .5-.9 .5 1.2 .5 .1 .5-.6 .5-.2 .5-0 .5-.3 .5 1.2 .5 .7 .5-1.7 .5 1.6 .5-1 .5-.7 .5 1.1 .5 .1 .5-.2 .5-.3 .4 1.1 .1-1.1 .5 .5 .5 0 .5-.9 .5-.5 .5 .1 .5 .7 .5 .5 .5-1.2 .5 .6 .5 1.3 .5-1.9 .5 1.3 .5-.1 .5 .3 .5-1.3 .5 1 .5-.9 .5 1.5 .5-1.2 .5 .7 .5-.7 .5 .6 .5-1 .5 1.1 .5 .2 .5-.4 .5 1 .5-.7 .5 .2 .5-.1 .5 .8 .5-1.5 .5 .3 .5 0 .5 .5 .5-.2 .5 .3 .5-.3 .5-.4 .5 .3 .5 .3 .5-1.6 .5 2.1 .5-1.1 .5 .2 .5 .3 .5-.3 .5-.6 .5 .7 .5 .9 .5-.2 .5 .1 .5-1 .5 .3 .5 .7 .5 .2 .5-.8 .5-.5 .5-.6 .5 2 .5-1.7 .5 1.1 .5 .3 .5 1.4 .5-1.8 .5-.1 .5 .3 .5 .1 .5 .4 .5-.3 .5-.8 .5-.8 .5 1.4 .5-.5 .5 1.2 .5-1.6 .5 .9 .5-.5 .5-.1 .5 1.5 .5-.9 .5-.2 .5 .6 .5-.9 .5 .3 .5-.2 .5 1.5 .5-.9 .5 .2 .5 .3 .5-.8 .5 .1 .5-.9 .5 1.3 .5-.2 .5-.3 .5 .9 .5-1.7 .5 1.3 .5-1 .5 .1 .5 .6 .5 .9 .5-1.5 .5 .1 .5-.1 .5 1.9 .5-.9 .5-0 .5 1 .5-1.1 .5-1.3 .5 .9 .5-.4 .5 1.9 .5-2 .5 1 .5-.4 .5 0 .5 .3 .5-.1 .5-.3 .5-.3 .5 .3 .5-.2 .5 .1 .5 .6 .5-.1 .5 .3 .5-.4 .5 1.3 .5-1.5 .5-.2 .5 1.2 .5-1 .5 .5 .5 .5 .5-.6 .5-.2 .5 .8 .5-.3 .5-.5 .5-.4 .5 .5 .5-.8 .5 .5 .5-.1 .5 .8 .5 .3 .5-.8 .5 .1 .5-.4 .5-.1 .5 .5 .5 .6 .5-.1 .5 .1 .5-.5 .5-1.4 .5 2.1 .5 .3 .5-.3 .5 0 .5 .2 .5 .9 .5-1.4 .5 .7 .5-.4 .5-.1 .5-.4 .2-.1 .3-.5 .5 1 .5-.5 .5-.5 .5 .2 .5-.2 .5 1.6 .5-1 .5 .2 .5-.8 .5 .1 .5 1.2 .5-.7 .5 .2 .5 1 .5 .1 .5-.8 .5-.1 .5-.1 .5-.3 .5 1.3 .5-1.8 .5 .6 .5-1 .5 .3 .5 1 .5 0 .5-0 .5-.4 .5-.2 .5 .1 .5 .1 .5 .8 .5 .2 .5-.5 .5-.6 .5-.2 .5 .7 .5-.3 .5-.9 .5 1.8 .5-.8 .5-.1 .5-.4 .5 0 .5 1.1 .5-1.1 .5 .6 .5 .3 .5 .7 .5-.7 .5-.3 .5-.3 .5 .8 .5 .1 .5-.9 .5 .6 .5-.4 .5-.8 .5 .3 .5 1.1 .5 .3 .5-.4 .5-.5 .5-.3 .5 .7 .5-.1 .5-1.1 .5 1.3 .5-.8 .5 .8 .5-0 .5 .1 .5 .2 .5-.2 .5-1 .5-0 .5 1.2 .5-.4 .5-1.1 .5-.3 .5 1.7 .5 .8 .5-.8 .5-.6 .5 .2 .5-1.7 .5 1 .5 1.2 .5-.1 .5-1.7 .5 1.9 .5-.4 .5 .3 .5-.7 .5 .1 .5-.6 .5 .8 .5 .3 .5-1 .5 .7 .5-.5 .5 .9 .5 0 .5-1.9 .5 1.6 .5 .3 .5-.9 .5 .2 .5 .1 .5-.6 .5 .6 .5 1 .5-.7 .5 .6 .5-.3 .5 .2 .5-.7 .5 .4 .5 .7 .5-.3 .5-.6 .5-.6 .5-.2 .5 .7 .5 .1 .5-1.3 .5 1.2 .5 .1 .5-0 .5-.5 .5 1.6 .5-.8 .5-1.3 .5 .4 .5 .8 .5-.1 .5-.2 .5-.1 .5-.1 .5-.2 .5-.3 .5 .9 .5-1.9 .5 1.2 .5 1.1 .5-1.2 .5-.2 .5 1.8 .4-.5 .1-.7 .5-.3 .5 .2 .5-0 .5 0 .5-.3 .5 .8 .5-.7 .5-.7 .5 .3 .5 .8 .5-.6 .5-.9 .5 2.3 .5-.6 .5-.5 .5-0 .5 .5 .5 .5 .5-1.1 .5 .6 .5-.6 .5 .5 .5-.8 .5-.4 .5 1.1 .5-.1 .5 .5 .5-.8 .5 1.1 .5-.7 .5 .8 .5-1 .5 1 .5-.9 .5 .1 .5 .5 .5-1.6 .5 .4 .5 1.7 .5-1.9 .5 .6 .5 .6 .5 .5 .5-1.1 .5 .3 .5-.7 .5 .4 .5 .8 .5-.4 .5-.2 .5 .3 .5-.2 .5 .1 .5-.3 .5-.4 .5 .9 .5-1 .5 1.2 .5 .7 .5-.4 .5 .5 .5-1.9 .5 .7 .5-.6 .5 0 .5-.5 .5 .3 .5 1.2 .5-.1 .5 .3 .5-.1 .5-.2 .5-.9 .5 .4 .5 .5 .5 .3 .5-.9 .5-.1 .5 0 .5 1.2 .5-.6 .5-.5 .5-.3 .5 .7 .5-1.2 .5 .9 .5-.2 .5-0 .5 .4 .5 .1 .5 1.5 .5-1.7 .5 .4 .5-.9 .5-.5 .5 1.6 .5 .5 .5-1.7 .5 .6 .5 .6 .5-.6 .5-1.4 .5 2 .5-.7 .5 .5 .5-1 .5 1.1 .5 .1 .5-1 .5 .7 .5-.7 .5 .1 .5-.2 .5 .3 .5-.2 .5 1.1 .5-.8 .5-.5 .5 1.4 .5-.5 .5 .3 .5-.6 .5 .4 .5-.5 .5-.4 .5 .6 .5-0 .5-0 .5 .4 .5-1.5 .5 1.2 .5-.6 .5 .2 0 .5 .5-.3 .5-.4 .5 .8 .5-.4 .5 .5 .5 .2 .5-.9 .5-.4 .5 .7 .5 .4 .5-.3 .5-.9 .5-.3 .5 .5 .5-0 .5 .9 .5-.4 .5 .5 .5-.5 .5 1 .5-1 .5 .3 .5-.5 .5 .5 .5 .3 .5-.2 .5 .3 .5-1.1 .5 .6 .5 .8 .5-.9 .5-.2 .5-.1 .5-.1 .5 .3 .5 .8 .5-.6 .5-.3 .5-.4 .5-.2 .5 2 .5-1.6 .5 .3 .5-.3 .5 .3 .5-.3 .5 .3 .5 .7 .5-1.2 .5 .7 .5-.4 .5 .5 .5-.8 .5 .6 .5-.8 .5-.5 .5 .3 .5 .2 .5-.1 .5 .4 .5 .8 .5-1.3 .5 .9 .5-.2 .5-.5 .5-.1 .5 .8 .5-0 .5-.5 .5 .1 .5 .1 .5-.8 .5 .8 .5 .1 .5 .8 .5-1.7 .5 .2 .5 .5 .5-.3 .5 0 .5 .3 0-.2 .5 .1 .5 .2 .5-1.2 .5 1.1 .5-1.8 .5 2.1 .5-.6 .5-1.1 .5 .8 .5-.9 .5 .2 .5 0 .5-.4 .5-.3 .5 .3 .5-.5 .5-.2 .1-.3 .4-.5 .5 2 .5-.3 .5-1.1 .5 1.1 .5 .1 .5-1.1 .5 .9 .5 .7 .5 1.2 .5-.1 .5 .3 .5-.4 .5 .6 .5-1.1 .5 1.1 .5 .1 .1-1.1 .4 .9 .5 .7 .5 .2 .5-.2 .5-1.2 .5 .4 .5-.2 .5 1 .5-1.2 .5-0 .5-.3 .5 1 .5 .1 .5-.5 .5-.1 .5 .4 .5 .8 .5-1.5 .5 .8 .5 .1 .5 .1 .5 .6 .5-.3 .5-.3 .5 .7 .5-.1 .5-.5 .5-0 .5-.8 .5 .7 .5-.4 .5-.2 .5 .5 .5-.8 .5 .4 .5 .3 .5 .4 .5-.3 .5 .4 .5 .7 .5-.5 .5-1 .5-.4 .5 .5 .5 0 .5-.6 .5 .2 .5-0 .5 .6 .5 1.1 .5 .2 .5-1.5 .5 .3 .5-.5 .5-.1 .5 .8 .5 .1 .5-.4 .5 .7 .5-.5 .5 .8 .5-.9 .5 .8 .5-.6 .5 .2 .5 .3 .5-1.1 .5 .3 .5 .4 .5-.1 .5 .3 .5-.6 .5-.3 .5 .7 .5 .2 .5-.6 .5 1.1 .5-.2 .5 .1 .5-.1 .5-.9 .5 1.7 .5-1.6 .5 .6 .5 .2 .5-.2 .5-0 .5-.6 .5 .3 .5 .2 .5 .7 .5-1 .5 .7 .5-.1 .5-.2 .5-.3 .5 .2 .5-.9 .2 1 .3 .2 .5-.5 .5 .6 .5-.1 .5-.6 .5 .9 .5-.7 .5 1.6 .5-1.9 .5 .1 .5 .1 .5 .5 .5 .5 .5-.5 .5-.3 .5 1.3 .5-.5 .5-.7 .5 .1 .5-.8 .5 .9 .5 .9 .5-1.6 .5-.1 .5 .8 .5-1.3 .5 2.1 .5-1.6 .5 .4 .5 .3 .5 .8 .5-.5 .5-1.2 .5 .1 .5 1 .5-1.2 .5 1 .5-.3 .5 .9 .5 .2 .5-2 .5 1.6 .5 .1 .5-.8 .5 .1 .5-.3 .5 .5 .5 .4 .5 .5 .5 .1 .5-1 .5-.3 .5 1.1 .5-2.1 .5 .7 .5 1.2 .5 .9 .5-1.7 .5 .5 .5-.7 .5 .6 .5 0 .5-.4 .5 .7 .5-.3 .5 .4 .5-.4 .5-.6 .5 .8 .5 .4 .5-.9 .5 1.2 .5-.5 .5-.5 .5 .3 .5-.3 .5-.3 .5 1.1 .5-0 .5-.8 .5 .2 .5-0 .5 .5 .5 .4 .5-1.2 .5 .6 .5-.2 .5 .3 .5 .5 .5-1.3 .5-.6 .5 1 .5-.8 .5 1.9 .5-1.3 .5 .2 .5 .3 .5-0 .5-.4 .5 .3 .5 .5 .5-.7 .5 1.2 .5-.8 .5-1.5 .5 1.8 .5-1.5 .5 1.2 .5 1 .5-.6 .5-1.2 .5 .1 .5 .5 .5 .8 .5-1.2 .5 1 .5-.4 .5-.3 .5 0 .5 1 .5-1.7 .5 .2 .5 1.1 .5 .1 .5-1.3 .5 .2 .5-.1 .5 .9 .2-.7 .3 1.2 .5-.4 .5-.3 .5-0 .5 .2 .5 .1 .5-.5 .5 .1 .5 .3 .5-.5 .5 .6 .5-.7 .5-.4 .5 .5 .5 .8 .5-.2 .5-1.7 .5 1 .5-.5 .5 .1 .5-.1 .5 0 .5-.2 .5 .1 .5 .2 .5-.8 .5-.1 .5 .1 .5-.1 .5 .9 .5-.9 .5 .5 .5 0 .5 .4 .5-.4 .5 .5 .5-.6 .5 .1 .5 .3 .5-1.3 .5 1 .5 .7 .5-.8 0-.2 .5 1.2 .5-1 .5 .7 .5-2 .5 1.4 .5-.3 .5 .6 .5 .5 .5-.6 .5 0 .5-1.3 .5 2.1 .5 .4 .5-.6 .5-.3 .5 .6 .5 .5 .5-.2 .5 .9 .5-1.4 .5-.3 .5 1 .5 .5 .5-.9 .5 .3 .3-.3 .2-.4 .5 .3 .5-.7 .5 1.3 .5 .2 .5 .2 .5-.9 .5 .1 .5-.5 .5 .1 .5 1.3 .5 1.1 .5-2.1 .5 .3 .5 .8 .5-.9 .5 .7 .5-.4 .5-0 .5 .7 .5-.7 .5-.5 .5 1.2 .5-.5 .5-.3 .5-.1 .5 .8 .5-.7 .5 .4 .5 .5 .5-.6 .5 .7 .5-1.3 .5 1.1 .5-.1 .5 .8 .5-1 .5 .5 .5-.6 .5-.5 .5 .1 .5 .1 .5 .9 .5-.9 .5 .5 .5 .5 .5 .1 .5-.1 .5 .3 .5-1.4 .5 .3 .5 .5 .5 .4 .5-.3 .5-.7 .5 .3 .5-.8 .5 1.4 .5-1.4 .5 1.1 .5 .5 .5-.1 .5-1.4 .5 1 .5-.3 .5 0 .5 1.1 .5-.7 .5-1 .5 .2 .5 1 .5-.2 .5-.8 .5-.3 .5 .7 .5 0 .5 .7 .5-.8 .5 .8 .5 .3 .5-1.6 .5 .6 .5 1.2 .5-1.1 .5 .2 .5 .6 .5-1 .5 .2 .5-.7 .5 1.3 .5-.6 .5 .1 .5-1.2 .5 1.9 .5-.1 .5-.8 .5 1.1 .5-2 .5 1.3 .5-.9 .5 2.4 .5-2.9 .5 .8 0 .2 .5 .9 .5 0 .5-.2 .5-.3 .5 1.3 .5-1.6 .5 .6 .5 .8 .5-1.6 .5 .2 .5 1.1 .5-.4 .5-1 .5 .8 .5 1.1 .5-1.2 .5 .6 .5-.4 .5-.5 .5 1.3 .5-.3 .5 .1 .5-.7 .5 .1 .5 .1 .5 .1 .5-.4 .5-.1 .5 1 .5-1.3 .5 .4 .5 0 .5-0 .5-.4 .5 .2 .5 .9 .5-.6 .5-.2 .5 1.3 .5-1.6 .5 1.3 .5-.4 .5-.9 .5 .5 .5 0 .5 1 .5-.2 .5-.7 .5-.5 .5-.2 .5 .8 .5-.6 .5 .6 .5 0 .5 .4 .5 .3 .5-.5 .5 .2 .5-.3 .5 .7 .5-.1 .5 .4 .5-.1 .5-1.2 .5-.4 .5 1.2 .5 .3 .5-1 .5 1.2 .5-.8 .5-.1 .5 .3 .5-1 .5-.1 .5 .7 .5-.4 .5 .6 .5 0 .5-1.4 .5 1 .5 .8 .5-1.6 .5 1.1 .5-.5 .5-.4 .5 1.7 .5 0 .5-.8 .5-0 .5 1 .5-.1 .5-.6 .5 .4 .5-.4 .5-.2 .5 .5 .5-.5 .5 .5 .5-.4 .5-.1 .5-.1 .5 .6 .5 .3 .5-.3 .5-.7 .5 .8 .5-.8 .5-.1 .5 .5 .5 .6 .5-.1 .5-.1 .5 .5 .5-.3 .5-.6 .5 .6 .5-.6 .5 .4 .5 .1 .5-.3 .5-.8 .5 .8 .5-.1 .5 .1 .5-.2 .5-.3 .5-.3 .5 1.3 .5 0 .5-.2 .5-.2 .5 1.1 .5-.7 .5-.3 .5 .4 .5-.5 .5 .5 .5-.3 .5 .2 .5-.3 .5-.2 .5 .5 .5 .3 .5-1.1 .5 .3 .5-.3 .5 1 .5-.5 .5 .6 .5-.9 .5 .9 .5-.8 .5 .1 .5 .5 .5-.5 .5-.1 .5 .8 .5-.5 .5 .7 .5 .8 .5-1.7 .5 .1 .5-.6 .5 .2 .5 .9 .5-.1 .5-0 .5 .1 .5-.7 .5-.5" fill="none" stroke="#008000" stroke-width="6.7" stroke-linejoin="round" stroke-linecap="butt" clip-path="url(#clipLo)" />
<path d="M379.5 1112l.5 .5 .5 2.1 .5-1.2 .5-2.7 .5 1.8 .5-.7 .5 .8 .5-2 .5 2.1 .5-.1 .5 1.5 .5-1.4 .5 .2 .5-2.4 .5 4.3 .5-4.8 .5 3.5 .5-1.7 .5-.7 .5 .3 .5-0 .5 1.2 .5-.6 .5 1.8 .5-3.8 .5 2.1 0-1 .5 1.9 .5-3.3 .5 2 .5 .7 .5-1.9 .5 2.8 .5-.9 .5 1 .5-0 .5-2.2 .5 .3 .5 .7 .5 1.1 .5 .2 .5-1.8 .5 .2 .5-.2 .5 .2 .5 .5 .5 .1 .5 2.6 .5-3 .5 .3 .5 .9 .5-1.7 0 .7 .5 .4 .5 .9 .5-2.4 .5 3 .5-2 .5 .5 .5 .7 .5-.3 .5 .4 .5-1.1 .5-.3 .5 .2 .5-1.6 .5 2.5 .5-2.4 .5-.7 .5 3.7 .5-2.6 .5-1.3 .5 3.4 .5-2.6 .5 1.6 .5-2.3 .5 .6 .5-1.7 .1-.3 .4 1.1 .5 1 .5 1 .5 1.9 .5-4.1 .5 2.4 .5-1.9 .5 .5 .5-1.6 .5-0 .5 .8 .5-.5 .5 1.3 .5-.8 .5 2.2 .5-1.3 .5 0 .5 1.2 .5-.8 .5-.7 .5-0 .5-.1 .5 1.4 .5-.4 .5-.5 .1 .5 .4-1.6 .5 1.2 .5-2.3 .5 3.2 .5-1.5 .5 0 .5 .5 .5-.8 .5-.3 .5 1.6 .5-1.3 .5-1.2 .5 1.5 .5-2.5 .5 3.9 .5-2.2 .5 .2 .5 2.5 .5-.2 .5-2.4 .5 .5 .5 .5 .5 .6 .5-2.2 .5 .3 .1 1.2 .4-1.2 .5 .5 .5-.2 .5-2.2 .5 .2 .5-2.2 .5 2.7 .5 1.8 .5-3 .5 2.6 .5-.4 .5-1.3 .5-.1 .5-.1 .5-1.2 .5 .5 .5 .2 .5 .6 .5 .1 .5-2 .5 1.7 .5-2 .5 .6 .5 .5 .5-.6 .1-.2 .4 .4 .5-1.2 .5-.2 .5 .4 .5 1.2 .5-1.4 .5 2.3 .5-2.2 .5-4 .5 2.9 .5 2.4 .5-2.2 .5-.6 .5-.7 .5 2.5 .5-.6 .5-.5 .5-.5 .5 1.1 .5-.9 .5-2.7 .5 2.3 .5-.8 .5-.5 .5 .9 .2-1 .3-3.7 .5 5.4 .5-.8 .5-1.6 .5-.5 .5 .6 .5-2 .5 1.8 .5-.8 .5-.3 .5-.8 .5 .1 .5 2.1 .5 .1 .5-1.1 .5-.9 .5-1.2 .5 1.9 .5 1 .5-4.2 .5 3.3 .5-4.4 .5 2.2 .5 .7 .5-2.3 .2-.3 .3 2.1 .5 .7 .5-1.9 .5 2.2 .5-2.9 .5 3.1 .5-2.3 .5-0 .5 .3 .5-.5 .5 1.7 .5 .3 .5-2.3 .5-1 .5-1.5 .5 .3 .5 .8 .5-.3 .5-.1 .5-.1 .5 .4 .5-2.5 .5 .2 .5 2.6 .5-.6 .2-1.8 .3 2.2 .5-2.7 .5 .3 .5-2.3 .5 3.3 .5-1.3 .5 1.2 .5-.7 .5-1 .5-.2 .5 1.2 .5-2.1 .5-.2 .5 .1 .5 .7 .5-0 .5 1.1 .5-2.9 .5 1.5 .5-2.8 .5 1.5 .5-.9 .5 2 .5-1.8 .5-1.6 .2 1.3 .3-.5 .5-1.1 .5-.2 .5-1.1 .5 4.8 .5-3.8 .5 .9 .5-3.1 .5-.1 .5 1 .5-.2 .5 1.1 .5-2.7 .5 1.9 .5 1.1 .5-3.6 .5 2.3 .5-2.8 .5 1.6 .5-.2 .5 1.7 .5-3.6 .5 1 .5 1 .5-3.4 .3 1.5 .2-1.3 .5 0 .5 1.8 .5-.2 .5 2.4 .5-1.9 .5-.4 .5-2.3 .5-.4 .5 .4 .5-3.6 .5 5.3 .5-3.5 .5-.8 .5 .6 .5 1.7 .5 .3 .5-2.5 .5 .9 .5-.9 .5-1.6 .5 1.4 .5-.4 .5-2.5 .5 3.6 .3-4 .2 2.5 .5-2.1 .5 .2 .5-.1 .5 1.8 .5-3.1 .5 1.4 .5 2.3 .5-3.5 .5 .7 .5 .8 .5-2 .5 1.3 .5-1.9 .5 1.8 .5-1.2 .5-1.7 .5 3.3 .5-2.5 .5-.5 .5-1.2 .5 .5 .5 .3 .5 .2 .5 1.1 .3-3.7 .2 1.3 .5 2.1 .5-1.8 .5 .1 .5 1.6 .5-2.2 .5-0 .5-1.1 .5 2.5 .5-1.3 .5-3 .5 1.7 .5-2.9 .5 3.2 .5-.9 .5-1.5 .5-.7 .5-2.4 .5 3.7 .5-1.6 .5-.5 .5 1.3 .5-2.4 .5-.1 .5-.4 .3-1.2 .2 5.8 .5-4.3 .5-.4 .5 1.7 .5-6.6 .5 4.6 .5-.1 .5-1.8 .5 2 .5-4.2 .5 3 .5 1.1 .5-5.1 .5 .9 .5 1.9 .5-0 .5-1.3 .5 1.4 .5-.4 .5-2.7 .5 1.8 .5-2 .5-1.4 .5-.7 .5 5.4 .4-1.9 .1 3.3 .5-5.6 .5 1.7 .5 1.1 .5-.9 .5 1 .5-.7 .5-1.3 .5-2.8 .5 2.2 .5 4.2 .5-1.6 .5 1 .5-3.3 .5 .6 .5-1.1 .5 2 .5-.6 .5 .6 .5 2.1 .5-4.2 .5 2.5 .5-3.5 .5 4.1 .5-2.5 .4 .6 .1 .3 .5 2.5 .5-2.8 .5-.7 .5-1.1 .5 2.3 .5-1.8 .5 .6 .5 .8 .5 1.1 .5-2.3 .5 2.3 .5 1.8 .5-5.3 .5 4.6 .5 1.3 .5-4.5 .5 2 .5-3.2 .5 2.7 .5-1 .5 1 .5-2 .5 .2 .5 .6 .4-.5 .1 .2 .5 .7 .5-1.5 .5 1.6 .5 1 .5-4.4 .5 4.1 .5-1.5 .5-.5 .5-.3 .5 .9 .5 .3 .5 1.9 .5-2.5 .5 3.8 .5-2.8 .5 2.5 .5 .8 .5-3.6 .5 3.8 .5 2 .5-4.1 .5 1.8 .5-.9 .5 .5 .4-.3 .1-.5 .5 2.1 .5 .4 .5-1.2 .5 2.6 .5-.5 .5-.4 .5-2 .5 4.4 .5-.7 .5-5.3 .5 1.9 .5 1.3 .5 2.4 .5 .8 .5-2.2 .5 1.1 .5 1 .5-2.8 .5 3.1 .5-1.1 .5 1 .5-.1 .5-1.5 .5 .5 .4 1.8 .1 .2 .5-.4 .5 2.2 .5-1.9 .5-1.1 .5 1.5 .5 .5 .5 .3 .5 2.2 .5-.8 .5 1.1 .5-.5 .5-.9 .5 2 .5-1.7 .5 1 .5-1.7 .5 1.9 .5-.4 .5 1.2 .5 2.4 .5 1.1 .5-1.8 .5-1.3 .5 1.5 .5-.7 0-1.2 .5 1.1 .5-0 .5-.3 .5 3.3 .5-2.5 .5 .4 .5 2.1 .5-1.7 .5-.4 .5 .7 .5 2.2 .5 0 .5 0 .5-1 .5-.6 0 2.7 .5-3.6 .5 1.6 .5-2 .5 .8 .5-.2 .5 1.3 .5-6.9 .2 5.9 .3-4 .5-.2 .5-2 .5-5.5 .5-1.8 .2-.2 .3-2.1 .5-3.1 0 1.5 .5-2.1 .5-4.8 .5 3.2 .4-2.3 .1-4.5 .5 3.5 .5 5.7 .5 1.7 .3-1.1 .2-2 .5 5.9 .5 6.3 .5 3 .1-.1 .4 1.8 .5 5.7 .5 1.6 .5 3 0 .4 .5 3.1 .5-.5 .5 1.5 .5-1.6 .5 4.9 .5 .6 .5-.4 .3-2.6 .2 2.6 .5 1.4 .5 3.3 .5-1.5 .5 .8 .5 .4 .5 1.1 .5-2.8 .5 .8 .5-.1 .5 1.5 .5 .3 .5 .9 .5-1.1 .5 1.8 .5-.8 .5 4.2 .5-3 0 4 .5-.8 .5-3.1 .5 3.1 .5 0 .5-2.2 .5 3.2 .5-.4 .5 1 .5-1 .5 1.4 .5 1 .5-.2 .5-.1 .5 1 .5-.6 .5 2 .5-3.1 .5 5.3 .5-1.3 .5 .8 .1 .5 .4-2.2 .5 4.5 .5-3.7 .5 2.2 .5 .1 .5 1.5 .5-1.3 .5-1.3 .5 2.3 .5-3 .5 2.9 .5 0 .5 2.6 .5-1.9 .5 .1 .5-.1 .5 .1 .3 .5 .2 1.5 .5-2 .5 1.5 .5-1.2 .5 1.7 .5 .6 .5-1.4 .5 .9 .5 1 .5 1 .5 .4 .5-1 .5-.8 .5-.5 .5 2.9 .5 .9 .5-.9 .5 1.5 .1-2.2 .4 .3 .5 2.5 .5-2.6 .5 2.1 .5 .1 .5 .1 .5 2 .5-2.7 .5 .7 .5-1.8 .1 1.2 .4 .4 .5-.3 .5-.5 .5-.2 .5-2 .5-2.4 .5 1.7 .4-.1 .1-2 .5-0 .5 2.4 .5-1.2 .5-.2 .4-.6 .1-.6 .5-.3 .5 2.1 .5 .2 .5 .9 .4 1.3 .1 .2 .5 2.5 .5-.5 .5 5.1 .3-3.4 .2 1 .5 2.2 .5-1.3 .5 .9 .5 1.1 .5-2.7 .5 3.1 .5-.1 .5 1.1 .5 1.2 .5 .5 .5 1.2 .5 .3 .5-.1 .1-1.1 .4 1.4 .5-1.8 .5 1.2 .5 1.9 .5-.4 .5-2 .5 1.1 .5 1.8 .5-.1 .5 .7 .5-2.7 .5 .8 .5 1.3 .5-.6 .5 1.2 .5 .3 .5 .6 .5-.3 .5 1 .5 .4 .2-.5 .3-1.2 .5 2.7 .5-.8 .5 .5 .5 0 .5-1.5 .5 2.5 .5-1 .5-.3 .5 2.8 .5-1.4 .5 .9 .5 .8 .5 1 .5-3.2 .5 1.3 .5 1.6 .4-1.2 .1-2.5 .5 3.6 .5 .2 .5 .8 .5-.4 .5-.4 .5 .8 .5-.1 .5-.3 .5 .9 .5 .2 .5-1.2 .5 2 .2-.2 .3-.1 .5-3.4 .5 2.7 .5-.4 .5-1 .5 1.4 .5-2.2 .5 2.5 .5-1 .5-1.1 .5 1.7 .5-1.2 .4-.3 .1-1.6 .5 1.6 .5 .7 .5-.5 .5-2.6 .5 2.4 .5-.1 .5-1 .5-1.6 .5-1.6 .5 .2 0 .3 .5 .1 .5-.7 .5-2.6 .5-2.5 .5-.4 .3-2.1 .2 2 .5-5.5 .5-1.3 .5-3.1 .3-4.1 .2 1.1 .5-4.2 .5-3.7 .5-3.7 .5-3.3 .1 .1 .4-10.3 .5-8.8 .5-16.9 .5-18.9 .5-23.1 .4-20.6 .1-4.7 .5-19.5 .5-24 .1 2.8 .4-17.4 .5-21.1 .5-20.6 .5-13.1 .5-18.5 .4-12.2 .1-3.9 .5-17.3 .5-26.3 .1-2.3 .4-27.2 .4-15.2 .1 6.4 .5 33.8 0 5.4 .3 44.1 .2 47.7 0 9.6 .5 43.3 .5 47.7 0 16.7 .1 29.4 .4 53 .5 14.1 .2 3.1 .3 1 .5 9.3 .5 3.4 .3 4.2 .2 3.2 .5 3.5 .1 1.1 .4 2.7 .5 2.8 .5 .5 .5 1.7 .5 2.5 .5-.6 .5 1.9 .5 1.6 .5-.4 .3 1.3 .2-.4 .5-.5 .5 1.6 .5 1 .5 .4 .5 .9 .5 .9 .5 .4 .5 .3 .5-0 .5 .6 .5 .3 .5 .2 0 1.6 .5-2.3 .5 2.2 .5-1.2 .5 1.2 .5 1.5 .5-.5 .5 1.7 .5-1.6 .5 .9 .5-0 .5 .8 .5 .1 .5 .2 .5 .6 .5 1.1 .5-.5 .5 .2 .5 0 .5-.1 .5-.3 .5 .6 .5 1 .5-1.2 .5 2.2 .5-.6 0-.4 .5 .5 .5 1.1 .5 0 .5 .1 .5 1.4 .5 .6 .5-2.5 .5 1.8 .5-1 .5-.3 .5 .8 .5 1.4 .5-.8 .5 0 .5 1.6 .5-.5 .5-.3 .5 1.6 .5-.8 .5-.8 .5-.1 .5 .7 .5 .6 .5 .7 .5 .1 .1-.5 .4-.9 .5 1.7 .5-.4 .5-.8 .5 0 .5 1.2 .5 .3 .5 .4 .5-1.4 .5 2.5 .5-2.7 .5 1.5 .5 1.1 .5-.1 .5-1.3 .5 1.2 .5 .6 .5-.2 .5-1.2 .5 2.1 .5-2.3 .5 1.3 .5-.7 .5 .6 .5 .2 .1 .6 .4-1.2 .5 1.3 .5 .9 .5-.8 .5 .5 .5 .1 .5-.8 .5 .5 .5 .4 .5 .5 .5 1.2 .5-.1 .5-1.4 .5 .1 .5-.2 .5-.9 .5 2.8 .5-.4 .5-1.7 .5 1.5 .5 1.8 .5-1.2 .5 .1 .5-.2 .5-.6 .1-.3 .4 .3 .5 .8 .5-.2 .5 .8 .5 .8 .5-.8 .5 .3 .5-.8 .5-.6 .5 2.5 .5-.9 .5 .4 .5-1.1 .5-.9 .5 2.2 .5-2.4 .5 1.5 .5-.3 .5 .6 .5 .5 .5-0 .5-2.1 .5 2.3 .5-2.1 .5 1.8 .1-.8 .4-.5 .5 .5 .5-.7 .5 .9 .5 .7 .5-.2 .5-.6 .5 .6 .5-.5 .5 1.1 .5-1.3 .5-.9 .5 .2 .5-.4 .5 .2 .5 .1 .5 .5 .5 0 .5-.5 .5 .2 .2-.8 .3 .1 .5-1.3 .5 1.4 .5 .4 .5 2.4 .5-2.6 .5 1.2 .5-.1 .5-.7 .5 1.5 .5 .1 .5-.8 .5-.4 .5 1.9 .5-.8 .5 1.8 .5-.4 .5 .8 .5-.3 .5 1.5 .5-.4 .5 .8 .5-.8 .5-.6 .5-.1 .5 .8 .5 .6 .5-.5 .5 2.2 .3-1.8 .2 .4 .5-.3 .5-1 .5 1.6 .5-.3 .5 .1 .5-1.3 .5 .7 .5-.1 .5 .8 .5-1.9 .5 1.4 .5 .4 .5-1.3 .5-.3 .3 1.5 .2-.8 .5 .5 .5-.3 .5 .1 .5-1 .5-1.5 .5 1.7 .5-1 .5 .8 .5-1 .5 1.4 .5-1.5 .5 .7 .5 .1 .5-1 .5 .3 .5-.3 .5-.7 .1 1.7 .4-1.7 .5-.3 .5 .9 .5 .6 .5 .2 .5 0 .5 .3 .5-.9 .5 2.3 .5 1.2 .5-1.4 .5-.3 .5 2.1 .5-.2 .5-2.3 .5 2.6 .5-.2 .5 .4 .5 2.5 .5-.5 .1-.8 .4 .2 .5 1.3 .5-1.7 .5 1.4 .5-.9 .5 1.2 .5-.3 .5-.6 .5 1.4 .5-.3 .5 1 .5-1.4 .5 .5 .5-.5 .5 1.4 .5-1.3 .5 .6 .5 1 .5-.5 .5-.1 .5 .1 .5 .1 .5 .3 .5-.6 .5-1.1 .1 2.3 .4-1.6 .5 2.1 .5-1 .5 2 .5-1.3 .5-.4 .5 .3 .5-1.5 .5 1.1 .5-.3 .5 .3 .5-1.3 .5-.1 .5 2 .5-.4 .5-.3 .5 .3 .5-.3 .5 .1 .5 .9 .5-.6 .5 .7 .5-.9 .5-.8 .5 .9 .1 .3 .4-.6 .5 .6 .5-.1 .5 1.1 .5-.1 .5 .3 .5-1.2 .5 .8 .5 .7 .5-.8 .5-.1 .5-.4 .5 1.1 .5-.4 .5 .5 .1-.8 .4 1.5 .5-1.4 .5-.9 .5 .9 .5 .1 .5 .4 .5-1.3 .5-.2 .5 0 .5-.2 .5-1.4 .5 1.8 .5 .2 .5-1.5 .5-.3 .5 .4 .5-.6 .5 1 .5-1.1 .5 .8 .5-1.4 .5-.1 .4-.1 .1 .1 .5 1.3 .5 .3 .5-.5 .5 .1 .5-1.6 .5 2.3 .5-1.5 .5 1.8 .5 .9 .5-1.6 .5 .5 .5 .1 .5-1.2 .5 .2 .5 .4 .5 .7 .5 .5 .2-.4 .3 .7 .5-1 .5-.5 .5 1.2 .5 .1 .5-.8 .5 1.8 .5-1.2 .5 .4 .5 .8 .5-.7 .5 1.3 .5-0 .5 .1 .5-.1 .5-.2 .5-.1 .5 .7 .5 .8 .5-.4 .2-.2 .3 .4 .5 .2 .5-1.7 .5 .8 .5 .8 .5-1.2 .5 .1 .5 .7 .5-.6 .5 .9 .5-1 .5 .6 .5 1.2 .5-.9 .5-1.7 .5 .2 .5-.1 .5 .6 .5-.9 .5 1.3 .5 .7 .5-.1 .5-1.6 .5 .3 .5-.1 .2-.3 .3 1.6 .5-1.6 .5-.3 .5 .9 .5-.1 .5 .8 .5-.1 .5-1.2 .5-1.3 .5 1.8 .5 0 .5 .6 .5-2.3 .5 .2 .5 1.7 .5 0 .5-.3 .5-1 .5 .8 .5-1.3 .2-.5 .3 .7 .5 0 .5 .3 .5 0 .5-2.1 .5 1.1 .5-.1 .5-1.4 .5 .5 .5-0 .5 .1 .5-1.1 .5 0 .5-.4 .5 .9 .2-.4 .3-.2 .5 .9 .5-.5 .5-.6 .5 1.7 .5 .1 .5-.2 .5-.9 .5 1.7 .5-1 .5-.7 .5 1.3 .5 1.5 .5-1.4 .5 .7 .3 .6 .2-.8 .5-.3 .5 .3 .5 .4 .5-.7 .5 .6 .5 .2 .5-.6 .5 .7 .5-0 .5-.6 .5 .1 .5 .2 .5-.1 .5-0 .5-.5 .5 .7 .5 .5 .5-0 .5-1 .3 1 .2 0 .5-.9 .5 1 .5-.3 .5-.1 .5 .5 .5-.1 .5-1.2 .5 1.7 .5-.7 .5 .8 .5 .6 .5-.5 .5-0 .5 .5 .5 .3 .5-.8 .5 .2 .5 .8 .5 .7 .3-1 .2 .6 .5-1.1 .5 .5 .5 0 .5-.9 .5 .8 .5-.1 .5-1.6 .5 1.6 .5 .2 .5-.1 .5 .1 .5-1 .5 .2 .5 .3 .5-.5 .5 .3 .5 1 .5-1.4 .5 .3 .5 1.4 .5-1.3 .5-.6 .1 .8 .4-.1 .5-0 .5-1.2 .5 1.2 .5 0 .5 1.1 .5-1 .5-.7 .5 .4 .5 .2 .5-.6 .5 .1 .5 .8 .5-.6 .5-0 .5-1 .5 .8 .5-1.5 .5 1.9 .5-1.1 .5 .6 .5 .5 .5-1.7 .5 1.4 .5-.7 .1 .6 .4-1 .5-.3 .5 1.1 .5-.7 .5-.3 .5-.9 .5 1.4 .5-1.2 .5-0 .5-.4 .5 .4 .5 .3 .4-.4 .1-0 .5-.3 .5 1.5 .5 .2 .5-1.1 .5-.1 .5 .9 .5-.9 .5 1.4 .5 .3 .5 .1 .5 1.2 .5 .3 .5-.8 .5-.4 .4 .9 .1 0 .5-1.4 .5 .2 .5 .3 .5-.9 .5 .4 .5 1.7 .5-1.9 .5 1.3 .5-1 .5 1.1 .5-.5 .5 .4 .5-1.5 .5 1 .5-.6 .5 .8 .5-0 .5-.4 .5-.3 .5 .1 .5 .1 .5-.5 .1 0 .4-.2 .5-.3 .5 1.3 .5-1.5 .5 1.6 .5-.5 .5-1.6 .5-.2 .5 1.2 .5-.8 .5 .7 .5 .4 .5-.4 .5-.5 .5-0 .5 1 .5-1.2 .5 1.3 .5 .1 .5-1.6 .5 .5 .5 .9 .4-1.6 .1 .7 .5 .5 .5-1.4 .5 1 .5-0 .5-.4 .5 1.5 .5-1 .5 1.7 .5-.9 .5-.7 .5 .7 .5-.5 .5 1.2 .5-0 .5-1.1 .5 .6 .5 .6 .5-.2 .5-.6 .4 1.3 .1 .2 .5-1.8 .5 1.9 .5-2.3 .5 1.2 .5-.3 .5 .1 .5 .4 .5-.8 .5 .7 .5 1.1 .5-.8 .5 .7 .5-.4 .5-1.6 .5 2.2 .5-.6 .5-.2 .5-.6 .5-.1 .5-.3 .5 .5 .5 .2 .5-.2 .5 0 .5-1.1 .5 .7 .5 0 .5 .7 .5-.5 .5 0 .5 .4 .5-.4 .2 .1 .3 .9 .5-.8 .5-.4 .5 .9 .5 .2 .5-.1 .5-1.2 .5 1.4 .5-.5 .5 .1 .5-0 .5 .2 .5 .1 .5 .6 .5-.7 .5-.2 .5 .5 .5-.4 .5 .7 .5-.5 .5 .4 .5-.8 .5 1 .5-.2 .5-.9 .2 .3 .3 .3 .5-.8 .5 .1 .5 1.1 .5-0 .5 .5 .5-1.6 .5 .6 .5-1 .5 2.4 .5-1.9 .5 .7 .5 1.4 .5-.3 .5-1.4 .5 2 .5-1.1 .5-.9 .5 .8 .5 .3 .5-0 .5-1.7 .5 2.5 .5-2.2 .5 .9 .5 1 .5-.6 0-.3 .5-.4 .5 .4 .5 .1 .5-1.7 .5-0 .5-1.2 .5-.7 .5-1.8 .5 .9 .5-.1 .5-1.2 .5 .4 .5-.7 .2 .7 .3-.7 .5-.2 .5 .1 .5 .6 .5 .4 .5-.3 .5 .8 .5-.3 .5 .4 .5 1.7 .5 .2 .5 .7 .5-.1 .5 .4 .5 1.3 .5-1.5 .5 .8 .5 .9 0 .3 .5-1 .5-.4 .5-.7 .5 .5 .5 .1 .5-.2 .5 .2 .5-.1 .5-.7 .5-.5 .5 .3 .5 .3 .5 .6 .5-2.2 .5 1.5 .5-1 .5 .8 .5 .3 .5-.9 .5-1.2 .5 .4 .5 .4 .5-.5 .5 .1 .5-.4 0 .3 .5-.2 .5 1 .5-.4 .5 .4 .5-1.5 .5 .9 .5-.1 .5 .2 .5-.1 .5 .2 .5 1.5 .5-1 .5-.5 .5 .7 .5 1.8 .5-.9 .5-.8 .5 .5 .5 .3 .5 .2 .5-1.1 .5 .7 .5 .6 .5-.8 .5 1.1 .5 .2 .5 .6 .5 .2 .5-.6 .5 .3 .5 .3 .5 .3 .5-.6 .5-.4 .5 .8 0 .2 .5-.5 .5 .2 .5 .6 .5-1.4 .5-.2 .5-.4 .5 .7 .5 .2 .5-1 .5 1.2 .5-1.7 .5 .4 .5-.5 .5 .8 .5-1.5 .5 1.3 .5-1.3 .5-.9 .5 .3 .5 .1 .5 1.1 .5-1.5 .5 .2 .5 1.3 .5-1.2 0-.5 .5-.1 .5-.4 .5 1.3 .5 .6 .5-.8 .5-.3 .5 1 .5 0 .5 .2 .5 .5 .5-0 .5-0 .5 1 .5-1.5 .5 .6 0 .6 .5-.5 .5 2 .5-2 .5 2 .5 .2 .5 .1 .5 .4 .5-.3 .5 .2 .5 1.6 .5-.7 .5-.5 .5 .4 .5 .1 .5 1.3 .5 .8 .5-.7 .5 .5 .5-.2 .5 1 .1-0 .4 .1 .5 .7 .5-1.7 .5 1.3 .5-1.3 .5 1.5 .5 .2 .5 0 .5 .2 .5-.5 .5-.2 .5 1 .5-.8 .5 .9 .5-.8 .5 .8 .5 0 .5-.6 .5 .4 .5 .8 .5-.4 .5 .3 .5-.5 .5 .4 .5-.8 .5 .4 .5 1.3 .5-.4 .5-.2 .5 .1 .5-.8 .5 1.1 .5-.9 .5 .4 .5 .9 .5-.8 .5 .2 .5 .3 .5 .1 .5 .8 .1-1.8 .4 .8 .5 .7 .5-.6 .5 .1 .5-.2 .5 .4 .5 .6 .5 .4 .5-.5 .5 .7 .5-.7 .5-1 .5 1.5 .5-1.6 .5 1.2 .5 .1 .5-.6 .5 .6 .5-.2 .5 .5 .5-.2 .5 .5 .5-.5 .5 .6 .5-.3 .5 .2 .5-0 .5-.3 .5 .9 .5-.2 .5-1.6 .5 .6 .5 1.8 .5-1.1 .5 1.8 .5-1.3 .5 0 .5-.5 .5 .2 .5 .3 .5 .4 .5-.4 .5-0 .5-.5 .5 .3 .5 .1 .5 .2 .5-.3 .5-.2 .5 .5 .5-1.2 .5 .6 .5 .4 .5 .7 .5-.6 .5-.2 .5 1.1 .5-.4 .5 .8 .5-.8 .5-.3 .5 .3 .5 1.2 .5-.1 .5-.7 .5 .5 .5-1.3 .5 1.5 .5-.5 .5-.2 .5 .1 .5 .2 .5-.4 .5 .1 .5-.5 .5 1.6 .5-1.3 .5 .4 .5 .7 .5 .2 .5 .1 .5-1.1 .5 .1 .5 .3 .5-1 .5 1.6 .5-1.4 .5 .9 .5 .6 .5-0 .5-.7 .5 .8 .5 .1 .5-1.5 .5 .9 .5 .5 .5-.1 .5-.3 .5 .1 .5 1.4 .2-1.5 .3 .8 .5-1.2 .5 1 .5 .4 .5-.8 .5-.1 .5 1.4 .5-1.1 .5 .8 .5-1.4 .5 1.8 .5-2 .5 .7 .5 .2 .5 .3 .5 .2 .5 .9 .5 .3 .5-.1 .5-.5 .5-.3 .5-1.3 .5 1.2 .5-.3 .5 .8 .5-.9 .5 .1 .5 .1 .5 .8 .5-.2 .5-.6 .5-.4 .5 .7 .5 0 .5 .1 .5 .4 .5 .4 .5 .1 .5-.8 .5-0 .5 1.3 .5-1 .5 .6 .5-.2 .5 .1 .5 .7 .5-.9 .5 .7 .5-.2 .5-.4 .5-.1 .5-0 .5 1 .5-.1 .5-1 .5 .8 .5-1.2 .5 1 .5 1.2 .5-1.8 .5 .9 .5-.5 .5 .5 .5-.6 .5 .7 .5-1.4 .5 1.2 .5 0 .5 .2 .5 1.2 .5-1.8 .5 .3 .5-.3 .5 1.1 .5-.3 .5-.6 .5 1.2 .5-.3 .5 .7 .5-.4 .5-.3 .5-.5 .5-.7 .5 .9 .5 1 .5-.7 .5-.3 .5 .6 .5 .3 .5 1.2 .5-2.1 .5 .4 .5-.4 .5 .3 .5 .9 .5-.5 .5-.7 .5 1.6 .5 .2 .5-.5 .3-1 .2 0 .5 1.4 .5-1.3 .5 .3 .5-.5 .5 1.9 .5-1.4 .5 .3 .5-.2 .5 0 .5-.2 .5 1.3 .5-1 .5 1.3 .5-1.5 .5 1 .5 .3 .5-1.1 .5 .8 .5-.4 .5-.3 .5 .4 .5-.8 .5 1 .5-.7 .5 1.3 .5 .5 .5-0 .5-1.2 .5 .4 .5 1.2 .5-.3 .5-.3 .5-1.6 .5 1.1 .5 1.5 .5-1 .5-.4 .5 .3 .5 1.3 .5-.6 .5-1.4 .5 .2 .5 .7 .5 .7 .5-1.1 .5 .1 .5-1.1 .5 1.2 .5 .7 .5 0 .5-1.1 .5 1.3 .5-.9 .5-.3 .5 1.1 .5-1.1 .5 .6 .5-.2 .5 .5 .5 .2 .5-.3 .5-.2 .5 .2 .5-1 .5 1.3 .5 1.3 .5-1 .5 .5 .5-.6 .5 0 .5 .3 .5 .2 .5-0 .5-.8 .5 .5 .5-.9 .5 1.5 .5-.6 .5-.1 .5-.5 .5 1 .5 .3 .5-.3 .5 .4 .5-1.1 .5 1 .5-.5 .5-1.5 .5 1.7 .5-.7 .5 .5 .5-.3 .5-.1 .5 1.1 .5-.9 .5 .4 .5 .3 .5-.6 .5-.5 .4 .8 .1-.1 .5-.5 .5 .6 .5 .7 .5-.2 .5 .3 .5-.1 .5-.6 .5-.1 .5-.7 .5 1.3 .5-1 .5 .7 .5 .6 .5-.9 .5-.9 .5 .3 .5 .4 .5 .9 .5-.9 .5 .1 .5-.6 .5 .8 .5-.1 .5 .4 .5-1 .5 .9 .5-1.2 .5 .5 .5 0 .5 .2 .5 .4 .5-1.6 .5 1.3 .5-.2 .5-.5 .5 .5 .5 .5 .5-.5 .5-.1 .5 .7 .5-.8 .5 1 .5-.4 .5 .1 .5 .1 .5 .4 .5-1.2 .5 1.1 .5-1.2 .5 .8 .5 .1 .5-.3 .5-.7 .5-.1 .5 .1 .5 .6 .5 .1 .5 .3 .5-1.2 .4 1 .1 .4 .5-.5 .5-.1 .5 .3 .5 .3 .5-.2 .5-.1 .5-1.9 .5 1.3 .5-1.2 .5 .3 .5-1.1 .5 .2 .5-.9 .5-.2 .5 .9 .5-2.2 .5 .9 .5-1 .5-1.1 .5 1 0-.8 .5-.9 .5-.3 .5-1.6 .5 .4 .5-2.9 .5-.5 .5-2 .5 .5 .5-.3 .5-.4 .5 .3 0-1 .5 0 .5 1.6 .5 .1 .5 1.8 .5 1 .5 1.4 .5 1.9 .5 2.2 .5 1.2 .5 .5 .5-.9 .2 1.8 .3 .3 .5 .4 .5-.4 .5 1.2 .5-.2 .5-1 .5 1.7 .5 .7 .5-.6 .5-.4 .5 1.6 .5-.3 .5-1.5 .5 1.8 .5-.3 .5 0 .5-1 .5 .1 .5 1.1 .5 1.1 .2-1 .3-0 .5-.4 .5 .2 .5 .9 .5-1 .5 1.5 .5-.7 .5-.1 .5-.2 .5-.3 .5 .3 .5-.6 .5 .9 .5-1.1 .5 2.4 .5-1.3 .5-.8 .5 1 .5-0 .5-.4 .5 .5 .5-.5 .5 .4 .5-0 .5 .4 .5-.6 .5 .5 .5-1.7 .5 2.2 .5-.5 .5 .3 .5-.5 .5 .7 .5-.5 .5 .2 .5-.1 .5-.3 .5-.2 .5 .8 .5 .1 .5-.3 .5 .7 .5-.6 .5 .2 .5 .4 .5-.2 .5-.5 .5-.5 .5 .2 .5-.1 .5 1.1 .5-2.5 .5 3.2 .5-1.6 0 1.1 .5-.4 .5 .1 .5-1 .5 1.4 .5-.7 .5 .5 .5-.9 .5 .5 .5-.3 .5 .6 .5 .2 .5-.5 .5 .4 .5 .1 .5-.3 .5-.1 .5-1 .5 1.8 .5-.5 .5-.2 .5 .2 .5-.4 .5 .2 .5 .5 .5-1.2 .5 .7 .5 .4 .5-1 .5 .3 .5 1.3 .5 .5 .5-1 .5 .2 .5-.8 .5 1.2 .5-.7 .5 .1 .5 .2 .5-.6 .5-0 .5 .4 .5-.6 .5 .3 .5-1.1 .5 .9 .5 .8 .5 .4 .5-.3 .5-.8 .5 .6 .5-.6 .5-.1 .5 1.2 .5-.7 .5 0 .5 .3 .5 .4 .5-.4 .5-.2 .5 .4 .5-.3 .5-.1 .5-1 .5 .8 .5 .4 .5-.5 .5 1.6 .5 .3 .5-.3 .5-1.5 .5 .8 .5 0 .5 0 .5-1.1 .5 1.5 .5 .4 .5-.5 .5 .8 .5-1.4 .5 .6 .5 .4 .5-1.3 .5 .5 .5-.3 .5 .9 .5-1.1 .5 .8 .5-.4 .5 .8 .5-.8 .5 .2 .5 .3 .5-.6 .5 .2 .5 .1 .5-.1 .5 .4 .5-.5 .5 .5 .5-.3 .5-.1 .5-.3 .5-.4 .5 .7 .5 .7 .5-.5 .5 1 .5-1.4 .5 .4 .5-.7 .5 1.6 .5-1.4 .5 1 .5-.1 .5 1.3 .5-.7 .5-.2 .5-.4 .5 1 .5-1.2 .5-.5 .5 1.2 .5-.5 .5-.3 .5 .6 .5 .1 .5-1.2 .5 1.5 0 .5 .5-1.3 .5-.6 .5 1 .5-.2 .5 .6 .5 .1 .5-.6 .5 .9 .5-1.9 .5 .7 .5 .6 .5 .1 .5-.3 .5 .4 .5-1 .5-.5 .5 1.8 .5 .3 .5-.8 .5-.6 .5 .3 .5 .7 .5-.1 .5 .6 .5 .2 .5-.2 .5-.8 .5 .7 .5-.2 .5-.2 .5 0 .5-.1 .5-.5 .5 .8 .5-.6 .5 .4 .5 .5 .5 0 .5-1.4 .5 .6 .5-.2 .5 .8 .5-.5 .5 .9 .5-.7 .5 .5 .5-.8 .5 .2 .5 .3 .5 .4 .5-1.4 .5 1.2 .5-.8 .5 .9 .5-1 .5 .8 .5 .9 .5 .1 .5-1.3 .5 1.5 .5-1.1 .5 .3 .5 .2 .5-.2 .5 .2 .5-.1 .5 .4 .5-.3 .5-.3 .5-.3 .5-0 .5 .5 .5 .5 .5-.2 .5-.3 .5 .4 .5-.5 .5 .4 .5 .2 .5-.5 .5 1 .5-.1 .5-.7 .5 .5 .5-.2 .5 .1 .5-0 .5 .6 .5-.6 .5 0 .5 .4 .5 0 .5 .5 .5-1.4 .5 .9 .5-1.4 .5 1.1 .5-.7 .5-0 .5 .7 .5-.5 .5 .4 .5-1.3 .5 2.2 .5-2.2 .5 1.2 .5 1.3 .5-1.7 .5 1.7 .5-.3 .5-.6 .5-.2 .5 .1 .5 .3 .5 .4 .5 .2 .5-1.8 .5 1.6 .5-.1 .5-1 .5 1.2 .5 0 .5 0 .5-.5 .5 .5 .5 .2 .5-1 .5 .1 0-0 .5 1 .5-.7 .5-.4 .5-.1 .5-.1 .5 .8 .5 .3 .5 .3 .5-1.2 .5-0 .5 0 .5 .1 .5-.4 .5 1.7 .5-.6 .5-.5 .5-1.1 .5 2.1 .5-.3 .5-.3 .5 .3 .5-.7 .5 .7 .5-.6 .5 .5 .5-.3 .5-.6 .5 .1 .5 1.2 .5-0 .5-.7 .5-.2 .5 .1 .5 .5 .5-1 .5 1.3 .5-1 .5-.1 .5 .6 .5 1.1 .5-1.5 .5 .2 .5-.4 .5 .8 .5 0 .5-.1 .5-.2 .5 .4 .5 .2 .5-.6 .5 .1 .5-.2 .5 0 .5 1 .5-1.2 .5 .7 .5 .4 .5-.8 .5 .6 .5 .1 .5-1.2 .5 1.3 .5-1 .5 .6 .5-.9 .5-0 .5 .7 .5 1.1 .5 .5 .5 .1 .5-.8 .5-0 .5-.3 .5-0 .5-.6 .5 0 .5 .5 .5 0 .5-.6 .5-.3 .5 .3 .5 2.3 .5-2.3 .5 1.2 .5-.1 .5-.1 .5-.9 .5 1.5 .5-1 .5-.5 .5-0 .5 .3 .5 1.3 .5-1.9 .5 .3 .5 .4 .5 .3 .5-.9 .5 .1 .5 .2 .5 .7 .5-.4 .5-.1 .5 .3 .5-.1 .5 .5 .5-.9 .5 .4 .5-.3 .5 .7 .5 .1 .5-.6 .5 .8 .5-.8 .5 .9 .5-.9 .5-.1 .5-.5 .5 .2 .5 .4 .5-1 .5 1.2 .5 .5 .5-.2 .5-.2 .5 .3 .5-.7 .5 .1 .5 .7 .5-.5 .5 .6 .5-.8 .5 .7 .5 .3 .5-.7 .5 1 .5-.1 .5-2.2 .5 2.8 .5-2.3 .5 2.2 .5-1.8 .5-.7 .5 .4 .5 1 .5-.8 .5 .3 .5 1 .5-1.3 .5 .9 .5 .4 .5-1.7 .5 .4 .5 .8 .5-.2 .5 .2 .5-1.2 .5 .6 .5 .7 .5 .1 .5 .4 .5-.9 .5-.2 .5-.1 .5 0 .5-.6 .5 2.1 .5-1.2 .5-.1 .5 0 .4 .7 .1-.3 .5-.5 .5 1 .5-.4 .5-.2 .5 .1 .5 .7 .5-.3 .5-.4 .5 .6 .5-1.8 .5 1.6 .5-.8 .5 .1 .5 .2 .5 1.2 .5-1.1 .5 0 .5 .4 .5-1.4 .5 1 .5 .5 .5-.9 .5 .9 .5-.8 .5-.4 .5 1.3 .5-.4 .5 .4 .5-.3 .5-.7 .5 1.2 .5-.3 .5-0 .5-.5 .5-.4 .5 1.5 .5-.4 .5-.3 .5-.4 .5 1 .5-1.2 .5 .1 .5 1.6 .5-.8 .5 .2 .5-.1 .5 .7 .5-.9 .5 .1 .5-.8 .5 .5 .5-.8 .5 .6 .5 .2 .5 .4 .5 .4 .5-1.1 .5-.2 .5 .7 .5-.6 .5 1.4 .5-.2 .5-1.2 .5 .6 .5 .6 .5-1.2 .5 .3 .5 .2 .5 .8 .5-.5 .5-.4 .5 .4 .5-.2 .5 .1 .5 .2 .5-.2 .5 .3 .5-.4 .5-.1 .5-0 .5-.8 .5 .7 .5 1.2 .5-1 .5 .3 .5 .2 .5-.7 .5 .1 .5 .5 .5-.8 .5 1 .5-.1 .5-.3 .5 .1 .5 .2 .5-.3 .5-1.4 .5 1.6 .5-.8 .5 .3 .5 0 .5 0 .5-.6 .5-.2 .5 1.1 .5 0 .5 .2 .5-.9 .5 .6 .5 .6 .5-.7 .5-.1 .5 1.5 .5-2 .5 .4 .5-.1 .5 .3 .5 2 .5-2.3 .5 .5 .5-.2 .5-.1 .5 .9 .5-.7 .5 .8 .5 .2 .5-1 .5 1 .5-1.4 .5 .9 .5 .4 .5-1.2 .5 .6 .5 .3 .5 0 .5-.1 .5 .9 .5-1.2 .5 .8 .5 .5 .5-1.5 .5 .1 .5-.3 .5 .9 .5 .4 .5-1.7 .5 .4 .5 .2 .5 1.6 .5-1.4 .5 .4 .5-.9 .5 1.2 .5-1.1 .5 .5 .5-.5 .5 .5 .5 0 .5 .2 .5 0 .5 .9 .5-1.4 .5 1.1 .5-.5 .5-.3 .5 .3 .5-.1 .5 .4 .5-0 .5-.2 .2-.2 .3-1 .5 1.4 .5 .1 .5-.4 .5-0 .5-.7 .5 .7 .5 .3 .5-1.2 .5 .4 .5 0 .5 1 .5-.9 .5-.8 .5 1.1 .5 .6 .5-.8 .5-.1 .5 .3 .5 .8 .5-1.1 .5 0 .5 .4 .5-.6 .5-.5 .5 1 .5-.3 .5 .4 .5-.1 .5 .2 .5-.9 .5 .8 .5-.7 .5 .7 .5-.5 .5 1.2 .5-1.4 .5-.8 .5 1.4 .5-.4 .5-.2 .5 .6 .5 .8 .5-1 .5-.3 .5 1.2 .5-.2 .5-.6 .5-.3 .5 .7 .5-.8 .5 0 .5-.1 .5 .8 .5 .5 .5-.8 .5 .9 .5-2 .5 1 .5-.9 .5 1.4 .5 .2 .5-1.6 .5 .5 .5 .5 .5-.9 .5 .3 .5-0 .5 .6 .5-.5 .5-.2 .5 .2 .5 .3 .5 .1 .5-.1 .5 .7 .5-.8 .5 .2 .5 .3 .5-.5 .5 .9 .5-.3 .5 0 .5-.9 .5 .4 .5 .4 .5 .3 .5-.9 .5 0 .5-.4 .5-.1 .5 1.4 .5-.6 .5 .3 .5 .3 .5-.6 .5 .1 .5-.6 .5 .2 .5 .6 .5 .5 .5-.2 .5-.9 .5-.1 .5 .8 .5-.1 .5 0 .5-.1 .5 .5 .5-.5 .5 .6 .5-.5 .5-.2 .5-.6 .5 .7 .5 .3 .5-.3 .5-.7 .5-.4 .5 .8 .5 1.1 .5-1.5 .5 .3 .5 .4 .5 .4 .5-1.1 .5 .6 .5 .1 .5-.8 .5 .9 .5-.8 .5 .7 .5 .2 .5-.3 .5-.7 .5 1 .5 0 .5-.3 .5 .4 .5-.7 .5-.2 .5 .4 .5 .3 .5 .2 .5-.8 .5 .5 .5-.1 .5-.3 .5-.8 .4 .1 .1 1.5 .5-1.4 .5-.1 .5 .2 .5 .6 .5 .8 .5-.5 .5-.4 .5 .1 .5 .4 .5-.2 .5-1 .5 1.6 .5-.2 .5-1 .5 .4 .5 .4 .5-.1 .5-.3 .5 .2 .5 .9 .5-1.1 .5 .7 .5-.4 .5-.8 .5 1 .5-.2 .5 .5 .5 .2 .5-.3 .5-.4 .5 .1 .5 .2 .5-.9 .5-.1 .5 .9 .5-1 .5 .5 .5 1.1 .5-.5 .5 .2 .5-.7 .5 .6 .5-1.1 .5 0 .5 .4 .5-.3 .5 1.1 .5-.8 .5-.6 .5 1.1 .5-.1 .5 .3 .5-1.3 .5 .2 .5-.8 .5 1.4 .5-.2 .5-.3 .5 1 .5-1.1 .5 .1 .5-.2 .5-.1 .5 .5 .5-.1 .5-.1 .5-.4 .5-.1 .5 .4 .5 .3 .5-.5 .5 .3 .5-0 .5-.3 .5-.3 .5 .7 .5 .9 .5-.6 .5-.3 .5-.3 .5 0 .5 .9 .5-1.2 .5 1.6 .5-.9 .5 .1 .5-.3 .5 .7 .5-0 .5-.9 .5 1.3 .5-.8 .5-1 .5 1.1 .5-.1 .5-.1 .5 .4 .5 .1 .5-1.2 .5 .5 .5 0 .5 .1 .5-1 .5 1.1 .5-.1 .5 1 .5-1.5 .5 .2 .5 .5 .5-.2 .5 .5 .5 .1 .5-1.1 .5 .5 .5 .3 .5-.7 .5 1.6 .5-1.1 .5-0 .5-1 .5 .5 .5-.7 .5 1.4 .5-.8 .5 .5 .5 .1 .5-.1 .5-.3 .5 .6 .5-1 .5-.4 .5 .2 .5 1.2 0 .4 .5-1.1 .5 0 .5 .5 .5-.9 .5 .4 .5-.5 .5 .8 .5-1.6 .5 .8 .5-.2 .5 .9 .5 .3 .5-.2 .5 1.1 .5-1.1 .5-.5 .5 .2 .5 .6 .5-.1 .5 1 .5-1.1 .5-.6 .5-.1 .5 1 .5-1.9 .5 1.7 .5 .2 .5-.7 .5 .4 .5 .6 .5 .1 .5-.1 .5-.2 .5-.6 .5-.6 .5-.5 .5 2.2 .5-.4 .5-1.3 .5 1.3 .5-.8 .5-.1 .5-.4 .5 1.8 .5-1.9 .5 .2 .5 1 .5 .1 .5-.2 .5-.9 .5 .5 .5-.4 .5 .2 .5 1.3 .5-.8 .5 .2 .5-.9 .5 .2 .5 .6 .5 .4 .5-.8 .5 .9 .5 .5 .5-2.3 .5 1 .5 .4 .5-.5 .5 1 .5-.8 .5 .1 .5-1.1 .5 1.5 .5-.8 .5 .5 .5-.4 .5-.3 .5 .3 .5-.6 .5 .6 .5 .7 .5-.1 0-1 .5 .9 .5-.7 .5-.3 .5 .5 .5-.1 .5-1 .5 .6 .5-.8 .5 .9 .5-2.3 .5 .4 .5-.4 .5-.5 .5-.6 .5 1.2 .5-.7 .5-1.1 .5 .4 .5 .1 .1 .3 .4-.7 .5 1.5 .5-.6 .5 1.1 .5-.2 .5-0 .5 .4 .5 .8 .5 .2 .5 .5 .5 .7 .5 .5 .5-.9 .5-.2 .5 .5 .1 1.2 .4-.7 .5-.2 .5 .6 .5 .2 .5-1 .5 .1 .5 .6 .5-0 .5-.3 .5 1.7 .5-.6 .5-.7 .5 .5 .5-1 .5 1.2 .5-.6 .5-.2 .5-.4 .5 1.3 .5-.4 .5-.4 .5 .9 .5-.6 .5 .3 .5-.4 .5 .5 .5-.8 .5 .4 .5 .3 .5-.5 .5 .2 .5 .7 .5-.6 .5 .8 .5-.3 .5-.2 .5-.8 .5 1.7 .5-0 .5-.6 .5-.1 .5-0 .5-.3 .5 .1 .5 .4 .5-1 .5 .8 .5 .2 .5-1.1 .5 .6 .5-.5 .5 .1 .5 1.1 .5-1 .5 2.1 .5-1.5 .5-.3 .5 .3 .5 .1 .5 .2 .5 0 .5 0 .5 .5 .5 0 .5-.6 .5 .2 .5-.6 .5 .1 .5 .1 .5 1 .5-1.1 .5 .5 .5-.1 .5 .4 .5-.7 .5 .1 .5 .8 .5-.4 .5-.5 .5 1 .5-.6 .5-.3 .5 .8 .5 .4 .5-1.1 .5-.4 .5-.7 .5 2.3 .5-1.3 .5 .1 .5-.3 .5 .4 .5-.4 .5 1.4 .5-.5 .5-.6 .5-.4 .5 1 .2-.8 .3 1.2 .5-.6 .5-.1 .5-.7 .5 .8 .5-.8 .5 1.4 .5-1.8 .5 .9 .5 1.5 .5-1.5 .5 .6 .5 .2 .5-.3 .5-.3 .5 .6 .5 .1 .5-.9 .5 1.2 .5-.2 .5-1.2 .5 .8 .5 0 .5-.2 .5-.4 .5-.3 .5 .9 .5-1.1 .5 .6 .5-.8 .5 .7 .5 .5 .5-.9 .5 1.2 .5 .1 .5-.3 .5 .2 .5 .4 .5-.4 .5-1.3 .5 .9 .5-.4 .5 .5 .5-1 .5 1 .5-.2 .5 .5 .5-.8 .5 .3 .5-1 .5 1.1 .5 .1 .5-.7 .5 .7 .5-.7 .5 1 .5-.7 .5 .2 .5 1.1 .5-.6 .5 .5 .5-.2 .5-.6 .5 .9 .5-.7 .5-.2 .5-.2 .5-.4 .5 1 .5-.5 .5 .4 .5-.3 .5 .4 .5-.6 .5 .4 .5 .5 .5 .1 .5-.7 .5-.5 .5 1.3 .5-.1 .5-1 .5 1.1 .5-.4 .5-.8 .5 .5 .5-.7 .5 .5 .5-0 .5 .1 .5 .7 .5-1.4 .5-.9 .5 2.1 .5-.6 .5 .7 .5-.1 .5 .5 .5-2 .5 1.9 .5-.8 .5-.3 .5 1.1 .5-.1 .5-1.5 .5 .5 .5 1.1 0-1.6 .5 1 .5 .1 .5-.4 .5-.2 .5 .7 .5-.6 .5-.4 .5 .9 .5-1.2 .5 .5 .5 .5 .5-1.1 .5 1.6 .5-.7 .5-.2 .5-.6 .5 .7 .5-.4 .5 .4 .5-.6 .5 .4 .5-1 .5-0 .5 .3 .5-.7 .5 .9 .5 .1 .5-1 .5 .8 .5-.3 .5-.1 .5 1 .5-.9 .5 .1 .1-.3 .4 0 .5 .2 .5-0 .5-.2 .5 .6 .5-.8 .5 0 .5 .9 .5-.9 .5 .3 .5-.2 .5-.7 .5 .8 .5-.6 .5-.2 .5-.1 .5 .1 .5 .1 .5-1.7 .5 1.8 .5-1.9 .5 .4 .5 .9 .5-.5 .5 .4 .5-1.1 .5 .7 .5 .2 .5-.7 .5 0 0 .5 .5 .2 .5-1.6 .5 1.2 .5 .4 .5 .8 .5-1.4 .5 .8 .5-.5 .5 .2 .5 .3 .5 1.5 .5-.5 .5 .4 .5-.4 .5 .8 .5-.4 .5 .5 .5-1.1 .5 .5 .5 1 .5 .9 .5-0 .5-1.6 .5 .5 .5 0 .3 1.6 .2-1.8 .5 .6 .5 .5 .5-.3 .5-1 .5 1.8 .5-2.2 .5 1.3 .5-.4 .5-.5 .5 .6 .5-0 .5-.5 .5 .4 .5 .2 .5 .2 .5-1.3 .5 .9 .5 .4 .5 .5 .5 .1 .5-1.6 .5 .7 .5 .4 .5 .3 .5 .6 .5-1.1 .5-.5 .5 .7 .5 .1 .5-.5 .5-.1 .5 .8 .5-1 .5 .4 .5 .5 .5-.1 .5-0 .5-.6 .5-1.4 .5 1.5 .5 .8 .5 .2 .5 .3 .5-.5 .5 .5 .5-.8 .5 .2 .5 1 .5-1.6 .5 .1 .5 1 .5-.2 .5-1.4 .5 1.7 .5-1.2 .5 .1 .5 .9 .5-.3 .5 .1 .5 .5 .5-.3 .5-1.9 .5 1.6 .5 .2 .5-.4 .5-.1 .5 .3 .5-0 .5-.2 .5-0 .5-.6 .5 .7 .5-.5 .5 .9 .5-.7 .5 0 .5-.5 .5 .6 .5 .5 .5-1 .5 1.3 .5-.6 .5-.2 .5 .6 .5-.2 .5-1.3 .5 1.6 .5-.2 .5-.3 .5-1.7 .5-.4 .5 1.1 .5 1.5 .5 0 .5-.4 .5-.1 .5-1.2 .5 1.2 .5-.5 .5 .5 .5-.5 .5 1 0-.6 .5 .4 .5-.2 .5-.4 .5-.4 .5 .1 .5 .2 .5 .6 .5 1.1 .5-.9 .5-.3 .5 .6 .5-1.1 .5 .8 .5-0 .5-1.4 .5 1.4 .5-.5 .5 .3 .5-.1 .5 .2 .5-.5 .5 1 .5 0 .5-1 .5 .6 .5-.2 .5 .9 .5-1.2 .5 .5 .5-.1 .5-.7 .5 1.4 .5-.4 .5-.9 .5 1.2 .5 .1 .5-1.4 .5 .7 .5-0 .5 0 .5 .1 .5-.2 .5-.7 .5 1 .5-.7 .5 .4 .5 .6 .5 .8 .5-.3 .5-1.1 .5 .3 .5 .9 .5-.5 .5 .2 .5-.9 .5 .8 .5 0 .5 .5 .5 .2 .5-1.3 .5 1.1 .5-.9 .5 .2 .5 .8 .5-.7 .5 .2 .5 .6 .5 .4 .5-.9 .5-.9 .5 .7 .5-.5 .5 .1 .5 .5 .5-.4 .5 .2 .5-.1 .5-0 .5-1 .5 .9 .5 .1 .5 .9 .5-.4 .5-.3 .5-.4 .5 .6 .5-1.1 .5 1.2 .5-.8 .5 .1 .5 1 .5-.6 .5-.1 .5-.6 .5 1.4 .5-2.1 .5 1.7 .5-.1 .5 .1 .5-.6 .5-.2 .5 1.5 .5-.7 .5 .3 .5-1.4 .5 1.5 .5 .3 .5-.4 .5-1.4 .5 .3 .5-.8 .5 1.6 .5 .4 .5-.4 .5-.4 .5-.2 .5 1 .5-1.1 .5 1.7 .5-.8 .5 .5 .5-.6 .5-.2 .5 .4 .5-.7 .5 .3 .5 .1 .5-.5 .5 .8 .5-.9 .5-.4 .5 .9 .5 .1 .5-.1 .5 .2 .5 .1 .5 0 .5-.1 .5-0 .5-.9 .5 1.2 .5 .3 .5-.8 .5-.2 .5 1 .5-.8 .5 .4 .5 .2 .5 .4 .5 1.1 .5-1.8 .5-1.7 .5 1.9 .5-.5 .5 .8 .5-.1 .5 .3 .5-.5 .5 .5 .5-.8 .5 .8 .5-1.1 .5 .1 .5 .5 .5 .4 .5-.9 .5 .6 .5 .3 .5 .1 .5-1" fill="none" stroke="#0000ff" stroke-width="6.7" stroke-linejoin="round" stroke-linecap="butt" clip-path="url(#clipLo)" />
<path d="M379.5 1086.8l.5-.6 .5 1.2 .5 .7 .5 .8 .5-1.2 .5-.7 .5-.3 .5 1.7 .5 1 .5-1.6 .5-1.7 .5 .3 .5 2.9 .5-1.6 .5-2.2 .5 1.9 .5-1.2 .5 .5 .5 .2 .5-.3 .5 1.5 .5-.7 .5-.6 .5 1.1 .5 .5 .5-2.8 0 1.6 .5-.9 .5 1 .5-1.3 .5 1.5 .5-0 .5-.3 .5-.8 .5 .7 .5-.7 .5-.3 .5 1.8 .5-1.5 .5 2.6 .5-.5 .5-3 .5 2.6 .5-1.5 .5 1.3 .5 0 .5-2.3 .5 2 .5 0 .5 1.4 .5-2.4 .5 2.2 0-2.1 .5 .9 .5-.6 .5 2.6 .5-1 .5 2 .5-2 .5 .2 .5-0 .5-1.7 .5 .6 .5 1.5 .5-2 .5 .7 .5-.3 .5 .6 .5-1.1 .5 .2 .5 .4 .5-.2 .5-1.2 .5 2 .5-2.6 .5 .1 .5-.1 .5 2.5 .1-1.5 .4-.8 .5-.2 .5 1.7 .5-1.7 .5-.4 .5 2.1 .5-2.1 .5 .9 .5 .3 .5-.6 .5 .4 .5 1.5 .5-2.2 .5-.9 .5-.8 .5 1.8 .5-.3 .5 .7 .5-.9 .5-.1 .5-.4 .5 .1 .5 .7 .5-.7 .5 .5 .1 2.1 .4-1.7 .5-2.5 .5 3.8 .5-1.7 .5-1.5 .5 2 .5-1.1 .5-.8 .5-.1 .5-.4 .5 1.1 .5 1.1 .5-1.7 .5 .8 .5 1.6 .5-3.6 .5 1.6 .5-.7 .5-1 .5-0 .5 1.1 .5 .4 .5-1.2 .5 .6 .5 .7 .1-.5 .4 .5 .5-.5 .5-.1 .5 1.4 .5-1.5 .5-.7 .5 .5 .5-2 .5 .5 .5 1.2 .5-.4 .5 .9 .5-1.9 .5-1.9 .5 3.8 .5-1.2 .5-2.7 .5 2.7 .5-1.7 .5-2.4 .5 1.5 .5-.2 .5 2.3 .5-3 .5 .5 .1-.1 .4-.2 .5-.8 .5 1.2 .5 .9 .5-.7 .5-2 .5-.4 .5 1.4 .5-1.1 .5-.1 .5-1.4 .5 4.2 .5-1.4 .5-2.4 .5 2.2 .5 .3 .5-4.6 .5 2 .5 .1 .5 1.1 .5-1.1 .5-.3 .5 0 .5 2.2 .5 .2 .2-3.3 .3-.7 .5 4.3 .5-4.7 .5 .3 .5 .6 .5 .3 .5 .5 .5-1 .5-1.8 .5 1.5 .5-.6 .5 1.8 .5-2.5 .5-1.9 .5 .1 .5 2.9 .5-2.7 .5-2.2 .5 1.6 .5 .5 .5 1.3 .5-3.1 .5 1.9 .5-.1 .5-2.1 .2 .5 .3 2.3 .5-.3 .5-1.3 .5-1 .5 .8 .5-2 .5-.2 .5-1.3 .5 .9 .5-.4 .5 3.3 .5-4.1 .5 1.6 .5-.2 .5-2.3 .5 1.4 .5-4.7 .5 2.7 .5 .7 .5-4.6 .5 1.3 .5 2.6 .5-2 .5-1.5 .5 .7 .2-.4 .3 1.5 .5-.6 .5-1.3 .5-.9 .5 .5 .5 1.6 .5-1.7 .5 .1 .5-1.4 .5-1.9 .5 .5 .5 1.6 .5-1.1 .5-1.7 .5-1.3 .5 2 .5-.9 .5-.4 .5-.3 .5 .5 .5-.3 .5 .6 .5-.4 .5 .3 .5-1.1 .2-1.8 .3 .3 .5 .4 .5-1.5 .5 .9 .5 .5 .5-3.1 .5-1.7 .5 3.9 .5-2.1 .5 .7 .5-3.3 .5 4.1 .5-1.8 .5-1.6 .5-.7 .5 .3 .5-.7 .5-.5 .5-1.6 .5 3.1 .5-2.3 .5-.2 .5-.3 .5-4 .5 3.9 .3-1.5 .2-.1 .5 .2 .5-2 .5 2.4 .5-2.7 .5-.8 .5-.3 .5 1.1 .5 .5 .5-2.4 .5-1.8 .5 3.5 .5-3.7 .5 3.1 .5-2.4 .5-1.4 .5-.3 .5 1.3 .5 .3 .5-2.1 .5 1.4 .5 1.4 .5-4 .5-1.9 .5-.2 .3-.8 .2 1 .5-.5 .5-1.3 .5 2.6 .5-5.4 .5 1.7 .5 5 .5-1.9 .5-1.2 .5-.5 .5 1.8 .5-2.3 .5-1.1 .5-2.5 .5 1.5 .5-1.4 .5-.3 .5-.3 .5 .7 .5-.8 .5 1.6 .5-3.9 .5 1.6 .5 3 .5-3.4 .3 1.7 .2-.2 .5-0 .5-1.3 .5-3.9 .5 1.5 .5-.5 .5-2.3 .5 1.5 .5-1.7 .5-1.1 .5 2.9 .5-.8 .5-1.4 .5-.8 .5 .4 .5-.1 .5-.4 .5 .3 .5-.9 .5 1.1 .5-.1 .5-.6 .5-2.1 .5-.2 .5 1.6 .3-1.3 .2 .1 .5-4.5 .5-.7 .5 5.1 .5-.3 .5 1.5 .5-1.4 .5-1.2 .5-.6 .5-2.9 .5 3.9 .5-2.9 .5 1.7 .5-.8 .5-.2 .5 .9 .5-2.7 .5-.1 .5-1.1 .5 .7 .5 3.4 .5-3.8 .5 2.6 .5-.9 .5-.3 .4 0 .1-3.3 .5 2.3 .5 2 .5-4.3 .5 1 .5-1.3 .5 1.6 .5-2.7 .5 4.8 .5-3.8 .5-2.3 .5 5.9 .5-1.6 .5-1 .5-.1 .5-1.8 .5 .2 .5 1.6 .5 .2 .5-0 .5-1.4 .5-1.3 .5 .4 .5 2.4 .5 .6 .4-3.3 .1-.3 .5 3.2 .5-.9 .5-.1 .5-3.7 .5 1.8 .5-.3 .5 1.4 .5-3.5 .5 5.5 .5-1.8 .5 .3 .5-3 .5 2.2 .5 2.5 .5-5.3 .5 3.5 .5 .7 .5-2.5 .5 2.8 .5-2 .5 2.9 .5-1.3 .5-.5 .5 3.3 .4-2.1 .1 .9 .5-4.6 .5 1.1 .5 2.8 .5 .2 .5-1.7 .5 1.6 .5-3.3 .5 2.5 .5-2.4 .5 2.8 .5-1.3 .5-.2 .5 1.4 .5 3.4 .5-5 .5 .9 .5 3.1 .5-2.5 .5 4.1 .5-2.6 .5-.1 .5 .6 .5 2.7 .5-1.8 .4-.1 .1-.4 .5-3.1 .5 1.4 .5 4.4 .5-1 .5-.4 .5 .5 .5-1.9 .5 1.8 .5-2 .5 2.6 .5-1.8 .5 1.2 .5 1.4 .5-1.1 .5 2 .5-.1 .5 .1 .5 2 .5-4.6 .5 .1 .5 4.1 .5 .9 .5 2.2 .5-1.9 .4 .4 .1-3 .5 3.2 .5 .2 .5-2.6 .5 .6 .5 1.8 .5 1.1 .5-5.2 .5 5.6 .5 .7 .5-.3 .5 1.2 .5 .8 .5-2.1 .5 2.9 .5-.7 .5-.7 .5 2.3 .5 2.6 .5-4.5 .5 0 0 .1 .5 6.4 .5-3.2 .5 .8 .5-.6 .5 .2 .5-1.3 .5 4.1 .5 .5 .5-3.3 .5 1.7 .5 .6 .1 1.1 .4 .4 .5 1.4 .5 .3 .5-.7 .5 .2 .5-4.3 .5 .7 .5 2.4 .5-1.7 0-.5 .5-3.9 .5-.9 .5 3 .5-2.3 .5-2.8 .5-2.1 .1-2.8 .4 1.8 .5-2 .5-2.4 .5-6.2 .5-3.1 .1-2.2 .4 3 .5-.7 .5-6 .5 .6 .5-.9 .1-1.3 .4-3.3 .5 5.7 .5 4.3 .5-.8 .5 4.4 .3-2.6 .2 10 .5 3.6 .5 4.9 .5 4.6 .1 .6 .4 3.5 .5 3.1 .5 3.1 .5 2.5 0 .3 .5 3.5 .5-3.2 .5 3.7 .5-.3 .5 .1 .5-1 .5 5 .3-1.9 .2 .6 .5 2.3 .5-1.7 .5 2.1 .5 .4 .5 1.6 .5 .8 .5-2.3 .5 2.9 .5-1.1 .5 .7 .5-.1 .5 1.7 .5-2.4 .5 2.5 .5 1.6 .5-1.6 .5 3.6 0-3.7 .5 1.7 .5-.5 .5 .4 .5-.2 .5 1.3 .5 1.2 .5-.4 .5 2.8 .5 1.4 .5-3.5 .5 3.6 .5-.3 .5 .6 .5 3.4 .5-1.1 .5-.7 .5 .3 .5-2.6 .5 4.2 .5-1.6 .1 1.3 .4 .2 .5 1.4 .5 1.7 .5-1 .5 .7 .5-1.7 .5 1.2 .5 .7 .5-2.6 .5 4.7 .5-3.2 .5-.5 .5 4 .5 .8 .5-3.2 .5 .3 .5 5 .3-3.6 .2-2.6 .5 2 .5 3.5 .5-1.4 .5 .4 .5 .9 .5-.5 .5-1 .5-1.3 .5 2.8 .5-1.7 .5 1.6 .5 2.4 .5-1.2 .5-.4 .5 .3 .5 1 .5 .5 .1-2.7 .4 2 .5 2.2 .5-.9 .5-1.6 .5 .4 .5-1.4 .5 1.7 .5 3 .5-2 0-.9 .5-0 .5-.2 .5-1 .5-1.5 .5-1.5 .5 1.1 .1 1 .4-2.9 .5-.3 .5 1.8 .5-3.5 .5 1 .1 .3 .4 .8 .5-.1 .5 0 .5 2.5 .5-.7 .1-.4 .4 .8 .5 5.6 .5-.6 .5 4.3 0 .3 .5 1.3 .5-.2 .5 .5 .5 1.5 .5-.2 .5-.2 .1 2.9 .4-2.1 .5 3.4 .5-1.1 .5-.8 .5 1.2 .5 1.1 .5-2.6 .5 .7 .5 0 .5 1.6 .5 .4 .5-.2 .5-.6 .5 .5 .5 2.1 .1-0 .4-.9 .5-1.3 .5 2.4 .5-0 .5 .2 .5 2 .5-.7 .5-1.6 .5 .3 .5 2.9 .5-.9 .5 1 .5-.7 .5-.6 .5 1.7 .5 1.7 .5-1 .5-1.3 .5 1.2 .5 .1 .2 .8 .3 1.1 .5 1.3 .5-1.5 .5-.4 .5 .9 .5 .3 .5-.2 .5 .8 .5 .3 .5-1 .5 2 .5-.7 .5-.5 .5 1.6 .5-.9 .2 2.3 .3-1.3 .5-.5 .5-.9 .5 .3 .5 1.2 .5-1.6 .5 1.3 .4-3 .1 2.4 .5 .5 .5-.7 .5-.6 .5 .8 .5-2.2 .5-.4 .5 .7 .5 .8 .5-1.2 .5-1 .5 .1 .5-.3 .5-2.2 .5-2.1 .5 1.3 .5-1.1 .5 .3 .5-1.4 .3-.2 .2 1.1 .5-1.3 .5-1.1 .5 .6 .5-3.6 .2-.5 .3 .9 .5-4.4 .5-2.7 .5 1.1 .2-2.2 .3-1.5 .5-3.5 .5-3.9 .5-6.4 .2-1.4 .3-4.1 .5-2.9 .5-4.8 .5-6.5 .5-4.9 .5-4.3 .5-19.6 .5-12.8 .1-2.8 .4-11.8 .5-19.3 .5-11.4 .2-7.8 .3-11.7 .5-17.4 .5-17.6 .1-2.6 .4-19.7 .5-24.9 .4-28.4 .1-3.3 .5-35.9 .5-29.5 .5-19.2 .1-2.3 .4 7.6 .5 31.3 .5 39.2 .2 16.3 .3 18 .5 30.8 .2 16.7 .3 23.3 .3 27.5 .2 35.1 .1 16.6 .4 30.8 .4 31.7 .1 3.5 .3 13 .2 3 .5 10 .3 3.9 .2 .2 .5 5.4 .5 3.2 .5 4.5 .1-1.1 .4-1 .5 3.7 .5 1.2 .5 .6 .5 .9 .5 1.8 .5 .9 .5 .6 .5-.6 .5 1.3 .5-.5 .5 .7 .5 1.4 .1-.3 .4 1 .5 3.2 .5-1.2 .5-.7 .5-.6 .5 1.7 .5-.1 .5-.2 .5 3 .5-.6 .5 1.1 .5 2.7 .5-2 .5 .2 .5 .5 .5-.2 .2-.3 .3 .7 .5 1.4 .5-.8 .5-.7 .5 .4 .5 .4 .5 1.1 .5 .7 .5 .2 .5 .8 .5-.9 .5 1.1 .5-.2 .5 .6 .5-1.9 .5 2.8 .3-2.1 .2 .4 .5 1.9 .5-.7 .5 2 .5-1 .5-.7 .5 1.2 .5-.1 .5 1.8 .5 .3 .5-.4 .5-.6 .5 .7 .5 1 .5-1.2 .5 .3 .5 1.6 .5 .1 .5-.5 .5 .3 .5-1.1 .5 2.7 .5-.8 .5-.7 .5 .4 .5 .4 .5 2.2 .5-.5 .5-1.4 .1 2.5 .4-.2 .5-1.7 .5-1.1 .5 3 .5-1 .5 .5 .5-.1 .5 1.5 .5 .3 .5-.4 .5-.6 .5 .5 .5 .4 .5-1.5 .5 2.3 .5-1.1 .5 .6 .5 .1 .5 .7 .5 .2 .5 1 .5-1.8 .5-.2 .5 .9 .5-.5 .1 1.2 .4-1.2 .5 .9 .5 .7 .5 .2 .5-.4 .5 1 .5 .1 .5-2.1 .5 1.7 .5 0 .5-.2 .5-.1 .5 .7 .5 .4 .5 0 .5 1 .5-.2 .5-1 .5-.1 .5 1.3 .5-1 .5 .7 .5 .3 .5 .5 .5-.4 .1 .7 .4-1.3 .5 .8 .5-.9 .5 .7 .5-0 .5-.8 .5-1.2 .5 2.7 .5-.4 .5-.2 .5-.5 .5 .3 .5 .6 .5-.3 .5 .8 .5-.7 .5-.7 .5 1.1 .5-.9 .5 .6 .5-1.4 .5 1 .5 .7 .5-.9 .5 .5 .1 .4 .4-.4 .5 1.2 .5-1.6 .5-.1 .5-.2 .5-1.6 .5 .1 .5 1.2 .5-.9 .5 1 .5-1.3 .5-.3 .4 .8 .1-.6 .5 .7 .5-2.2 .5 .9 .5 0 .5-.2 .5 .3 .5-.2 .2-.7 .3-.4 .5 1.5 .5-.3 .5 1.3 .5 .9 .5-.4 .5-.4 .5 .8 .5 1 .5-.5 .5 1.3 .5-.6 .5 .4 .5-.3 .5 .6 .5 1.1 .5-.8 .5 .2 .5-.1 .5 1.3 .5-1.5 .5 .8 .5 1.3 .5 .5 .5-1.1 .5 1 .5-2 .5 2 .5-.2 .5-1.1 .5-.3 .5 .9 0 .5 .5 .1 .5-.3 .5 .3 .5-.2 .5-1.7 .5 .4 .5-.3 .5 .8 .5-1.3 .5 .8 .5-.9 .5 1.4 .3-1.8 .2-0 .5-.3 .5 .1 .5 1.4 .5-2.3 .5-.4 .5 .3 .5 .5 .5-1.3 .5 1.1 .5-.1 .5-.8 .5-.1 .5-.5 .5 .4 .3-.4 .2 1.5 .5 .4 .5-1.3 .5 .5 .5-1 .5 1.4 .5 1 .5 .4 .5 .4 .5 1 .5-.1 .5 0 .5 1.8 .1-2.4 .4 .8 .5 .7 .5 .4 .5 .3 .5 .8 .5 .1 .5 .8 .5 .8 .5 0 .5 .4 .5-.4 .5 .2 .5 .8 .5 1.1 .5-.2 .1 .5 .4 0 .5 .3 .5-1.2 .5 1.5 .5-.2 .5 1 .5-.9 .5-.1 .5-.2 .5 .3 .5-1.2 .5 1.1 .5 .2 .5 .7 .5-1 .5 .6 .5 1.2 .5-1.5 .5 1 .5-.9 .1 .3 .4 .5 .5 .3 .5-.8 .5-.3 .5 1.7 .5-.8 .5 .5 .5 .1 .5 0 .5-.6 .5 .1 .5-.8 .5 1.2 .5-.4 .5 .3 .5 1.4 .5-.8 .5-.4 .5-.9 .5 1.5 .5 .5 .5-1.5 .5 .8 .5-.6 .5 .3 .1-.2 .4-.8 .5 .7 .5-.8 .5 2 .5-.3 .5-.7 .5 .1 .5-.2 .5 0 .5-0 .5-.4 .5-0 .5-.9 .5 .1 .5 .2 .5 .5 .5-.5 .5 1.4 .5-1.4 .5-.2 .1 .5 .4 .3 .5 .5 .5-.7 .5-1.1 .5 .1 .5 .7 .5-.6 .5 .3 .5-.7 .5 1 .5-.2 .5-.3 .5-.7 .5-1.2 .5 .2 .2 1.1 .3 .2 .5-2.3 .5 1.7 .5 1.2 .5 0 .5-.7 .5 .9 .5-.2 .5 .1 .5 1.1 .5 .2 .5-.8 .5-.1 .5-.1 .5 .1 .2 1.8 .3 .5 .5-1 .5 .7 .5-1 .5 .6 .5 .7 .5-.2 .5-.1 .5-.9 .5 .2 .5 .8 .5 .1 .5 .4 .5-.3 .5 .4 .5 .3 .5 .4 .5-.2 .5-.3 .5 .2 .5 .8 .5-.6 .5-.5 .5 0 .5 .9 .2 .1 .3 .5 .5-1 .5 1 .5-1.1 .5 0 .5-.2 .5 .6 .5 .3 .5-.8 .5-.4 .5-.7 .5 1 .5-.4 .5-0 .5-.4 .5-.3 .5 .2 .5 .5 .5 .2 .5-.7 .5 .1 .5-.4 .5-.1 .5-.9 .5 1.4 .2-.2 .3 .5 .5-1.5 .5 .4 .5-.8 .5 .7 .5-.4 .5 .4 .5-.7 .5 .4 .5-.9 .5 .6 .5-.7 .5-.2 .5 .2 .5 .1 .5-1.3 .5-.2 .5 1 .5-.2 .5-1.4 .5 .1 .5 .6 .5 .6 .5-.1 .5 .6 .2 .1 .3 .7 .5-2.4 .5 .9 .5 .8 .5-1.5 .5 0 .5 1.2 .5 .6 .5 .2 .5-1.9 .5 .4 .5 .7 .5-.2 0 .5 .5-.1 .5 1.1 .5-1.3 .5 .2 .5-.1 .5 .7 .5-1.5 .5 .9 .5-.8 .5-.4 .5 1.6 .5-.4 .5 .5 .5-.8 .5 .2 .5-.3 .5 .2 .5-.7 .5 1.4 .5-1.7 .5 1.7 .5-1.3 .5 .7 .5-.5 .5 .2 0 .7 .5-.9 .5-.7 .5 .8 .5 .4 .5-2 .5 2.4 .5 .1 .5-1.8 .5 1.2 .5 .8 .5-1.2 .5 .6 .5 .2 .5 .8 .5 .5 .5-.6 .5 .1 .5 .7 .5-.1 .5-.3 .5 1.1 .5-1.7 .5 1.1 .5-.3 .5-0 0 .4 .5-0 .5 1.6 .5-1.1 .5-.2 .5 .9 .5-.3 .5-1.9 .5 1.4 .5 .4 .5-.8 .5 .6 .5-.5 .5 .6 .5-1.3 .5-.2 .5 1 .5 .5 .3 .7 .2-1.1 .5-.3 .5 1.1 .5-.6 .5 1.1 .5-1.3 .5-1.2 .5 .7 .5-.2 .5-.3 .5 .3 .5-0 .5 .2 .5-.3 .5 .6 .5-.1 .5-.3 .5-.1 .5-1.4 .5 0 .3 .5 .2 .7 .5-1.3 .5 .6 .5 .3 .5 1 .5-1.4 .5-.7 .5 .9 .5-.8 .5-.6 .5 .8 .5-1.6 .5 .6 .5-.2 .5 .4 .3-1.4 .2-.2 .5 .6 .5-0 .5 .1 .5-.4 .5 .5 .5 .1 .5-.4 .5-.9 .5 1.5 .4-1.8 .1 .9 .5 .8 .5-.9 .5 1.6 .5 .7 .5 0 .5-.4 .5 .8 .5-.7 .5 1 .5 .4 .5 .1 .5 .2 .5-0 .5-1.1 .4 1.6 .1-0 .5 1.1 .5-.9 .5-.5 .5 .5 .5-.2 .5-.5 .5-.3 .5-.8 .5 1 .5 .9 .5-2.4 .5 .5 .5 1.1 .5-.5 .5 .1 .5-1.6 .5 .8 .5 .7 .5-0 .5-.2 .5-.9 .5 1 .1-1.2 .4 .2 .5-.2 .5 1.8 .5-1.3 .5 .4 .5-1.6 .5 2.3 .5-.5 .5-1.4 .5 0 .5 2.2 .5-1.7 .5 1.9 .5-1.6 .5-1.4 .5 2.5 .5-.4 .4 .1 .1-.8 .5 .2 .5 .8 .5-1.1 .5-.7 .5 2 .5-1 .5 1.4 .5-1.1 .5 .2 .5 .2 .5-1.2 .5 2.5 .5-1.1 .5 .4 .5 1.3 .5-.8 .5 .7 .5-.3 .5 .4 .5-.2 .5 .7 .5-.8 .5 .5 .5-.7 .4 1.3 .1-2.2 .5 1.6 .5 .2 .5-0 .5-.2 .5 .9 .5 .6 .5-1.8 .5-.8 .5 .5 .5 .2 .5 .5 .5 .1 .5 .8 .5-1 .5 .3 .5 .1 .5-.6 .5 .4 .5 2 .4-1.8 .1-.6 .5-.8 .5 2.2 .5-.9 .5-.2 .5 2.1 .5-.7 .5-2 .5 .9 .5 .9 .5-0 .5-1.3 .5 1.9 .5 .1 .5-1.9 .5-.4 .5 .2 .5 1.4 .5 .3 .5-.6 .5-.4 .5 .3 .5 .5 .5-1.2 .5-.3 .5 1.1 0 .9 .5-.7 .5 0 .5-.5 .5 1.1 .5-1.7 .5 1.1 .5-.3 .5 .3 .5-.5 .5 1.2 .5-.5 .5-.4 .5 .8 .5-.3 .5-.3 .5-0 .5 .9 .5-1.1 .5 .5 .5-0 .5 .4 .5-.4 .5 1.6 .5-2.6 .5 1.6 0-.4 .5 .7 .5-1.8 .5 1.8 .5-1.7 .5 1.3 .5-.1 .5-.4 .5-.5 .5-.1 .5 .5 .5-.6 .5-.9 .5 .1 .5 1.6 0-0 .5-.4 .5-.8 .5-.5 .5-.7 .5-1 .5-1.6 .5-.9 .5-1 .5 .3 .5-1.2 .4 .5 .1 1 .5-1.1 .5 1 .5 .6 .5-2.1 .5 .6 .5 1.6 .5-.5 .5 1.2 .5 .5 .5-.4 .5 1.2 .5 .9 .5-.2 .5-1 .5 .7 .5-.1 .5 1.5 .2-1.2 .3-.3 .5 .5 .5 .3 .5-.6 .5 .3 .5-.1 .5 .5 .5 .2 .5-.5 .5-.5 .5 .6 .5-.8 .5 1.3 .5-.5 .5-.1 .5-1.8 .5 3.2 .5-.6 .5-.1 .5-.8 .5 .4 .5 1.5 .5-2.4 .5 1 .5-.1 .5-.3 .5 .1 .5-.9 .5 1.1 .5-1.3 .5 2.1 .5-.7 .5-1.1 .5-.8 .5 1.5 .5 .2 .5-1 .5 1.8 .5-.9 .5-.5 .5-.6 .5 .8 .5-0 .5 .5 .5 .3 .5-.7 .5 .3 .5 .7 .5-.6 .5-.6 .5 .6 .5-.7 .5 .6 0-.3 .5-.7 .5 1 .5-.4 .5 .3 .5-1.5 .5 1.5 .5-.1 .5-1.2 .5-0 .5-.2 .5-.2 .5 .3 .5-1.3 .5-.5 .5 .3 .5 1.2 .5-1.8 .5-.6 .5-.2 .5 .5 .5 .5 .5-1.5 .5 .4 .5-.2 .5 .1 .5-.4 .5 .5 .5-.3 .5-.9 .5 2 0-2.6 .5 .1 .5 1.6 .5-.5 .5-.3 .5 .4 .5 .4 .5-.7 .5-.1 .5-.1 .5 .2 .5 .1 .5 1.5 .5-.5 .5 .3 .5-.6 0 1.1 .5-1.6 .5 1.6 .5 .5 .5-.5 .5 .2 .5 1.5 .5-.3 .5 .4 .5 1.1 .5-.1 .5 1.2 .5 2 .5-1.1 .5 1.5 .5-.8 .5 1.2 .5 .2 .5 .4 .5 .9 .5 1.1 .1-1.4 .4 1.1 .5-.5 .5 .4 .5-.6 .5 0 .5 .5 .5-.2 .5 .6 .5-.5 .5 .8 .5 .2 .5 1.2 .5 .1 .5-.7 .5-.5 .5 .8 .5 .2 .5-.5 .5-.3 .5-.5 .5 1.2 .5 1.3 .5-1.2 .5 .4 .5 .1 .5 .2 .5 .2 .5-1.6 .5 1.2 .5 .4 .5-.2 .5 .9 .5-.9 .5 .8 .5 .6 .5-1.2 .5 .3 .5-.2 .5 .8 .5-1.8 .5 .5 .5 .8 .5 .8 .5-.1 .5-.8 .1 1.5 .4-.9 .5-.4 .5 .8 .5 .5 .5-.8 .5-.8 .5 .7 .5 .4 .5 .6 .5-1.2 .5 .9 .5-.9 .5 .9 .5-.8 .5 .6 .5-.7 .5 .4 .5-.3 .5-.2 .5 2.1 .5-0 .5-.4 .5-.5 .5 1.2 .5-1 .5 .4 .5 .5 .5-.5 .5 .8 .5-.9 .5 0 .5 .2 .5-.7 .5 .1 .5 1.2 .5-1.5 .5 1.8 .5-.5 .5 .6 .5-.2 .5-.1 .5 .8 .5-1.1 .5-0 .5 .8 .5-1.1 .5 1.2 .5-.3 .5-.7 .5-.4 .5-.4 .5 2.4 .5-2 .5 .2 .5 1.3 .5-.2 .5-.1 .5-.1 .5-.3 .5-.2 .5 .1 .5 .9 .5 .3 .5 .1 .5-.7 .5-1.3 .5 1.7 .5-.4 .5-1.5 .5 2.5 .5-.6 .5-.2 .5 .2 .5 0 .5 .1 .5-0 .5-0 .5 .3 .5-.1 .5 1.3 .5-1.3 .5-.4 .5 0 .5 .7 .5-.2 .5 .1 .5-.2 .5 .1 .5 .6 .5 .4 .5-.6 .5-.2 .5-.6 .5-0 .5 .8 .5-.2 .5 .2 .5-.6 .5 .6 .5-1 .2 .4 .3 .3 .5 .9 .5-.7 .5-.2 .5 .8 .5-.2 .5 .7 .5-.3 .5-.1 .5-.2 .5 .6 .5-.8 .5-.5 .5 1.6 .5-.8 .5 .3 .5 .4 .5 .3 .5-2.3 .5 1.1 .5 1.5 .5-1.8 .5 1.4 .5-.5 .5-.2 .5 .5 .5-.9 .5 1.3 .5 .5 .5-1.5 .5 .5 .5 1.1 .5-.4 .5-.4 .5 1.1 .5-1.8 .5 .9 .5 .2 .5-.2 .5 .7 .5-1.4 .5 1.1 .5-.5 .5 1.3 .5-.1 .5-1 .5-.2 .5 .7 .5-.5 .5 .3 .5 .6 .5-.5 .5 1.4 .5-1 .5-.3 .5-.3 .5 .4 .5 1 .5-.3 .5 .6 .5-0 .5-.4 .5-.8 .5 .4 .5 .2 .5-1 .5 1.2 .5-.7 .5 .6 .5-.3 .5 .8 .5 1.2 .5-2.2 .5 .7 .5 1.3 .5-1.7 .5 .4 .5 .1 .5 .3 .5-1.1 .5 1.2 .5 .2 .5 1.2 .5-1.5 .5-.3 .5 .5 .5-1.6 .5 1.8 .5 .8 .5-.9 .5-0 .5-.1 .5 .3 .5-.8 .5 1.7 .5-1.2 .5 .1 .5 1.3 .5-1 .5-.2 .3 1.3 .2-.9 .5 .5 .5-.9 .5-.6 .5 1.2 .5 .8 .5-1.1 .5 .5 .5 .2 .5-.2 .5-.1 .5 .5 .5-.3 .5-.4 .5 1 .5-.1 .5-.3 .5 .3 .5-2 .5 1.8 .5-.1 .5-1.2 .5 2.5 .5-1 .5-.4 .5 0 .5 .5 .5-.2 .5-.9 .5 .8 .5 .5 .5 .2 .5 .1 .5-1.1 .5 .3 .5 .7 .5-.6 .5 .5 .5-.5 .5 .8 .5-.2 .5 .3 .5-.3 .5-.4 .5-.2 .5 .7 .5-.3 .5-.5 .5 .6 .5 .8 .5 .3 .5-.2 .5 .4 .5-1 .5 .1 .5-.4 .5 .1 .5 1.5 .5-.7 .5 .2 .5 1.2 .5-.4 .5-1.6 .5 1.1 .5-1 .5 1.1 .5-1.7 .5 .6 .5 .1 .5 1.7 .5-2.2 .5 1.7 .5 .1 .5-.6 .5 .5 .5 1 .5-1.3 .5-.3 .5 1 .5-.3 .5-1.1 .5 .8 .5 .1 .5-.9 .5 .2 .5 .2 .5-.3 .5 1 .5-.1 .5-1.5 .5 1.1 .5 .4 .5-.9 .5 .7 .5 .3 .5-1.1 .5 .8 .5-1.2 .5 1.9 .5-.9 .4-.4 .1-.2 .5 .1 .5 1.8 .5-1.3 .5 .2 .5 .1 .5-.6 .5 1.3 .5-1.9 .5 2.1 .5-1 .5 .5 .5 .2 .5 .3 .5-1.2 .5 1.1 .5-.4 .5-0 .5-.1 .5 .9 .5-.4 .5 .5 .5-.2 .5-1.7 .5 1.1 .5 .7 .5-1.1 .5-.5 .5-.3 .5 2.5 .5-1.7 .5 .7 .5-.7 .5 .9 .5 .7 .5-1.8 .5 .8 .5-.4 .5-.6 .5 .6 .5 .5 .5 .7 .5 .1 .5-.8 .5-.9 .5 1.3 .5-.3 .5-0 .5-.7 .5 .6 .5 1.2 .5-.2 .5-.2 .5-.3 .5-.6 .4 .2 .1 .1 .5 .1 .5-.6 .5-.4 .5 1 .5-1.2 .5 .5 .5-1 .5 .2 .5-.5 .5-.3 .5-.4 .5-1.5 .5-.7 .5 .4 .5 .6 .5-2 .5-.5 .2 1.8 .3-2.6 .5 .1 .5-.6 .5-.8 .5-.7 .5 .3 .5-1.3 .5-.7 .5-1.9 .5 1 .5-.9 .5-.4 .5 .2 .5-.4 0-.2 .5 .8 .5 .5 .5 1.6 .5 1.8 .5 3.6 .5 1.1 .5 2.2 .5 1.8 .5 1 0-1.3 .5 .5 .5 .1 .5-.7 .5 .6 .5 2 .5-1.6 .5 1.2 .5-.5 .5 .7 .5-.2 .5-.6 .5-.8 .5 1.6 .5-.4 .5-.1 .5 .3 .5-.9 .5 .6 .5-.1 .5-.8 .5 .2 .5 .8 .5-1.2 .5 1.8 .5 .1 0-.4 .5 .3 .5-1.1 .5 1.3 .5 .5 .5 .1 .5 .4 .5-.4 .5 1.4 .5-.7 .5 .3 .5 .3 .5-1 .5-.1 .2 1.1 .3-1.2 .5 .4 .5 1 .5-1.2 .5 .1 .5-.1 .5 .1 .5 1.7 .5-.7 .5 .3 .5-1.7 .5-.2 .5 .7 .5 1.3 .5 .1 .5-1.8 .5 .1 .5 1.5 .5-.3 .5 .2 .5 .1 .5-.9 .5 .6 .5-.2 .5 .9 .5-.8 .5-.9 .5 1.8 .5 .3 .5-.4 .5-.8 .5-.3 .5 1.1 .5-.8 .5 .6 .5 .1 .5-.5 .5-1 .5 1.4 .5-.8 .5-.4 .5 .9 .5 .2 .5-.2 .5 .5 .5-1.5 .5 1.5 .5 .6 .5-1 .5-.2 .5 .2 .5 .8 .5-.8 .5-.4 .5-.5 .5 1.8 .5 0 .5-.8 .5 1.2 .5-1.4 .5 .7 .5-1.2 .5 .2 .5 .5 .5 .3 .5 .1 .5-.9 .5 .3 .5 .2 .5-.1 .5 0 .5 .7 .5 .2 .5-1.8 .5 1.9 .5-.7 .5 .1 .5-0 .5 .3 .5-.1 .5-1.3 .5 1.4 .5-1.1 .5 .8 .5-.1 .3-1 .2 .9 .5-.1 .5-.3 .5 1.6 .5-1.1 .5-.3 .5 1.2 .5-1 .5-.1 .5-1.1 .5 1.5 .5 .3 .5 .5 .5-1.7 .5 1.2 .5 .2 .5-.4 .5-.4 .5-1 .5 1.1 .5-.5 .5-.7 .5 1.4 .5-.4 .5-.1 .5 1.3 .5-1.5 .5-.9 .5-.1 .5 1.6 .5-.4 .5-.4 .5-.8 .5 .8 .5-.2 .5 .6 .5-.5 .5 0 .5 .5 .5-.4 .5 .6 .5-2.2 .5 1.3 .5 1.4 .5-.6 .5-.8 .5 .6 .5-.3 .5 .1 .5 1.1 .5-1.1 .5 .3 .5-.6 .5 .1 .5-.5 .5 .5 .5 .1 .5 .1 .5 .2 .5 0 .5 .3 .5-.5 .5 .9 .5-.4 .5 .4 .5-.8 .5 .7 .5-.6 .5-1 .5 .9 .5-.1 .5-.7 .5 .2 .5 .2 .5 1.7 .5-1.1 .5 .8 .5-.5 .5 .1 .5-.2 .5-1.3 .5 1.6 .5-1.3 .5 .8 .5-.3 .5 1 0-.2 .5 .3 .5-.7 .5-.3 .5 .4 .5 1 .5-1.1 .5-.3 .5-.7 .5 .3 .5 .4 .5 .4 .5 0 .5-.4 .5 .2 .5 .8 .5 .2 .5-.4 .5 .2 .5-.1 .5 .3 .5-1.7 .5 .4 .5 .5 .5 .1 .5 .6 .5-1.8 .5 1.1 .5 .1 .5-.5 .5 .3 .5 .7 .5-.3 .5-.3 .5 .3 .5-.2 .5 .6 .5-.5 .5 .6 .5-.8 .5 .3 .5-.6 .5 .6 .5 .6 .5-1 .5 .4 .5 .3 .5-.3 .5 .7 .5-1.1 .5 1.2 .5 .3 .5 .2 .5-.9 .5-.4 .5-.4 .5 1.3 .5 .1 .5-.2 .5 0 .5 .3 .5-.6 .5-.6 .5 .1 .5 .4 .5-.1 .5-.3 .5 .7 .5-.4 .5 1 .5-.3 .5 .5 .5-1.2 .5 .2 .5-.3 .5 1.1 .5 1.7 .5-1.7 .5-.3 .5 .4 .5-.1 .5 .6 .5-.6 .5-.4 .5-.6 .5 1.3 .2 .4 .3-.5 .5-.5 .5 .3 .5 0 .5 .6 .5-.3 .5 .7 .5-.8 .5-.2 .5 1.5 .5-1.6 .5 .1 .5 1.7 .5-1 .5 .9 .5-2.4 .5 2.1 .5-.7 .5 .1 .5 .3 .5-1.8 .5 1.1 .5 .8 .5 1.6 .5-2.2 .5 1.7 .5-.9 .5 .3 .5-1.1 .5 .9 .5-.8 .5-.2 .5 1.5 .5-1.1 .5 .1 .5 .7 .5-.8 .5-.2 .5 .9 .5 0 .5 .8 .5-1.5 .5 1.1 .5 0 .5-.6 .5 .2 .5 .1 .5-.6 .5-.1 .5 1.2 .5-1 .5 .1 .5 1 .5-.7 .5 .1 .5-.6 .5 .2 .5-.1 .5 0 .5 1.5 .5-1.2 .5-.7 .5 .7 .5 1 .5-1 .5 .6 .5-.5 .5-.4 .5 .7 .5-.3 .5 .7 .5 .3 .5-.4 .5 1.5 .5-2 .5 1.3 .5-.5 .5 .6 .5-.5 .5-1.6 .5 1.1 .5 .8 .5-.6 .5-.7 .5 .4 .4 .5 .1 .5 .5-1 .5 .4 .5-.6 .5-.2 .5 .4 .5 1.1 .5-.4 .5-.5 .5 .1 .5 .3 .5-.4 .5-.2 .5 .1 .5 .5 .5-.5 .5 .6 .5-1.5 .5 .6 .5 .2 .5 .6 .5-.9 .5 .2 .5 .5 .5-.2 .5-.4 .5 .2 .5-.3 .5 .9 .5-.2 .5 .3 .5 .7 .5-.5 .5-.5 .5-.3 .5 1.3 .5-1.1 .5-.3 .5 .9 .5-.5 .5-.4 .5 .4 .5 .8 .5-1 .5 .2 .5-.8 .5 .3 .5 .7 .5-.5 .5 .1 .5 .5 .5-.8 .5 1.1 .5-1.3 .5-0 .5-.1 .5-.4 .5 1.2 .5-.3 .5 .7 .5-1.2 .5 .8 .5 .4 .5-.9 .5-0 .5-1.3 .5 2.4 .5-1.1 .5 .4 .5-.7 .5 .5 .5-.8 .5 1 .5-.3 .5-.3 .5 .4 .5-1.2 .5 1.1 .5-.4 .5 1.1 .5-.4 .5-.6 .5-0 .5 1.8 .5-2.3 .5 1.7 .5-.6 .5-.1 .5-1.5 .5 1.5 .5-.7 .5-.2 .5 .8 .5-.7 .5 .7 .5-.9 .5 .9 .5-.1 .5-.7 .5-.1 .5 .1 .5 .1 .5-0 .5 1.4 .5-.9 .5-.4 .5 0 .2-.2 .3 .6 .5-.2 .5-.4 .5 0 .5 .2 .5-.4 .5 .7 .5-.6 .5 .9 .5-.5 .5 .5 .5-.6 .5-.7 .5 .3 .5 .6 .5 .4 .5 0 .5 .1 .5 .1 .5-.1 .5 0 .5-.3 .5 .4 .5-.3 .5 0 .5 .2 .5 1.2 .5-2.1 .5 .6 .5 .2 .5 .4 .5-.2 .5 .9 .5-1.7 .5 1.9 .5-1.7 .5 .3 .5 .8 .5-.2 .5-.1 .5 .1 .5 .2 .5 .4 .5-.3 .5-.9 .5 .3 .5 1.3 .5 .3 .5-.5 .5 .1 .5-.4 .5 1 .5-1.4 .5 .2 .5-.2 .5 1.3 .5-1.1 .5 .6 .5-1 .5-0 .5 1.4 .5-.2 .5 .2 .5-.4 .5-.2 .5-0 .5-.4 .5 .5 .5 1 .5-.8 .5-.7 .5 .7 .5-.4 .5-.1 .5 .7 .5-.4 .5-.2 .5 1.6 .5 .1 .5-.9 .5 .8 .5-1 .5 .2 .5 .8 .5-.5 .5 .3 .5-2 .5 1.7 .5-.3 .5 .2 .5-.8 .5 .5 .5 .7 .5 0 .5 .2 .5 0 .5 .2 .5-.4 .5-.3 .5-.2 .5 .1 .5-.3 .5 0 .5 .5 .5-1.2 .5 .6 .5 .2 0 .8 .5 .3 .5-.4 .5-.2 .5-.3 .5 .9 .5-.2 .5-.7 .5 .3 .5 .3 .5 .3 .5-.7 .5 1 .5-.2 .5-.9 .5 .2 .5-.4 .5-0 .5 .7 .5 .6 .5 0 .5-.7 .5-.3 .5-.1 .5 .6 .5-.5 .5 .6 .5-.4 .5 .2 .5-.4 .5 1.4 .5-.5 .5-.6 .5-.5 .5 .8 .5 .1 .5-1 .5 .6 .5 1.1 .5-1 .5-.3 .5 .5 .5 .7 .5-1.2 .5-0 .5 .1 .5 .2 .5 .6 .5-.5 .5-1.4 .5 1.5 .5-0 .5 .1 .5-.2 .5-.2 .5 .4 .5-.7 .5-.6 .5 .8 .5-.4 .5 1.5 .5-1 .5 .9 .5-1.6 .5 .1 .5 .9 .5-1.2 .5 .6 .5-.7 .5 1.3 .5-1.2 .5 .9 .5-.9 .5 1.3 .5 .3 .5-.5 .5-.7 .5 .8 .5 .3 .5-.1 .5 .3 .5 .3 .5-.9 .5-.2 .5-.3 .5 .4 .5-.1 .5-.2 .5 .5 .5 .9 .5-1.5 .5 .1 .5 .1 .5-.4 .5 1.2 .5-.7 .5 .5 .5-1.3 .5 1.2 .5-.3 .5-.8 .5 1.3 .5 .1 .5-.4 .5 .1 .5-.8 .5 1.1 .5-.7 .5 .4 .5 .1 .5-.1 .5-.6 .5 .5 .5-.1 .5 .6 .5-1 .5 .9 .5-.3 .5-.2 .5 1 .5-.6 .5-.7 .5 .5 .5-.6 .5-.2 .5 .3 .5 0 .5 1.3 .5-.5 0-1.8 .5 1.2 .5-.3 .5 .4 .5 .1 .5-0 .5 .2 .5-.7 .5 1.2 .5-.8 .5 .8 .5-.8 .5 .4 .5-.8 .5 1.1 .5-.4 .5-.4 .5 .4 .5 .1 .5-1.1 .5 .4 .5-.1 .5 1 .5-.4 .5-.4 .5-0 .5 .3 .5-1.2 .5 1.2 .5 .9 .5-1.6 .5 .1 .5 .1 .5 .9 .5-.7 .5 1.5 .5-1.2 .5-.1 .5-.4 .5 1 .5 .2 .5-.4 .5 .6 .5-0 .5-.5 .5-.2 .5-.3 .5 .4 .5-.3 .5 1 .5-.4 .5-.5 .5-.1 .5 .5 .5 .3 .5-.4 .5 .4 .5-.8 .5 .4 .5 .2 .5-.2 .5 .1 .5 .4 .5-.6 .5 .6 .5-.9 .5 .6 .5-.5 .5 0 .5 .6 .5 .4 .5-.8 .5 .1 .5 .7 .5-1.2 .5 1 .5-1.2 .5-.4 .5 1.3 .5-.4 .5-.1 .5-1 .5 1.5 .5-.5 .5-.4 .5 .6 .2-.6 .3 .3 .5-.1 .5 1 .5-.6 .5 .8 .5-1.2 .5-.2 .5 1.6 .5-1.7 .5 1.4 .5-1.2 .5 1 .5-.8 .5 1.2 .5 .3 .5-.5 .5-.4 .5-.4 .5 .6 .5 .7 .5-1.4 .5-.3 .5 1.6 .5-1.1 .5 .5 .5-.3 .5 0 .5-.3 .5 .1 .5-.8 .5 .6 .5-.2 .5 1.1 .5-.8 .5 .2 .5-.9 .5 .9 .5 .8 .5-.7 .5 .4 .5-.7 .5-.1 .5 .8 .5-.8 .5-.3 .5 .5 .5-.1 .5 .8 .5-.2 .5-1.2 .5 1.1 .5-1 .5 .8 .5 .2 .5-.6 .5-0 .5 .7 .5-.6 .5-.4 .5 1.5 .5-.4 .5-.2 .5-.1 .5 .4 .5-.6 .5 .4 .5-.2 .5-.6 .5 1 .5-.5 .5-.5 .5 .2 .5-1.1 .5 .4 .5 .1 .5 1.2 .5-0 .5 .2 .5-.4 .5 .7 .5-1.2 .5-.1 .5-.1 .5 .6 .5-.5 .5-.1 .5 .2 .5 .4 .5-.8 .5 .7 .5-0 .5 .9 .5-.9 .5-.8 .5 .9 .5-0 .5-.8 .5-1 .5 2.1 .5-.5 .5-.3 .5 .3 .5 .8 .5 .2 .5-1.2 .5 1.1 .5-.9 .5 .1 .5-.1 .5 0 .5-0 .5-.3 .5 .4 .5-.6 .5 .9 .5-.7 .5 .6 .5-.3 .5-.9 .5 1.6 .5-.5 .5-.2 .5-.1 .5 1.1 .5-1.1 .5 .7 .5-.4 .5-.9 .5 1.1 .5-1.2 .5 1.1 .5-0 .5-.1 .5-.6 .5 1.2 .5 .2 .5-1.5 .5 .3 .5 1.1 .5-1.1 .5 .8 .5-1.1 .5 .2 .5 .5 .5 .1 .5-1.1 .5 .3 .5 .8 .5 .5 .5-.5 .5-.1 .5 .1 .5-.9 .5 .9 .5 .2 0-.1 .5-1 .5 .1 .5 1.2 .5-1.4 .5 .1 .5 1.5 .5-1.4 .5 .1 .5 .8 .5 .1 .5-.6 .5-.7 .5 .5 .5 .4 .5-.6 .5-0 .5 1.2 .5-.4 .5 .1 .5 .1 .5-1.1 .5 .9 .5 .4 .5-.3 .5-1.1 .5-.2 .5 .4 .5 .8 .5-.4 .5 .2 .5-.9 .5 1.2 .5-.9 .5 1 .5-.6 .5-1.7 .5 1.6 .5-.4 .5 0 .5 .4 .5 .6 .5-.1 .5 .3 .5-.8 .5-1 .5 .7 .5-.2 .5 .1 .5 1.8 .5-1 .5-1 .5 1.2 .5-.9 .5-.6 .5 1.4 .5-.9 .5 .3 .5 1.2 .5-1.9 .5 1.2 .5-.8 .5-.5 .5 .5 .5 .2 .5-0 .5-1 .5 1.3 .5-1 .5 .7 .5-.1 .5-.5 .5 .6 .5-.7 .5-.2 .5-.3 .5-.2 .4 .6 .1-.8 .5 .9 .5-.3 .5 1 .5-1.9 .5 1 .5-.8 .5-.4 .5-.9 .5-.5 .5-.1 .5-.2 .5 0 .3-.7 .2 1 .5-.2 .5-2.6 .5 1.2 .5-.4 .5-.7 .5-1.2 .5 .3 .5 .8 .5 .4 .5-.2 .1 0 .4-.4 .5 .8 .5-.1 .5 .7 .5-.4 .5 .1 .5-.1 .5 2.1 .5-.8 .5 .1 .5-.3 0 1.5 .5-.7 .5 1.1 .5 .5 .5 1 .5-.8 .5-.3 .5 1.9 .5-.1 .5-.2 .5 .6 .5 1.2 .5-.9 .4-.3 .1 .3 .5 .4 .5-.1 .5-0 .5-0 .5-.8 .5 1 .5 .2 .5-.2 .5-.3 .5-0 .5 .1 .5-0 .5-1 .5 .9 .5 .8 .5-.9 .5-.1 .5 .7 .5-.3 .5-.4 .5 .5 .5 .8 .5 .1 .5-.9 .5-.2 .5 .8 .5-.4 .5 .1 .5-.4 .5-.7 .5-0 .5 .7 .5-.5 .5 1.1 .5 0 .5 .3 .5-.7 .5 1 .5-.3 .5-.5 .5 .2 .5-.7 .5-1.5 .5 2.4 .5-.3 .5 .6 .5-.6 .5-.4 .5-.2 .5-0 .5 .4 .5-1.1 .5 .4 .5 1.1 .5-1.6 .5 .3 .5 .5 .5 .1 .5 .3 .5 .4 .5-.3 .5 .2 .5-.7 .5 .4 .5-.4 .5 .3 .5 .4 .5-0 .5-1.4 .5 .4 .5 1.8 .5-2.3 .5 1.2 .5-.7 .5 .6 .5-.2 .5 .3 .5-.6 .5 1.2 .5 .6 .5-2.6 .5 .9 .5-.4 .5 1 .5 .7 .5-0 .5-.1 .5-.6 .5-.4 .2 .9 .3-.9 .5-.1 .5 .4 .5-.7 .5 .6 .5-.4 .5 .6 .5 .4 .5-.8 .5 .6 .5 .2 .5-.9 .5 .4 .5-.2 .5 1.2 .5-1.3 .5 .4 .5-.9 .5 .3 .5 .8 .5-.5 .5 .6 .5-.4 .5 1.4 .5-1.5 .5 .6 .5-.9 .5 .2 .5-.7 .5 2.4 .5-2.7 .5 1.3 .5-.3 .5 .6 .5-.7 .5 1.4 .5-.5 .5-.3 .5-0 .5 .3 .5-.3 .5 .6 .5-.4 .5-.5 .5 .3 .5-.2 .5 .6 .5-.8 .5 .2 .5-.8 .5 1.1 .5-.2 .5-.5 .5 1.3 .5-.9 .5-.7 .5 1.3 .5-.8 .5-1.6 .5 1.9 .5-.2 .5 .1 .5-.2 .5-.3 .5 .5 .5-1 .5 .8 .5 .6 .5 .1 .5-.8 .5 1.3 .5-.9 .5-.4 .5 .3 .5-.4 .5 .8 .5-1 .5 .1 .5-.2 .5 .2 .5 .3 .5 1.2 .5-.9 .5 .5 .5-.6 .5 .5 .5-1.1 .5-.1 .5 1.7 .5-.9 .5-1 .5 1.2 .5-.5 .5-0 .5 .6 .5-1.1 .5 1.3 .5-.5 .5-.4 .5-.5 .5 1.7 .5-1.2 .5-.5 .5 .6 .5 .4 .5 .1 .5 .4 0-.5 .5-.3 .5 1.3 .5-.2 .5-1.8 .5 1.2 .5-.9 .5 1.1 .5-1.4 .5 .7 .5 .6 .5-.7 .5 .3 .5-1 .5-.4 .5-0 .5 .9 .5-.8 .5 1.1 .5-1.1 .5 .9 .5-.6 .5-.9 .5 .5 .5 .2 .5-.1 .5-.4 .5 .6 .5-.2 .5-.1 .5-1 .5-.8 .5 1.4 .5-.9 .5 .1 .1 .2 .4 .2 .5-1.2 .5 .8 .5 .7 .5-1.6 .5 .5 .5 .9 .5-.5 .5-.2 .5-.4 .5-1 .5 .8 .5-.7 .5 .5 .5-.6 .5-.4 .5 .6 .5 .5 .5-.9 .5 .3 .5 .2 .5-.2 .5-1 .5 .4 .5 .5 .4-.2 .1 1 .5-.7 .5-.8 .5 1 .5 .3 .5-.2 .5 .1 .5-1 .5 .9 .5 .5 .5-.4 .5 .2 .5 .6 .5-.4 .5 0 .5 .6 .5 .2 .5 .7 .5-.4 .5-.4 .5 1.1 .5-.6 .5 1 .5-.7 .5 .8 .5-.1 .2-.3 .3-.5 .5 .5 .5 1.1 .5-.6 .5 .6 .5-.6 .5 0 .5-.5 .5 .8 .5-.6 .5 0 .5 1.1 .5-1.1 .5 1.9 .5-1.2 .5-.3 .5 1.1 .5-1.2 .5 .6 .5 0 .5 .6 .5 .4 .5-.7 .5-.9 .5 0 .5 .5 .5 .8 .5-.3 .5 .1 .5-.3 .5 .9 .5-1.3 .5 1.7 .5-.4 .5-.2 .5-.4 .5-.1 .5 .2 .5-.3 .5 .1 .5-.2 .5 .9 .5-.3 .5 .2 .5-.6 .5-.3 .5 .2 .5 .7 .5-.8 .5 1 .5-.8 .5 .3 .5 .4 .5-.8 .5-.5 .5 1.8 .5-.7 .5-.2 .5 1.2 .5 .4 .5-1.2 .5 .2 .5 1.3 .5-1.8 .2 1 .3-.1 .5-.8 .5-.2 .5 .1 .5 .5 .5 .2 .5 1.2 .5-2 .5 .7 .5-.5 .5 .9 .5-.2 .5-.9 .5 .5 .5 .3 .5 .3 .5-.1 .5 .1 .5-.3 .5 .3 .5-.2 .5 .5 .5-.2 .5-.8 .5 .4 .5-.3 .5 .3 .5 .4 .5-.2 .5-.1 .5-.3 .5 1.2 .5-.8 .5-.5 .5 .2 .5 .8 .5 .6 .5-.4 .5-.8 .5 .6 .5-1.3 .5 1.3 .5-.5 .5 .2 .5-.8 .5 .9 .5-.9 .5-.2 .5 1.8 .5-1.5 .5 1.2 .5-.8 .5 .2 .5 .1 .5 .6 .5-.3 .5-.7 .5 .2 .5 1 .5 0 .5-1 .5 .8 .5-.5 .5 .6 .5-1.1 .5 1 .5-.8 .5-.4 .5 1.1 .5-0 .5-1.1 .5-.5 .5 1.2 .5 .4 .5-.6 .5 .4 .5-.3 .5-.1 .5 .6 .5 .4 .5-.4 .5-.4 .5-.2 .5 .5 .5-1.3 .4 1.3 .1-.1 .5 0 .5-.1 .5 .1 .5-.7 .5 1.2 .5-.6 .5 .2 .5-.2 .5-.6 .5 1.2 .5-.5 .5 0 .5 .4 .5 .7 .5-.9 .5 .3 .5 .8 .5-1.2 .5 .8 .5-.6 .5 .5 .5-.4 .5 .4 .5-.9 .5 .2 .5-.1 .5 .2 .5 .8 .5-.4 .5 .2 .5-.5 .5 .2 .5 .2 .5-0 .5-.5 .5 .1 .5-.4 .5 1 .5 .2 .5 .5 .5-2.8 .5 2.2 .5-.1 .5 1.1 .5-1.7 .5-.1 .5 .5 .5-.9 .5 .1 .5 1.1 .5-1.3 .5 .3 .5 1.3 .5-.3 .5-1 .5 1.5 .5-.7 .5-.3 .5 .3 .5-.1 .5 .7 .5-.3 .5-.8 .5 .2 .5 .7 .5-.7 .5-.2 .5-.8 .5 1.8 .5-.4 .5-.2 .5-.3 .5 .2 .5 .3 .5-.6 .5 .7 .5 .9 .5-1.2 .5 .3 .5 .8 .5-.8 .5 .9 .5-.3 .5-.1 .5-.6 .5-.1 .5 1 .5-.7 .5-.1 .5-1.1 .5 1.1 .5 1.5 .5-1 .5 .6 .5-.8 .5-.9 .5 .9 .5 .9 .5-.9 .5-.2 .5 0 .5-.5 .5 .5 .5 .2 .5 .5 .5-.1 .5-1 .5-.4 .5 .8 .5-.2 .5 .9 .5-1 .5 .9 .5-.6 .5 .9 .5-.6 .5-1.1 .5-.2 .5 1.5 .5-.7 .5 1.1 .5-.6 .5 1.1 .5-1 .5-.4 .5-.7 .5 1.4" fill="none" stroke="#ff0000" stroke-width="6.7" stroke-linejoin="round" stroke-linecap="butt" clip-path="url(#clipLo)" />
</g>
<g id="markers" fill="#000">
<use href="#tri" x="763.4" y="118.0"/>
<use href="#tri" x="425.5" y="1444.2"/>
<use href="#tri" x="1077.1" y="1454.3"/>
<use href="#tri" x="1135.9" y="1419.8"/>
<use href="#tri" x="1181.0" y="1379.5"/>
<use href="#tri" x="1316.8" y="1473.9"/>
<use href="#tri" x="1422.0" y="1366.2"/>
<use href="#tri" x="1536.2" y="1461.2"/>
<use href="#tri" x="1762.8" y="1489.7"/>
<use href="#tri" x="1788.8" y="1491.6"/>
<use href="#tri" x="1954.0" y="1436.7"/>
<use href="#tri" x="2096.1" y="1464.0"/>
<use href="#tri" x="2133.9" y="1493.9"/>
<use href="#tri" x="2173.8" y="1487.0"/>
<use href="#dia" x="1045.2" y="1442.6"/>
<use href="#dia" x="1196.4" y="1376.7"/>
<use href="#dia" x="1670.6" y="1473.6"/>
<use href="#dia" x="1993.0" y="1489.2"/>
<use href="#dia" x="2061.4" y="1486.7"/>
<use href="#dot" x="821.4" y="1438.1"/>
<use href="#dot" x="856.3" y="1379.5"/>
<use href="#dot" x="885.6" y="1372.0"/>
<use href="#dot" x="940.2" y="1439.3"/>
<use href="#dot" x="983.8" y="1443.3"/>
<use href="#dot" x="1002.6" y="1443.3"/>
<use href="#dot" x="1281.8" y="1470.0"/>
</g>
<g id="axes" stroke="#000" stroke-width="5.0" fill="none" stroke-linecap="butt">
<path d="M365.0 55.8 L2247.5 55.8"/>
<path d="M2245.0 55.8 L2245.0 1593.9"/>
<path d="M496.1 1564.9 L496.1 1579.4"/>
<path d="M612.7 1564.9 L612.7 1593.9"/>
<path d="M729.3 1564.9 L729.3 1579.4"/>
<path d="M845.9 1564.9 L845.9 1593.9"/>
<path d="M962.5 1564.9 L962.5 1579.4"/>
<path d="M1079.1 1564.9 L1079.1 1593.9"/>
<path d="M1195.7 1564.9 L1195.7 1579.4"/>
<path d="M1312.2 1564.9 L1312.2 1593.9"/>
<path d="M1428.8 1564.9 L1428.8 1579.4"/>
<path d="M1545.4 1564.9 L1545.4 1593.9"/>
<path d="M1662.0 1564.9 L1662.0 1579.4"/>
<path d="M1778.6 1564.9 L1778.6 1593.9"/>
<path d="M1895.2 1564.9 L1895.2 1579.4"/>
<path d="M2011.8 1564.9 L2011.8 1593.9"/>
<path d="M2128.4 1564.9 L2128.4 1579.4"/>
<path d="M365.0 1494.3 L379.5 1494.3"/>
<path d="M350.0 1423.7 L379.5 1423.7"/>
<path d="M365.0 1353.0 L379.5 1353.0"/>
<path d="M350.0 1282.4 L379.5 1282.4"/>
<path d="M365.0 1211.8 L379.5 1211.8"/>
<path d="M350.0 1141.2 L379.5 1141.2"/>
<path d="M365.0 1070.5 L379.5 1070.5"/>
<path d="M350.0 999.9 L379.5 999.9"/>
<path d="M365.0 929.3 L379.5 929.3"/>
<path d="M350.0 858.7 L379.5 858.7"/>
<path d="M365.0 788.0 L379.5 788.0"/>
<path d="M350.0 717.4 L379.5 717.4"/>
<path d="M365.0 646.8 L379.5 646.8"/>
<path d="M350.0 576.2 L379.5 576.2"/>
<path d="M365.0 505.5 L379.5 505.5"/>
<path d="M350.0 126.4 L379.5 126.4"/>
<path d="M365.0 197.6 L379.5 197.6"/>
<path d="M350.0 267.7 L379.5 267.7"/>
<path d="M365.0 338.8 L379.5 338.8"/>
</g>
<g stroke="#000" stroke-width="4.5" stroke-linecap="butt">
<path d="M350.6 425.3 L408.7 392.9"/><path d="M350.6 451.4 L408.7 418.9"/>
</g>
<g id="xticklabels">
<text transform="translate(379.5 1665.5) scale(1 1.04)" font-size="63.5" text-anchor="middle" >10</text>
<text transform="translate(612.7 1665.5) scale(1 1.04)" font-size="63.5" text-anchor="middle" >20</text>
<text transform="translate(845.9 1665.5) scale(1 1.04)" font-size="63.5" text-anchor="middle" >30</text>
<text transform="translate(1079.1 1665.5) scale(1 1.04)" font-size="63.5" text-anchor="middle" >40</text>
<text transform="translate(1312.2 1665.5) scale(1 1.04)" font-size="63.5" text-anchor="middle" >50</text>
<text transform="translate(1545.4 1665.5) scale(1 1.04)" font-size="63.5" text-anchor="middle" >60</text>
<text transform="translate(1778.6 1665.5) scale(1 1.04)" font-size="63.5" text-anchor="middle" >70</text>
<text transform="translate(2011.8 1665.5) scale(1 1.04)" font-size="63.5" text-anchor="middle" >80</text>
<text transform="translate(2245.0 1665.5) scale(1 1.04)" font-size="63.5" text-anchor="middle" >90</text>
</g>
<g id="yticklabels">
<text transform="translate(330 1584.7) scale(1 1.04)" font-size="63.5" text-anchor="end" >0</text>
<text transform="translate(329.3 1447.5) scale(1 1.04)" font-size="63.5" text-anchor="end" >1×10<tspan dy="-25.4" font-size="43.8">4</tspan></text>
<text transform="translate(329.3 1306.2) scale(1 1.04)" font-size="63.5" text-anchor="end" >2×10<tspan dy="-25.4" font-size="43.8">4</tspan></text>
<text transform="translate(329.3 1165.0) scale(1 1.04)" font-size="63.5" text-anchor="end" >3×10<tspan dy="-25.4" font-size="43.8">4</tspan></text>
<text transform="translate(329.3 1023.7) scale(1 1.04)" font-size="63.5" text-anchor="end" >4×10<tspan dy="-25.4" font-size="43.8">4</tspan></text>
<text transform="translate(329.3 882.5) scale(1 1.04)" font-size="63.5" text-anchor="end" >5×10<tspan dy="-25.4" font-size="43.8">4</tspan></text>
<text transform="translate(329.3 741.2) scale(1 1.04)" font-size="63.5" text-anchor="end" >6×10<tspan dy="-25.4" font-size="43.8">4</tspan></text>
<text transform="translate(329.3 600.0) scale(1 1.04)" font-size="63.5" text-anchor="end" >7×10<tspan dy="-25.4" font-size="43.8">4</tspan></text>
<text transform="translate(329.3 291.5) scale(1 1.04)" font-size="63.5" text-anchor="end" >2×10<tspan dy="-25.4" font-size="43.8">5</tspan></text>
<text transform="translate(329.3 150.2) scale(1 1.04)" font-size="63.5" text-anchor="end" >2×10<tspan dy="-25.4" font-size="43.8">5</tspan></text>
</g>
<text transform="translate(980.5 1808.2) scale(1 1.03)" font-size="92.3" text-anchor="start" >Diffraction 2</text>
<text class="sym" transform="translate(1474.2 1808.6) scale(1.10 1.0)" font-size="92.3">θ</text>
<text transform="translate(1544.3 1808.2) scale(1 1.03)" font-size="92.3" text-anchor="start" letter-spacing="1.3">(°)</text>
<text transform="translate(110.1 808.7) rotate(-90) scale(1 1.03)" font-size="92.3" text-anchor="middle" letter-spacing="0.3">Intensity (a.u.)</text>
<g id="annot">
<text transform="translate(394 817.6) scale(1 1.03)" font-size="71.0" text-anchor="start" >(002)-band</text>
<text transform="translate(410 931.6) scale(1 1.03)" font-size="71.0" text-anchor="start" ><tspan class="sym">γ</tspan>-band</text>
<text transform="translate(957 1043.3) scale(1 1.03)" font-size="71.0" text-anchor="start" >(10)-band</text>
<text transform="translate(1864.5 1092.3) scale(1 1.03)" font-size="71.0" text-anchor="start" >(11)-band</text>
</g>
<g stroke="#000" stroke-width="1.1" fill="none">
<path d="M660.5 853.2 L702.6 1046.9"/>
<path d="M619.2 944.1 L638.7 986.2"/>
<path d="M1089.05 1057.0 L1089.05 1135.5"/>
<path d="M2016.45 1112.1 L2016.45 1174.8"/>
</g>
<g id="legend">
<path d="M1219.4 122.1 L1378.5 122.1" stroke="#ff00ff" stroke-width="6.4" stroke-linecap="round" fill="none"/>
<text transform="translate(1397.6 146.3) scale(1 1.03)" font-size="70.45" text-anchor="start" >SG</text>
<path d="M1219.4 209.7 L1378.5 209.7" stroke="#000000" stroke-width="6.4" stroke-linecap="round" fill="none"/>
<text transform="translate(1397.6 234.0) scale(1 1.03)" font-size="70.45" text-anchor="start" >Unaged AP-5 SG 0 wt.%</text>
<path d="M1219.4 297.4 L1378.5 297.4" stroke="#008000" stroke-width="6.4" stroke-linecap="round" fill="none"/>
<text transform="translate(1397.6 321.2) scale(1 1.03)" font-size="70.45" text-anchor="start" >Unaged AP-5 SG 5 wt.%</text>
<path d="M1219.4 384.9 L1378.5 384.9" stroke="#0000ff" stroke-width="6.4" stroke-linecap="round" fill="none"/>
<text transform="translate(1397.6 408.9) scale(1 1.03)" font-size="70.45" text-anchor="start" >Unaged AP-5 SG 10 wt.%</text>
<path d="M1219.4 472.4 L1378.5 472.4" stroke="#ff0000" stroke-width="6.4" stroke-linecap="round" fill="none"/>
<text transform="translate(1397.6 496.6) scale(1 1.03)" font-size="70.45" text-anchor="start" >Unaged AP-5 SG 15 wt.%</text>
<path d="M1229.6 540.8 L1273.4 540.8 L1251.5 584.6 Z" fill="#000"/>
<text transform="translate(1302.8 584.2) scale(1 1.03)" font-size="70.45" text-anchor="start" >Graphite (C)</text>
<path transform="translate(1242 660.75)" d="M0 -26 Q8.7 -11.7 19.3 0 Q8.7 11.7 0 26 Q-8.7 11.7 -19.3 0 Q-8.7 -11.7 0 -26 Z" fill="#000"/>
<text transform="translate(1303.5 685.4) scale(1 1.03)" font-size="70.45" text-anchor="start" >Griceite (LiF)</text>
<circle cx="1243.5" cy="761.6" r="16.7" fill="#000"/>
<text transform="translate(1306 783) scale(1 1.03)" font-size="70.45" text-anchor="start" >Graftonite (Fe<tspan dy="18.4" font-size="46.7">3</tspan><tspan dy="-18.4">(PO</tspan><tspan dy="18.4" font-size="46.7">4</tspan><tspan dy="-18.4" dx="2">)</tspan><tspan dy="18.4" font-size="46.7">2</tspan><tspan dy="-18.4" dx="2">)</tspan></text>
</g>
</svg>
</body>
</html>
